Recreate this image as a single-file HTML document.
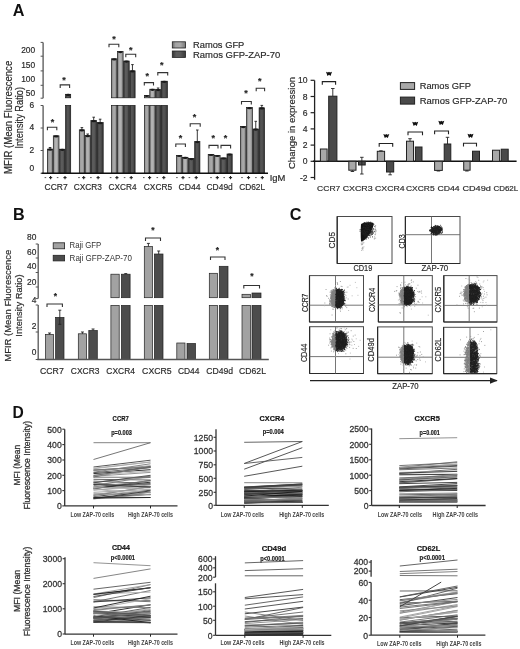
<!DOCTYPE html>
<html><head><meta charset="utf-8"><title>Figure</title>
<style>
html,body{margin:0;padding:0;background:#fff;}
body{width:520px;height:649px;overflow:hidden;}
svg{filter:blur(0.35px);}
</style></head><body>
<svg width="520" height="649" viewBox="0 0 520 649" style="display:block">
<defs>
<linearGradient id="gl" x1="0" x2="1" y1="0" y2="0">
<stop offset="0" stop-color="#6a6a6a"/><stop offset="0.25" stop-color="#a4a4a4"/><stop offset="0.6" stop-color="#aaaaaa"/><stop offset="1" stop-color="#7a7a7a"/></linearGradient>
<linearGradient id="gl2" x1="0" x2="1" y1="0" y2="0">
<stop offset="0" stop-color="#707070"/><stop offset="0.3" stop-color="#b0b0b0"/><stop offset="0.6" stop-color="#b4b4b4"/><stop offset="1" stop-color="#808080"/></linearGradient>
<linearGradient id="gd" x1="0" x2="1" y1="0" y2="0">
<stop offset="0" stop-color="#333"/><stop offset="0.3" stop-color="#5c5c5c"/><stop offset="0.6" stop-color="#5a5a5a"/><stop offset="1" stop-color="#3a3a3a"/></linearGradient>
<linearGradient id="gd2" x1="0" x2="1" y1="0" y2="0">
<stop offset="0" stop-color="#2a2a2a"/><stop offset="0.3" stop-color="#555"/><stop offset="0.6" stop-color="#525252"/><stop offset="1" stop-color="#333"/></linearGradient>
<filter id="fb1" x="-50%" y="-50%" width="200%" height="200%"><feGaussianBlur stdDeviation="0.7"/></filter>
<filter id="fb2" x="-50%" y="-50%" width="200%" height="200%"><feGaussianBlur stdDeviation="1.4"/></filter>
<marker id="arr" viewBox="0 0 10 10" refX="9" refY="5" markerWidth="6" markerHeight="6" orient="auto"><path d="M0 1L10 5L0 9z" fill="#222"/></marker>
</defs>
<g font-family='"Liberation Sans", sans-serif'>
<text x="12.70" y="15.60" font-size="16.2" text-anchor="start" font-weight="bold" fill="#111">A</text>
<line x1="43.10" y1="42.40" x2="43.10" y2="98.20" stroke="#555" stroke-width="1.3"/>
<line x1="40.60" y1="42.40" x2="43.10" y2="42.40" stroke="#555" stroke-width="1"/>
<line x1="40.60" y1="56.20" x2="43.10" y2="56.20" stroke="#555" stroke-width="1"/>
<line x1="40.60" y1="70.90" x2="43.10" y2="70.90" stroke="#555" stroke-width="1"/>
<line x1="40.60" y1="85.30" x2="43.10" y2="85.30" stroke="#555" stroke-width="1"/>
<line x1="40.60" y1="98.20" x2="43.10" y2="98.20" stroke="#555" stroke-width="1"/>
<line x1="43.10" y1="105.50" x2="43.10" y2="173.30" stroke="#555" stroke-width="1.3"/>
<line x1="40.60" y1="105.50" x2="43.10" y2="105.50" stroke="#555" stroke-width="1"/>
<line x1="40.60" y1="128.00" x2="43.10" y2="128.00" stroke="#555" stroke-width="1"/>
<line x1="40.60" y1="150.50" x2="43.10" y2="150.50" stroke="#555" stroke-width="1"/>
<line x1="40.60" y1="173.30" x2="43.10" y2="173.30" stroke="#555" stroke-width="1"/>
<text x="35.20" y="53.00" font-size="8.4" text-anchor="end" font-weight="normal" fill="#2a2a2a" stroke="#2a2a2a" stroke-width="0.18">200</text>
<text x="35.20" y="67.50" font-size="8.4" text-anchor="end" font-weight="normal" fill="#2a2a2a" stroke="#2a2a2a" stroke-width="0.18">150</text>
<text x="35.20" y="82.00" font-size="8.4" text-anchor="end" font-weight="normal" fill="#2a2a2a" stroke="#2a2a2a" stroke-width="0.18">100</text>
<text x="35.20" y="96.00" font-size="8.4" text-anchor="end" font-weight="normal" fill="#2a2a2a" stroke="#2a2a2a" stroke-width="0.18">50</text>
<text x="34.20" y="108.30" font-size="8.4" text-anchor="end" font-weight="normal" fill="#2a2a2a" stroke="#2a2a2a" stroke-width="0.18">6</text>
<text x="34.20" y="130.00" font-size="8.4" text-anchor="end" font-weight="normal" fill="#2a2a2a" stroke="#2a2a2a" stroke-width="0.18">4</text>
<text x="34.20" y="152.70" font-size="8.4" text-anchor="end" font-weight="normal" fill="#2a2a2a" stroke="#2a2a2a" stroke-width="0.18">2</text>
<text x="34.20" y="171.00" font-size="8.4" text-anchor="end" font-weight="normal" fill="#2a2a2a" stroke="#2a2a2a" stroke-width="0.18">0</text>
<text x="12.00" y="173.90" font-size="10" text-anchor="start" font-weight="normal" fill="#2a2a2a" stroke="#2a2a2a" stroke-width="0.18" textLength="113.10" lengthAdjust="spacingAndGlyphs" transform="rotate(-90 12.00 173.90)">MFIR (Mean Fluorescence</text>
<text x="23.20" y="148.60" font-size="10" text-anchor="start" font-weight="normal" fill="#2a2a2a" stroke="#2a2a2a" stroke-width="0.18" textLength="61.60" lengthAdjust="spacingAndGlyphs" transform="rotate(-90 23.20 148.60)">Intensity Ratio)</text>
<rect x="47.40" y="149.10" width="5.30" height="24.20" fill="url(#gl)" stroke="#1a1a1a" stroke-width="0.7"/>
<ellipse cx="50.05" cy="149.70" rx="2.35" ry="1.1" fill="#1a1a1a"/>
<line x1="50.05" y1="147.50" x2="50.05" y2="149.10" stroke="#222" stroke-width="0.9"/>
<line x1="48.75" y1="147.50" x2="51.35" y2="147.50" stroke="#222" stroke-width="0.9"/>
<rect x="53.30" y="135.80" width="5.70" height="37.50" fill="url(#gl2)" stroke="#1a1a1a" stroke-width="0.7"/>
<ellipse cx="56.15" cy="136.40" rx="2.55" ry="1.1" fill="#1a1a1a"/>
<rect x="59.60" y="149.20" width="5.40" height="24.10" fill="url(#gd)" stroke="#1a1a1a" stroke-width="0.7"/>
<ellipse cx="62.30" cy="149.80" rx="2.40" ry="1.1" fill="#1a1a1a"/>
<rect x="65.60" y="94.30" width="5.10" height="3.50" fill="url(#gd2)" stroke="#1a1a1a" stroke-width="0.7"/>
<rect x="65.60" y="105.40" width="5.10" height="67.90" fill="url(#gd2)" stroke="#1a1a1a" stroke-width="0.7"/>
<ellipse cx="68.15" cy="94.90" rx="2.25" ry="1.1" fill="#1a1a1a"/>
<rect x="79.30" y="129.80" width="5.20" height="43.50" fill="url(#gl)" stroke="#1a1a1a" stroke-width="0.7"/>
<ellipse cx="81.90" cy="130.40" rx="2.30" ry="1.1" fill="#1a1a1a"/>
<line x1="81.90" y1="127.60" x2="81.90" y2="129.80" stroke="#222" stroke-width="0.9"/>
<line x1="80.60" y1="127.60" x2="83.20" y2="127.60" stroke="#222" stroke-width="0.9"/>
<rect x="85.10" y="135.60" width="5.20" height="37.70" fill="url(#gl2)" stroke="#1a1a1a" stroke-width="0.7"/>
<ellipse cx="87.70" cy="136.20" rx="2.30" ry="1.1" fill="#1a1a1a"/>
<line x1="87.70" y1="134.00" x2="87.70" y2="135.60" stroke="#222" stroke-width="0.9"/>
<line x1="86.40" y1="134.00" x2="89.00" y2="134.00" stroke="#222" stroke-width="0.9"/>
<rect x="90.90" y="120.60" width="5.60" height="52.70" fill="url(#gd)" stroke="#1a1a1a" stroke-width="0.7"/>
<ellipse cx="93.70" cy="121.20" rx="2.50" ry="1.1" fill="#1a1a1a"/>
<line x1="93.70" y1="117.20" x2="93.70" y2="120.60" stroke="#222" stroke-width="0.9"/>
<line x1="92.40" y1="117.20" x2="95.00" y2="117.20" stroke="#222" stroke-width="0.9"/>
<rect x="97.10" y="122.60" width="6.10" height="50.70" fill="url(#gd2)" stroke="#1a1a1a" stroke-width="0.7"/>
<ellipse cx="100.15" cy="123.20" rx="2.75" ry="1.1" fill="#1a1a1a"/>
<line x1="100.15" y1="119.20" x2="100.15" y2="122.60" stroke="#222" stroke-width="0.9"/>
<line x1="98.85" y1="119.20" x2="101.45" y2="119.20" stroke="#222" stroke-width="0.9"/>
<rect x="111.50" y="58.80" width="5.40" height="39.00" fill="url(#gl)" stroke="#1a1a1a" stroke-width="0.7"/>
<rect x="111.50" y="105.40" width="5.40" height="67.90" fill="url(#gl)" stroke="#1a1a1a" stroke-width="0.7"/>
<ellipse cx="114.20" cy="59.40" rx="2.40" ry="1.1" fill="#1a1a1a"/>
<rect x="117.50" y="51.50" width="5.60" height="46.30" fill="url(#gl2)" stroke="#1a1a1a" stroke-width="0.7"/>
<rect x="117.50" y="105.40" width="5.60" height="67.90" fill="url(#gl2)" stroke="#1a1a1a" stroke-width="0.7"/>
<ellipse cx="120.30" cy="52.10" rx="2.50" ry="1.1" fill="#1a1a1a"/>
<rect x="123.70" y="61.00" width="5.50" height="36.80" fill="url(#gd)" stroke="#1a1a1a" stroke-width="0.7"/>
<rect x="123.70" y="105.40" width="5.50" height="67.90" fill="url(#gd)" stroke="#1a1a1a" stroke-width="0.7"/>
<ellipse cx="126.45" cy="61.60" rx="2.45" ry="1.1" fill="#1a1a1a"/>
<rect x="129.80" y="70.80" width="5.30" height="27.00" fill="url(#gd2)" stroke="#1a1a1a" stroke-width="0.7"/>
<rect x="129.80" y="105.40" width="5.30" height="67.90" fill="url(#gd2)" stroke="#1a1a1a" stroke-width="0.7"/>
<ellipse cx="132.45" cy="71.40" rx="2.35" ry="1.1" fill="#1a1a1a"/>
<line x1="132.45" y1="64.60" x2="132.45" y2="70.80" stroke="#222" stroke-width="0.9"/>
<line x1="131.15" y1="64.60" x2="133.75" y2="64.60" stroke="#222" stroke-width="0.9"/>
<rect x="144.50" y="95.40" width="4.70" height="2.40" fill="url(#gl)" stroke="#1a1a1a" stroke-width="0.7"/>
<rect x="144.50" y="105.40" width="4.70" height="67.90" fill="url(#gl)" stroke="#1a1a1a" stroke-width="0.7"/>
<ellipse cx="146.85" cy="96.00" rx="2.05" ry="1.1" fill="#1a1a1a"/>
<rect x="149.80" y="89.20" width="5.30" height="8.60" fill="url(#gl2)" stroke="#1a1a1a" stroke-width="0.7"/>
<rect x="149.80" y="105.40" width="5.30" height="67.90" fill="url(#gl2)" stroke="#1a1a1a" stroke-width="0.7"/>
<ellipse cx="152.45" cy="89.80" rx="2.35" ry="1.1" fill="#1a1a1a"/>
<rect x="155.70" y="89.50" width="4.80" height="8.30" fill="url(#gd)" stroke="#1a1a1a" stroke-width="0.7"/>
<rect x="155.70" y="105.40" width="4.80" height="67.90" fill="url(#gd)" stroke="#1a1a1a" stroke-width="0.7"/>
<ellipse cx="158.10" cy="90.10" rx="2.10" ry="1.1" fill="#1a1a1a"/>
<line x1="158.10" y1="88.00" x2="158.10" y2="89.50" stroke="#222" stroke-width="0.9"/>
<line x1="156.80" y1="88.00" x2="159.40" y2="88.00" stroke="#222" stroke-width="0.9"/>
<rect x="161.10" y="81.20" width="6.30" height="16.60" fill="url(#gd2)" stroke="#1a1a1a" stroke-width="0.7"/>
<rect x="161.10" y="105.40" width="6.30" height="67.90" fill="url(#gd2)" stroke="#1a1a1a" stroke-width="0.7"/>
<ellipse cx="164.25" cy="81.80" rx="2.85" ry="1.1" fill="#1a1a1a"/>
<rect x="176.60" y="155.40" width="5.20" height="17.90" fill="url(#gl)" stroke="#1a1a1a" stroke-width="0.7"/>
<ellipse cx="179.20" cy="156.00" rx="2.30" ry="1.1" fill="#1a1a1a"/>
<rect x="182.40" y="157.30" width="5.60" height="16.00" fill="url(#gl2)" stroke="#1a1a1a" stroke-width="0.7"/>
<ellipse cx="185.20" cy="157.90" rx="2.50" ry="1.1" fill="#1a1a1a"/>
<rect x="188.60" y="158.50" width="5.50" height="14.80" fill="url(#gd)" stroke="#1a1a1a" stroke-width="0.7"/>
<ellipse cx="191.35" cy="159.10" rx="2.45" ry="1.1" fill="#1a1a1a"/>
<rect x="194.70" y="141.50" width="5.20" height="31.80" fill="url(#gd2)" stroke="#1a1a1a" stroke-width="0.7"/>
<ellipse cx="197.30" cy="142.10" rx="2.30" ry="1.1" fill="#1a1a1a"/>
<line x1="197.30" y1="130.00" x2="197.30" y2="141.50" stroke="#222" stroke-width="0.9"/>
<line x1="196.00" y1="130.00" x2="198.60" y2="130.00" stroke="#222" stroke-width="0.9"/>
<rect x="208.20" y="154.40" width="5.70" height="18.90" fill="url(#gl)" stroke="#1a1a1a" stroke-width="0.7"/>
<ellipse cx="211.05" cy="155.00" rx="2.55" ry="1.1" fill="#1a1a1a"/>
<rect x="214.50" y="155.40" width="5.60" height="17.90" fill="url(#gl2)" stroke="#1a1a1a" stroke-width="0.7"/>
<ellipse cx="217.30" cy="156.00" rx="2.50" ry="1.1" fill="#1a1a1a"/>
<rect x="220.70" y="157.90" width="5.70" height="15.40" fill="url(#gd)" stroke="#1a1a1a" stroke-width="0.7"/>
<ellipse cx="223.55" cy="158.50" rx="2.55" ry="1.1" fill="#1a1a1a"/>
<rect x="227.00" y="154.00" width="5.20" height="19.30" fill="url(#gd2)" stroke="#1a1a1a" stroke-width="0.7"/>
<ellipse cx="229.60" cy="154.60" rx="2.30" ry="1.1" fill="#1a1a1a"/>
<rect x="240.50" y="126.50" width="5.50" height="46.80" fill="url(#gl)" stroke="#1a1a1a" stroke-width="0.7"/>
<ellipse cx="243.25" cy="127.10" rx="2.45" ry="1.1" fill="#1a1a1a"/>
<rect x="246.60" y="107.60" width="5.80" height="65.70" fill="url(#gl2)" stroke="#1a1a1a" stroke-width="0.7"/>
<ellipse cx="249.50" cy="108.20" rx="2.60" ry="1.1" fill="#1a1a1a"/>
<rect x="253.00" y="129.00" width="5.50" height="44.30" fill="url(#gd)" stroke="#1a1a1a" stroke-width="0.7"/>
<ellipse cx="255.75" cy="129.60" rx="2.45" ry="1.1" fill="#1a1a1a"/>
<line x1="255.75" y1="121.30" x2="255.75" y2="129.00" stroke="#222" stroke-width="0.9"/>
<line x1="254.45" y1="121.30" x2="257.05" y2="121.30" stroke="#222" stroke-width="0.9"/>
<rect x="259.10" y="107.80" width="5.40" height="65.50" fill="url(#gd2)" stroke="#1a1a1a" stroke-width="0.7"/>
<ellipse cx="261.80" cy="108.40" rx="2.40" ry="1.1" fill="#1a1a1a"/>
<line x1="261.80" y1="105.40" x2="261.80" y2="107.80" stroke="#222" stroke-width="0.9"/>
<line x1="260.50" y1="105.40" x2="263.10" y2="105.40" stroke="#222" stroke-width="0.9"/>
<line x1="41.60" y1="173.30" x2="268.00" y2="173.30" stroke="#111" stroke-width="1.5"/>
<path d="M47.40 130.30V127.30H56.80V130.30" fill="none" stroke="#333" stroke-width="1.1"/>
<text x="52.40" y="124.50" font-size="9" text-anchor="middle" font-weight="bold" fill="#222" stroke="#222" stroke-width="0.18">*</text>
<path d="M60.20 87.90V84.90H69.60V87.90" fill="none" stroke="#333" stroke-width="1.1"/>
<text x="64.00" y="83.00" font-size="9" text-anchor="middle" font-weight="bold" fill="#222" stroke="#222" stroke-width="0.18">*</text>
<path d="M109.00 47.30V44.30H118.80V47.30" fill="none" stroke="#333" stroke-width="1.1"/>
<text x="114.00" y="41.60" font-size="9" text-anchor="middle" font-weight="bold" fill="#222" stroke="#222" stroke-width="0.18">*</text>
<path d="M125.80 57.30V54.30H135.70V57.30" fill="none" stroke="#333" stroke-width="1.1"/>
<text x="130.80" y="52.70" font-size="9" text-anchor="middle" font-weight="bold" fill="#222" stroke="#222" stroke-width="0.18">*</text>
<path d="M144.30 85.60V82.60H153.50V85.60" fill="none" stroke="#333" stroke-width="1.1"/>
<text x="147.20" y="78.80" font-size="9" text-anchor="middle" font-weight="bold" fill="#222" stroke="#222" stroke-width="0.18">*</text>
<path d="M157.80 75.60V72.60H167.70V75.60" fill="none" stroke="#333" stroke-width="1.1"/>
<text x="161.80" y="68.40" font-size="9" text-anchor="middle" font-weight="bold" fill="#222" stroke="#222" stroke-width="0.18">*</text>
<path d="M175.80 147.00V144.00H185.40V147.00" fill="none" stroke="#333" stroke-width="1.1"/>
<text x="180.60" y="140.90" font-size="9" text-anchor="middle" font-weight="bold" fill="#222" stroke="#222" stroke-width="0.18">*</text>
<path d="M190.20 126.70V123.70H200.20V126.70" fill="none" stroke="#333" stroke-width="1.1"/>
<text x="194.60" y="119.80" font-size="9" text-anchor="middle" font-weight="bold" fill="#222" stroke="#222" stroke-width="0.18">*</text>
<path d="M209.00 148.40V145.40H218.00V148.40" fill="none" stroke="#333" stroke-width="1.1"/>
<text x="213.30" y="140.50" font-size="9" text-anchor="middle" font-weight="bold" fill="#222" stroke="#222" stroke-width="0.18">*</text>
<path d="M221.00 148.40V145.40H230.60V148.40" fill="none" stroke="#333" stroke-width="1.1"/>
<text x="225.40" y="140.50" font-size="9" text-anchor="middle" font-weight="bold" fill="#222" stroke="#222" stroke-width="0.18">*</text>
<path d="M241.50 104.50V101.50H251.30V104.50" fill="none" stroke="#333" stroke-width="1.1"/>
<text x="245.90" y="95.90" font-size="9" text-anchor="middle" font-weight="bold" fill="#222" stroke="#222" stroke-width="0.18">*</text>
<path d="M256.20 91.20V88.20H264.60V91.20" fill="none" stroke="#333" stroke-width="1.1"/>
<text x="259.70" y="83.70" font-size="9" text-anchor="middle" font-weight="bold" fill="#222" stroke="#222" stroke-width="0.18">*</text>
<line x1="44.60" y1="177.60" x2="46.20" y2="177.60" stroke="#555" stroke-width="1"/>
<line x1="49.00" y1="177.60" x2="52.20" y2="177.60" stroke="#222" stroke-width="1.1"/>
<line x1="50.60" y1="176.00" x2="50.60" y2="179.20" stroke="#222" stroke-width="1.1"/>
<line x1="56.80" y1="177.60" x2="58.40" y2="177.60" stroke="#555" stroke-width="1"/>
<line x1="63.40" y1="177.60" x2="66.60" y2="177.60" stroke="#222" stroke-width="1.1"/>
<line x1="65.00" y1="176.00" x2="65.00" y2="179.20" stroke="#222" stroke-width="1.1"/>
<line x1="78.20" y1="177.60" x2="79.80" y2="177.60" stroke="#555" stroke-width="1"/>
<line x1="82.10" y1="177.60" x2="85.30" y2="177.60" stroke="#222" stroke-width="1.1"/>
<line x1="83.70" y1="176.00" x2="83.70" y2="179.20" stroke="#222" stroke-width="1.1"/>
<line x1="90.10" y1="177.60" x2="91.70" y2="177.60" stroke="#555" stroke-width="1"/>
<line x1="96.50" y1="177.60" x2="99.70" y2="177.60" stroke="#222" stroke-width="1.1"/>
<line x1="98.10" y1="176.00" x2="98.10" y2="179.20" stroke="#222" stroke-width="1.1"/>
<line x1="109.80" y1="177.60" x2="111.40" y2="177.60" stroke="#555" stroke-width="1"/>
<line x1="115.30" y1="177.60" x2="118.50" y2="177.60" stroke="#222" stroke-width="1.1"/>
<line x1="116.90" y1="176.00" x2="116.90" y2="179.20" stroke="#222" stroke-width="1.1"/>
<line x1="123.80" y1="177.60" x2="125.40" y2="177.60" stroke="#555" stroke-width="1"/>
<line x1="129.60" y1="177.60" x2="132.80" y2="177.60" stroke="#222" stroke-width="1.1"/>
<line x1="131.20" y1="176.00" x2="131.20" y2="179.20" stroke="#222" stroke-width="1.1"/>
<line x1="143.00" y1="177.60" x2="144.60" y2="177.60" stroke="#555" stroke-width="1"/>
<line x1="148.00" y1="177.60" x2="151.20" y2="177.60" stroke="#222" stroke-width="1.1"/>
<line x1="149.60" y1="176.00" x2="149.60" y2="179.20" stroke="#222" stroke-width="1.1"/>
<line x1="156.50" y1="177.60" x2="158.10" y2="177.60" stroke="#555" stroke-width="1"/>
<line x1="162.20" y1="177.60" x2="165.40" y2="177.60" stroke="#222" stroke-width="1.1"/>
<line x1="163.80" y1="176.00" x2="163.80" y2="179.20" stroke="#222" stroke-width="1.1"/>
<line x1="176.10" y1="177.60" x2="177.70" y2="177.60" stroke="#555" stroke-width="1"/>
<line x1="181.40" y1="177.60" x2="184.60" y2="177.60" stroke="#222" stroke-width="1.1"/>
<line x1="183.00" y1="176.00" x2="183.00" y2="179.20" stroke="#222" stroke-width="1.1"/>
<line x1="188.60" y1="177.60" x2="190.20" y2="177.60" stroke="#555" stroke-width="1"/>
<line x1="194.60" y1="177.60" x2="197.80" y2="177.60" stroke="#222" stroke-width="1.1"/>
<line x1="196.20" y1="176.00" x2="196.20" y2="179.20" stroke="#222" stroke-width="1.1"/>
<line x1="210.20" y1="177.60" x2="211.80" y2="177.60" stroke="#555" stroke-width="1"/>
<line x1="215.70" y1="177.60" x2="218.90" y2="177.60" stroke="#222" stroke-width="1.1"/>
<line x1="217.30" y1="176.00" x2="217.30" y2="179.20" stroke="#222" stroke-width="1.1"/>
<line x1="223.40" y1="177.60" x2="225.00" y2="177.60" stroke="#555" stroke-width="1"/>
<line x1="228.90" y1="177.60" x2="232.10" y2="177.60" stroke="#222" stroke-width="1.1"/>
<line x1="230.50" y1="176.00" x2="230.50" y2="179.20" stroke="#222" stroke-width="1.1"/>
<line x1="241.20" y1="177.60" x2="242.80" y2="177.60" stroke="#555" stroke-width="1"/>
<line x1="246.90" y1="177.60" x2="250.10" y2="177.60" stroke="#222" stroke-width="1.1"/>
<line x1="248.50" y1="176.00" x2="248.50" y2="179.20" stroke="#222" stroke-width="1.1"/>
<line x1="255.10" y1="177.60" x2="256.70" y2="177.60" stroke="#555" stroke-width="1"/>
<line x1="260.70" y1="177.60" x2="263.90" y2="177.60" stroke="#222" stroke-width="1.1"/>
<line x1="262.30" y1="176.00" x2="262.30" y2="179.20" stroke="#222" stroke-width="1.1"/>
<text x="269.70" y="180.60" font-size="8.8" text-anchor="start" font-weight="normal" fill="#2a2a2a" stroke="#2a2a2a" stroke-width="0.18" textLength="15.70" lengthAdjust="spacingAndGlyphs">IgM</text>
<text x="44.50" y="190.20" font-size="9.4" text-anchor="start" font-weight="normal" fill="#2a2a2a" stroke="#2a2a2a" stroke-width="0.18" textLength="23.10" lengthAdjust="spacingAndGlyphs">CCR7</text>
<text x="73.80" y="190.20" font-size="9.4" text-anchor="start" font-weight="normal" fill="#2a2a2a" stroke="#2a2a2a" stroke-width="0.18" textLength="28.20" lengthAdjust="spacingAndGlyphs">CXCR3</text>
<text x="108.60" y="190.20" font-size="9.4" text-anchor="start" font-weight="normal" fill="#2a2a2a" stroke="#2a2a2a" stroke-width="0.18" textLength="28.00" lengthAdjust="spacingAndGlyphs">CXCR4</text>
<text x="143.80" y="190.20" font-size="9.4" text-anchor="start" font-weight="normal" fill="#2a2a2a" stroke="#2a2a2a" stroke-width="0.18" textLength="28.30" lengthAdjust="spacingAndGlyphs">CXCR5</text>
<text x="178.40" y="190.20" font-size="9.4" text-anchor="start" font-weight="normal" fill="#2a2a2a" stroke="#2a2a2a" stroke-width="0.18" textLength="22.10" lengthAdjust="spacingAndGlyphs">CD44</text>
<text x="206.50" y="190.20" font-size="9.4" text-anchor="start" font-weight="normal" fill="#2a2a2a" stroke="#2a2a2a" stroke-width="0.18" textLength="26.30" lengthAdjust="spacingAndGlyphs">CD49d</text>
<text x="239.20" y="190.20" font-size="9.4" text-anchor="start" font-weight="normal" fill="#2a2a2a" stroke="#2a2a2a" stroke-width="0.18" textLength="25.90" lengthAdjust="spacingAndGlyphs">CD62L</text>
<rect x="172.30" y="41.80" width="13.20" height="6.20" fill="url(#gl)" stroke="#222" stroke-width="0.8"/>
<rect x="172.30" y="51.00" width="13.20" height="6.40" fill="url(#gd)" stroke="#222" stroke-width="0.8"/>
<text x="193.00" y="47.70" font-size="9.6" text-anchor="start" font-weight="normal" fill="#2a2a2a" stroke="#2a2a2a" stroke-width="0.18" textLength="51.30" lengthAdjust="spacingAndGlyphs">Ramos GFP</text>
<text x="193.00" y="57.60" font-size="9.6" text-anchor="start" font-weight="normal" fill="#2a2a2a" stroke="#2a2a2a" stroke-width="0.18" textLength="87.30" lengthAdjust="spacingAndGlyphs">Ramos GFP-ZAP-70</text>
<line x1="314.60" y1="80.40" x2="314.60" y2="179.80" stroke="#222" stroke-width="1.3"/>
<line x1="310.60" y1="80.30" x2="314.60" y2="80.30" stroke="#222" stroke-width="1.2"/>
<text x="307.60" y="83.40" font-size="8.6" text-anchor="end" font-weight="normal" fill="#2a2a2a" stroke="#2a2a2a" stroke-width="0.18">10</text>
<line x1="310.60" y1="96.50" x2="314.60" y2="96.50" stroke="#222" stroke-width="1.2"/>
<text x="307.60" y="99.60" font-size="8.6" text-anchor="end" font-weight="normal" fill="#2a2a2a" stroke="#2a2a2a" stroke-width="0.18">8</text>
<line x1="310.60" y1="112.70" x2="314.60" y2="112.70" stroke="#222" stroke-width="1.2"/>
<text x="307.60" y="115.80" font-size="8.6" text-anchor="end" font-weight="normal" fill="#2a2a2a" stroke="#2a2a2a" stroke-width="0.18">6</text>
<line x1="310.60" y1="128.90" x2="314.60" y2="128.90" stroke="#222" stroke-width="1.2"/>
<text x="307.60" y="132.00" font-size="8.6" text-anchor="end" font-weight="normal" fill="#2a2a2a" stroke="#2a2a2a" stroke-width="0.18">4</text>
<line x1="310.60" y1="145.10" x2="314.60" y2="145.10" stroke="#222" stroke-width="1.2"/>
<text x="307.60" y="148.20" font-size="8.6" text-anchor="end" font-weight="normal" fill="#2a2a2a" stroke="#2a2a2a" stroke-width="0.18">2</text>
<line x1="310.60" y1="161.30" x2="314.60" y2="161.30" stroke="#222" stroke-width="1.2"/>
<text x="307.60" y="164.40" font-size="8.6" text-anchor="end" font-weight="normal" fill="#2a2a2a" stroke="#2a2a2a" stroke-width="0.18">0</text>
<line x1="310.60" y1="177.50" x2="314.60" y2="177.50" stroke="#222" stroke-width="1.2"/>
<text x="307.60" y="180.60" font-size="8.6" text-anchor="end" font-weight="normal" fill="#2a2a2a" stroke="#2a2a2a" stroke-width="0.18">-2</text>
<text x="294.80" y="169.00" font-size="9.6" text-anchor="start" font-weight="normal" fill="#2a2a2a" stroke="#2a2a2a" stroke-width="0.18" textLength="92.00" lengthAdjust="spacingAndGlyphs" transform="rotate(-90 294.80 169.00)">Change in expression</text>
<line x1="313.00" y1="161.30" x2="516.60" y2="161.30" stroke="#111" stroke-width="1.6"/>
<rect x="320.40" y="149.00" width="6.70" height="12.30" fill="#a8a8a8" stroke="#222" stroke-width="1"/>
<rect x="328.70" y="96.20" width="8.20" height="65.10" fill="#4a4a4a" stroke="#222" stroke-width="1"/>
<line x1="332.80" y1="88.50" x2="332.80" y2="96.20" stroke="#222" stroke-width="0.9"/>
<line x1="331.05" y1="88.50" x2="334.55" y2="88.50" stroke="#222" stroke-width="0.9"/>
<rect x="348.80" y="161.30" width="7.20" height="8.90" fill="#a8a8a8" stroke="#222" stroke-width="1"/>
<line x1="352.40" y1="171.50" x2="352.40" y2="170.20" stroke="#222" stroke-width="0.9"/>
<line x1="350.65" y1="171.50" x2="354.15" y2="171.50" stroke="#222" stroke-width="0.9"/>
<rect x="358.50" y="161.30" width="6.70" height="3.70" fill="#4a4a4a" stroke="#222" stroke-width="1"/>
<line x1="361.85" y1="157.30" x2="361.85" y2="174.00" stroke="#222" stroke-width="0.9"/>
<line x1="360.10" y1="157.30" x2="363.60" y2="157.30" stroke="#222" stroke-width="0.9"/>
<line x1="360.10" y1="174.00" x2="363.60" y2="174.00" stroke="#222" stroke-width="0.9"/>
<rect x="377.30" y="151.30" width="7.30" height="10.00" fill="#a8a8a8" stroke="#222" stroke-width="1"/>
<line x1="380.95" y1="150.80" x2="380.95" y2="151.30" stroke="#222" stroke-width="0.9"/>
<line x1="379.20" y1="150.80" x2="382.70" y2="150.80" stroke="#222" stroke-width="0.9"/>
<rect x="386.50" y="161.30" width="7.20" height="10.70" fill="#4a4a4a" stroke="#222" stroke-width="1"/>
<line x1="390.10" y1="174.80" x2="390.10" y2="172.00" stroke="#222" stroke-width="0.9"/>
<line x1="388.35" y1="174.80" x2="391.85" y2="174.80" stroke="#222" stroke-width="0.9"/>
<rect x="406.50" y="141.20" width="7.00" height="20.10" fill="#a8a8a8" stroke="#222" stroke-width="1"/>
<line x1="410.00" y1="138.70" x2="410.00" y2="141.20" stroke="#222" stroke-width="0.9"/>
<line x1="408.25" y1="138.70" x2="411.75" y2="138.70" stroke="#222" stroke-width="0.9"/>
<rect x="415.40" y="147.00" width="6.60" height="14.30" fill="#4a4a4a" stroke="#222" stroke-width="1"/>
<rect x="434.60" y="161.30" width="7.70" height="9.10" fill="#a8a8a8" stroke="#222" stroke-width="1"/>
<line x1="438.45" y1="171.00" x2="438.45" y2="170.40" stroke="#222" stroke-width="0.9"/>
<line x1="436.70" y1="171.00" x2="440.20" y2="171.00" stroke="#222" stroke-width="0.9"/>
<rect x="444.20" y="144.00" width="6.60" height="17.30" fill="#4a4a4a" stroke="#222" stroke-width="1"/>
<line x1="447.50" y1="137.30" x2="447.50" y2="144.00" stroke="#222" stroke-width="0.9"/>
<line x1="445.75" y1="137.30" x2="449.25" y2="137.30" stroke="#222" stroke-width="0.9"/>
<rect x="463.70" y="161.30" width="6.40" height="8.90" fill="#a8a8a8" stroke="#222" stroke-width="1"/>
<line x1="466.90" y1="171.00" x2="466.90" y2="170.20" stroke="#222" stroke-width="0.9"/>
<line x1="465.15" y1="171.00" x2="468.65" y2="171.00" stroke="#222" stroke-width="0.9"/>
<rect x="472.50" y="151.20" width="7.00" height="10.10" fill="#4a4a4a" stroke="#222" stroke-width="1"/>
<rect x="492.50" y="150.20" width="7.10" height="11.10" fill="#a8a8a8" stroke="#222" stroke-width="1"/>
<rect x="501.20" y="149.20" width="7.00" height="12.10" fill="#4a4a4a" stroke="#222" stroke-width="1"/>
<path d="M322.30 84.80V81.60H335.60V84.80" fill="none" stroke="#222" stroke-width="1.1"/>
<path d="M326.00 71.70L328.00 72.50L329.00 71.70L330.00 72.50L332.00 71.70L330.50 75.90L329.00 74.80L327.50 75.90Z" fill="#111"/>
<path d="M379.20 146.70V143.50H392.70V146.70" fill="none" stroke="#222" stroke-width="1.1"/>
<path d="M383.30 133.90L385.30 134.70L386.30 133.90L387.30 134.70L389.30 133.90L387.80 138.10L386.30 137.00L384.80 138.10Z" fill="#111"/>
<path d="M408.00 135.20V132.00H422.50V135.20" fill="none" stroke="#222" stroke-width="1.1"/>
<path d="M412.20 121.70L414.20 122.50L415.20 121.70L416.20 122.50L418.20 121.70L416.70 125.90L415.20 124.80L413.70 125.90Z" fill="#111"/>
<path d="M434.60 134.20V131.00H448.50V134.20" fill="none" stroke="#222" stroke-width="1.1"/>
<path d="M438.30 120.80L440.30 121.60L441.30 120.80L442.30 121.60L444.30 120.80L442.80 125.00L441.30 123.90L439.80 125.00Z" fill="#111"/>
<path d="M463.50 146.40V143.20H476.50V146.40" fill="none" stroke="#222" stroke-width="1.1"/>
<path d="M467.50 133.70L469.50 134.50L470.50 133.70L471.50 134.50L473.50 133.70L472.00 137.90L470.50 136.80L469.00 137.90Z" fill="#111"/>
<rect x="400.40" y="82.60" width="14.20" height="6.80" fill="#a8a8a8" stroke="#222" stroke-width="1"/>
<rect x="400.40" y="97.10" width="14.20" height="7.00" fill="#4a4a4a" stroke="#222" stroke-width="1"/>
<text x="419.70" y="89.00" font-size="9.4" text-anchor="start" font-weight="normal" fill="#2a2a2a" stroke="#2a2a2a" stroke-width="0.18" textLength="51.30" lengthAdjust="spacingAndGlyphs">Ramos GFP</text>
<text x="419.70" y="103.90" font-size="9.4" text-anchor="start" font-weight="normal" fill="#2a2a2a" stroke="#2a2a2a" stroke-width="0.18" textLength="87.50" lengthAdjust="spacingAndGlyphs">Ramos GFP-ZAP-70</text>
<text x="317.10" y="190.60" font-size="8.0" text-anchor="start" font-weight="normal" fill="#2a2a2a" stroke="#2a2a2a" stroke-width="0.18" textLength="23.20" lengthAdjust="spacingAndGlyphs">CCR7</text>
<text x="342.70" y="190.60" font-size="8.0" text-anchor="start" font-weight="normal" fill="#2a2a2a" stroke="#2a2a2a" stroke-width="0.18" textLength="29.90" lengthAdjust="spacingAndGlyphs">CXCR3</text>
<text x="375.00" y="190.60" font-size="8.0" text-anchor="start" font-weight="normal" fill="#2a2a2a" stroke="#2a2a2a" stroke-width="0.18" textLength="29.60" lengthAdjust="spacingAndGlyphs">CXCR4</text>
<text x="406.00" y="190.60" font-size="8.0" text-anchor="start" font-weight="normal" fill="#2a2a2a" stroke="#2a2a2a" stroke-width="0.18" textLength="28.60" lengthAdjust="spacingAndGlyphs">CXCR5</text>
<text x="437.40" y="190.60" font-size="8.0" text-anchor="start" font-weight="normal" fill="#2a2a2a" stroke="#2a2a2a" stroke-width="0.18" textLength="22.20" lengthAdjust="spacingAndGlyphs">CD44</text>
<text x="462.40" y="190.60" font-size="8.0" text-anchor="start" font-weight="normal" fill="#2a2a2a" stroke="#2a2a2a" stroke-width="0.18" textLength="28.40" lengthAdjust="spacingAndGlyphs">CD49d</text>
<text x="493.50" y="190.60" font-size="8.0" text-anchor="start" font-weight="normal" fill="#2a2a2a" stroke="#2a2a2a" stroke-width="0.18" textLength="24.70" lengthAdjust="spacingAndGlyphs">CD62L</text>
<text x="12.90" y="219.60" font-size="16.2" text-anchor="start" font-weight="bold" fill="#111">B</text>
<line x1="38.20" y1="244.00" x2="38.20" y2="298.60" stroke="#555" stroke-width="1.3"/>
<line x1="35.70" y1="244.00" x2="38.20" y2="244.00" stroke="#555" stroke-width="1"/>
<line x1="35.70" y1="258.00" x2="38.20" y2="258.00" stroke="#555" stroke-width="1"/>
<line x1="35.70" y1="272.50" x2="38.20" y2="272.50" stroke="#555" stroke-width="1"/>
<line x1="35.70" y1="287.00" x2="38.20" y2="287.00" stroke="#555" stroke-width="1"/>
<line x1="35.70" y1="298.60" x2="38.20" y2="298.60" stroke="#555" stroke-width="1"/>
<line x1="38.20" y1="305.00" x2="38.20" y2="359.50" stroke="#555" stroke-width="1.3"/>
<line x1="35.70" y1="305.00" x2="38.20" y2="305.00" stroke="#555" stroke-width="1"/>
<line x1="35.70" y1="332.00" x2="38.20" y2="332.00" stroke="#555" stroke-width="1"/>
<line x1="35.70" y1="359.50" x2="38.20" y2="359.50" stroke="#555" stroke-width="1"/>
<text x="36.30" y="240.30" font-size="8.4" text-anchor="end" font-weight="normal" fill="#2a2a2a" stroke="#2a2a2a" stroke-width="0.18">80</text>
<text x="36.30" y="255.00" font-size="8.4" text-anchor="end" font-weight="normal" fill="#2a2a2a" stroke="#2a2a2a" stroke-width="0.18">60</text>
<text x="36.30" y="268.80" font-size="8.4" text-anchor="end" font-weight="normal" fill="#2a2a2a" stroke="#2a2a2a" stroke-width="0.18">40</text>
<text x="36.30" y="284.50" font-size="8.4" text-anchor="end" font-weight="normal" fill="#2a2a2a" stroke="#2a2a2a" stroke-width="0.18">20</text>
<text x="36.30" y="302.70" font-size="8.4" text-anchor="end" font-weight="normal" fill="#2a2a2a" stroke="#2a2a2a" stroke-width="0.18">4</text>
<text x="36.30" y="329.20" font-size="8.4" text-anchor="end" font-weight="normal" fill="#2a2a2a" stroke="#2a2a2a" stroke-width="0.18">2</text>
<text x="36.30" y="355.00" font-size="8.4" text-anchor="end" font-weight="normal" fill="#2a2a2a" stroke="#2a2a2a" stroke-width="0.18">0</text>
<text x="10.80" y="361.70" font-size="9.4" text-anchor="start" font-weight="normal" fill="#2a2a2a" stroke="#2a2a2a" stroke-width="0.18" textLength="111.90" lengthAdjust="spacingAndGlyphs" transform="rotate(-90 10.80 361.70)">MFIR (Mean Fluorescence</text>
<text x="21.60" y="336.70" font-size="9.4" text-anchor="start" font-weight="normal" fill="#2a2a2a" stroke="#2a2a2a" stroke-width="0.18" textLength="62.30" lengthAdjust="spacingAndGlyphs" transform="rotate(-90 21.60 336.70)">Intensity Ratio)</text>
<rect x="45.50" y="334.40" width="8.10" height="25.10" fill="#a2a2a2" stroke="#222" stroke-width="0.7"/>
<line x1="49.55" y1="333.00" x2="49.55" y2="334.40" stroke="#222" stroke-width="0.9"/>
<line x1="48.05" y1="333.00" x2="51.05" y2="333.00" stroke="#222" stroke-width="0.9"/>
<rect x="55.60" y="317.40" width="8.40" height="42.10" fill="#4c4c4c" stroke="#222" stroke-width="0.7"/>
<line x1="59.80" y1="310.20" x2="59.80" y2="324.30" stroke="#222" stroke-width="0.9"/>
<line x1="58.30" y1="310.20" x2="61.30" y2="310.20" stroke="#222" stroke-width="0.9"/>
<line x1="58.30" y1="324.30" x2="61.30" y2="324.30" stroke="#222" stroke-width="0.9"/>
<rect x="78.30" y="333.80" width="8.30" height="25.70" fill="#a2a2a2" stroke="#222" stroke-width="0.7"/>
<line x1="82.45" y1="332.00" x2="82.45" y2="333.80" stroke="#222" stroke-width="0.9"/>
<line x1="80.95" y1="332.00" x2="83.95" y2="332.00" stroke="#222" stroke-width="0.9"/>
<rect x="88.80" y="330.50" width="8.50" height="29.00" fill="#4c4c4c" stroke="#222" stroke-width="0.7"/>
<line x1="93.05" y1="329.00" x2="93.05" y2="330.50" stroke="#222" stroke-width="0.9"/>
<line x1="91.55" y1="329.00" x2="94.55" y2="329.00" stroke="#222" stroke-width="0.9"/>
<rect x="110.90" y="274.20" width="8.30" height="23.50" fill="#a2a2a2" stroke="#222" stroke-width="0.7"/>
<rect x="110.90" y="305.40" width="8.30" height="54.10" fill="#a2a2a2" stroke="#222" stroke-width="0.7"/>
<rect x="121.40" y="274.20" width="8.70" height="23.50" fill="#4c4c4c" stroke="#222" stroke-width="0.7"/>
<rect x="121.40" y="305.40" width="8.70" height="54.10" fill="#4c4c4c" stroke="#222" stroke-width="0.7"/>
<line x1="125.75" y1="273.60" x2="125.75" y2="274.20" stroke="#222" stroke-width="0.9"/>
<line x1="124.25" y1="273.60" x2="127.25" y2="273.60" stroke="#222" stroke-width="0.9"/>
<rect x="144.30" y="246.50" width="8.20" height="51.20" fill="#a2a2a2" stroke="#222" stroke-width="0.7"/>
<rect x="144.30" y="305.40" width="8.20" height="54.10" fill="#a2a2a2" stroke="#222" stroke-width="0.7"/>
<line x1="148.40" y1="243.40" x2="148.40" y2="246.50" stroke="#222" stroke-width="0.9"/>
<line x1="146.90" y1="243.40" x2="149.90" y2="243.40" stroke="#222" stroke-width="0.9"/>
<rect x="154.40" y="254.00" width="8.60" height="43.70" fill="#4c4c4c" stroke="#222" stroke-width="0.7"/>
<rect x="154.40" y="305.40" width="8.60" height="54.10" fill="#4c4c4c" stroke="#222" stroke-width="0.7"/>
<line x1="158.70" y1="251.00" x2="158.70" y2="254.00" stroke="#222" stroke-width="0.9"/>
<line x1="157.20" y1="251.00" x2="160.20" y2="251.00" stroke="#222" stroke-width="0.9"/>
<rect x="176.80" y="343.00" width="8.20" height="16.50" fill="#a2a2a2" stroke="#222" stroke-width="0.7"/>
<rect x="187.00" y="343.50" width="8.50" height="16.00" fill="#4c4c4c" stroke="#222" stroke-width="0.7"/>
<rect x="209.30" y="273.30" width="8.20" height="24.40" fill="#a2a2a2" stroke="#222" stroke-width="0.7"/>
<rect x="209.30" y="305.40" width="8.20" height="54.10" fill="#a2a2a2" stroke="#222" stroke-width="0.7"/>
<rect x="219.30" y="266.30" width="8.70" height="31.40" fill="#4c4c4c" stroke="#222" stroke-width="0.7"/>
<rect x="219.30" y="305.40" width="8.70" height="54.10" fill="#4c4c4c" stroke="#222" stroke-width="0.7"/>
<rect x="242.00" y="294.30" width="8.50" height="3.40" fill="#a2a2a2" stroke="#222" stroke-width="0.7"/>
<rect x="242.00" y="305.40" width="8.50" height="54.10" fill="#a2a2a2" stroke="#222" stroke-width="0.7"/>
<rect x="252.00" y="293.00" width="9.00" height="4.70" fill="#4c4c4c" stroke="#222" stroke-width="0.7"/>
<rect x="252.00" y="305.40" width="9.00" height="54.10" fill="#4c4c4c" stroke="#222" stroke-width="0.7"/>
<line x1="37.20" y1="359.50" x2="268.80" y2="359.50" stroke="#555" stroke-width="1.4"/>
<path d="M47.00 307.00V304.00H62.40V307.00" fill="none" stroke="#333" stroke-width="1.1"/>
<text x="55.50" y="298.50" font-size="8.5" text-anchor="middle" font-weight="bold" fill="#222" stroke="#222" stroke-width="0.18">*</text>
<path d="M145.50 241.00V238.00H160.50V241.00" fill="none" stroke="#333" stroke-width="1.1"/>
<text x="153.00" y="232.50" font-size="8.5" text-anchor="middle" font-weight="bold" fill="#222" stroke="#222" stroke-width="0.18">*</text>
<path d="M210.50 260.00V257.00H225.00V260.00" fill="none" stroke="#333" stroke-width="1.1"/>
<text x="217.50" y="252.50" font-size="8.5" text-anchor="middle" font-weight="bold" fill="#222" stroke="#222" stroke-width="0.18">*</text>
<path d="M243.80 288.50V285.50H259.50V288.50" fill="none" stroke="#333" stroke-width="1.1"/>
<text x="251.80" y="279.20" font-size="8.5" text-anchor="middle" font-weight="bold" fill="#222" stroke="#222" stroke-width="0.18">*</text>
<rect x="53.20" y="242.80" width="11.40" height="6.00" fill="#a2a2a2" stroke="#222" stroke-width="0.8"/>
<rect x="53.20" y="255.30" width="11.40" height="5.60" fill="#4c4c4c" stroke="#222" stroke-width="0.8"/>
<text x="69.60" y="248.10" font-size="8.4" text-anchor="start" font-weight="normal" fill="#333" textLength="31.70" lengthAdjust="spacingAndGlyphs">Raji GFP</text>
<text x="69.60" y="261.00" font-size="8.4" text-anchor="start" font-weight="normal" fill="#333" textLength="62.30" lengthAdjust="spacingAndGlyphs">Raji GFP-ZAP-70</text>
<text x="40.00" y="373.90" font-size="9.4" text-anchor="start" font-weight="normal" fill="#2a2a2a" stroke="#2a2a2a" stroke-width="0.18" textLength="23.80" lengthAdjust="spacingAndGlyphs">CCR7</text>
<text x="70.80" y="373.90" font-size="9.4" text-anchor="start" font-weight="normal" fill="#2a2a2a" stroke="#2a2a2a" stroke-width="0.18" textLength="28.70" lengthAdjust="spacingAndGlyphs">CXCR3</text>
<text x="106.30" y="373.90" font-size="9.4" text-anchor="start" font-weight="normal" fill="#2a2a2a" stroke="#2a2a2a" stroke-width="0.18" textLength="28.70" lengthAdjust="spacingAndGlyphs">CXCR4</text>
<text x="142.10" y="373.90" font-size="9.4" text-anchor="start" font-weight="normal" fill="#2a2a2a" stroke="#2a2a2a" stroke-width="0.18" textLength="29.60" lengthAdjust="spacingAndGlyphs">CXCR5</text>
<text x="177.90" y="373.90" font-size="9.4" text-anchor="start" font-weight="normal" fill="#2a2a2a" stroke="#2a2a2a" stroke-width="0.18" textLength="21.60" lengthAdjust="spacingAndGlyphs">CD44</text>
<text x="206.20" y="373.90" font-size="9.4" text-anchor="start" font-weight="normal" fill="#2a2a2a" stroke="#2a2a2a" stroke-width="0.18" textLength="26.90" lengthAdjust="spacingAndGlyphs">CD49d</text>
<text x="239.00" y="373.90" font-size="9.4" text-anchor="start" font-weight="normal" fill="#2a2a2a" stroke="#2a2a2a" stroke-width="0.18" textLength="27.00" lengthAdjust="spacingAndGlyphs">CD62L</text>
<text x="289.80" y="219.90" font-size="16.2" text-anchor="start" font-weight="bold" fill="#111">C</text>
<rect x="337.20" y="216.50" width="54.80" height="47.00" fill="none" stroke="#4a4a4a" stroke-width="1.0"/>
<line x1="337.20" y1="263.50" x2="392.00" y2="263.50" stroke="#2a2a2a" stroke-width="1.2"/>
<line x1="337.20" y1="216.50" x2="337.20" y2="263.50" stroke="#2a2a2a" stroke-width="1.2"/>
<path d="M361 224.5 C361.5 222.5 371.5 221.5 373.5 223 C374.2 225.5 371.5 232 366.8 237.5 C364.5 240.5 362 242 361 241.5 C360.6 236 360.6 229 361 224.5Z" fill="#111"/>
<path d="M364.9 231.8h.9M365.1 228.7h.9M370.6 232.8h.9M361.7 232.2h.9M364.3 222.5h.9M369.1 229.7h.9M366.0 234.1h.9M366.5 234.8h.9M366.5 229.5h.9M366.0 226.1h.9M364.7 228.6h.9M362.9 234.6h.9M368.7 226.0h.9M361.9 233.0h.9M371.6 231.7h.9M370.3 226.2h.9M366.8 224.6h.9M363.5 230.6h.9M366.5 222.1h.9M363.2 233.4h.9M368.7 233.9h.9M365.6 234.2h.9M367.4 232.1h.9M370.9 225.5h.9M362.3 234.3h.9M366.7 235.0h.9M366.5 227.5h.9M364.4 233.2h.9M362.8 227.4h.9M374.4 226.6h.9M364.1 233.4h.9M368.0 231.9h.9M366.4 231.4h.9M370.9 234.9h.9M365.7 228.5h.9M368.1 229.4h.9M363.1 230.1h.9M364.8 232.2h.9M371.5 232.7h.9M363.4 227.7h.9M371.3 227.4h.9M365.6 235.5h.9M366.9 230.1h.9M373.4 224.3h.9M365.4 235.7h.9M369.0 233.5h.9M374.7 229.8h.9M370.6 230.8h.9M365.6 231.2h.9M370.1 224.3h.9M371.9 234.1h.9M369.1 226.9h.9M363.6 235.1h.9M361.1 231.9h.9M369.9 232.1h.9M369.8 237.0h.9M363.0 233.8h.9M369.4 229.1h.9M361.8 230.5h.9M365.0 235.6h.9M366.0 237.2h.9M361.5 231.2h.9M359.6 231.2h.9M365.5 229.6h.9M372.2 233.3h.9M367.3 225.2h.9M363.9 227.3h.9M366.3 232.7h.9M364.6 225.6h.9M363.5 224.7h.9M359.7 229.6h.9M368.7 222.7h.9M363.4 225.1h.9M369.1 235.1h.9M371.5 232.1h.9M367.6 235.6h.9M372.5 229.5h.9M364.9 232.6h.9M366.4 234.4h.9M366.6 234.2h.9M365.0 227.5h.9M368.0 227.6h.9M371.4 224.1h.9M370.9 234.0h.9M361.7 231.0h.9M366.8 235.6h.9M367.7 230.1h.9M369.9 233.0h.9M372.0 236.8h.9M361.3 228.4h.9M365.0 232.2h.9M368.7 233.1h.9M364.8 232.5h.9M364.4 229.3h.9M367.0 229.5h.9M367.3 235.3h.9M368.0 225.4h.9M362.5 228.8h.9M362.2 233.0h.9M363.8 231.9h.9M370.1 235.0h.9M371.8 234.3h.9M364.4 234.5h.9M366.3 237.7h.9M370.5 233.5h.9M365.4 234.1h.9M362.7 230.8h.9M370.6 232.1h.9M367.2 231.3h.9M365.1 224.3h.9M367.4 223.1h.9M369.6 228.8h.9M372.9 233.1h.9M369.4 224.4h.9M363.4 226.2h.9M363.6 222.9h.9M367.1 232.4h.9M368.3 234.6h.9M365.3 224.4h.9M369.3 223.8h.9M367.1 227.2h.9M369.1 231.9h.9M368.2 222.1h.9M362.8 227.6h.9M366.9 228.9h.9M368.2 225.7h.9M368.9 230.6h.9M365.7 225.3h.9M365.7 229.6h.9M374.0 231.6h.9M370.8 224.1h.9M365.6 239.2h.9M368.7 235.2h.9M372.2 225.1h.9M364.8 237.2h.9M369.9 231.5h.9M366.3 235.8h.9M372.3 231.5h.9M373.2 228.5h.9M364.8 233.0h.9M363.1 233.2h.9M368.1 238.0h.9M364.9 233.6h.9M363.3 233.0h.9M366.8 223.4h.9M367.7 227.0h.9M369.1 224.3h.9M368.2 229.3h.9M364.2 235.8h.9M365.6 225.2h.9M367.0 235.6h.9M368.2 228.1h.9M364.7 230.7h.9M365.1 232.5h.9M363.7 224.1h.9M361.5 232.0h.9M369.8 232.6h.9M363.3 227.8h.9M364.0 233.9h.9M372.9 229.7h.9M372.5 232.6h.9M364.4 230.8h.9M372.5 224.8h.9M366.4 231.6h.9M371.7 227.4h.9M364.2 231.2h.9M364.7 236.4h.9M367.3 231.7h.9M366.3 230.9h.9M364.0 231.4h.9M365.7 234.6h.9M370.9 228.5h.9M372.0 230.3h.9M361.4 228.5h.9M366.5 223.1h.9M363.5 232.7h.9M369.9 224.0h.9M371.0 229.7h.9M363.8 239.2h.9M364.3 230.4h.9M366.9 223.8h.9M365.8 238.1h.9M372.0 232.2h.9M370.2 222.2h.9M366.8 237.2h.9M365.7 225.8h.9M366.4 231.4h.9M370.0 230.1h.9M362.8 233.3h.9M367.7 234.1h.9M366.9 234.6h.9M361.5 231.7h.9M369.1 230.8h.9M368.7 223.4h.9M371.1 231.7h.9M366.4 233.9h.9M372.2 228.4h.9M368.5 235.5h.9M362.6 231.8h.9M370.9 227.9h.9" stroke="#202020" stroke-width="0.9" fill="none"/>
<path d="M362.8 242.1h.8M361.1 244.2h.8M361.5 248.7h.8M362.1 244.6h.8M362.6 250.1h.8M362.0 247.3h.8M363.5 246.8h.8M361.1 250.4h.8M363.5 242.7h.8M361.9 247.4h.8M363.2 248.0h.8M361.7 242.8h.8M362.1 249.2h.8M360.8 243.2h.8M362.0 241.4h.8M361.6 244.5h.8M362.6 243.7h.8M360.9 244.8h.8M361.9 243.8h.8M362.0 248.5h.8" stroke="#aaa" stroke-width="1.00" fill="none"/>
<path d="M375.3 238.2h.8M372.7 229.8h.8M372.0 236.8h.8M372.8 231.8h.8M374.7 226.0h.8M374.8 231.9h.8M371.8 233.1h.8M375.3 225.6h.8M375.3 233.1h.8M374.8 234.4h.8M375.9 231.0h.8M375.4 229.9h.8M375.1 228.0h.8M373.9 239.0h.8M374.8 231.1h.8M372.4 228.4h.8M374.3 236.8h.8M374.7 234.8h.8M373.9 238.2h.8M373.3 229.1h.8" stroke="#999" stroke-width="1.00" fill="none"/>
<text x="334.90" y="248.50" font-size="9" text-anchor="start" font-weight="normal" fill="#2a2a2a" stroke="#2a2a2a" stroke-width="0.18" textLength="16.50" lengthAdjust="spacingAndGlyphs" transform="rotate(-90 334.90 248.50)">CD5</text>
<text x="353.40" y="271.20" font-size="9" text-anchor="start" font-weight="normal" fill="#2a2a2a" stroke="#2a2a2a" stroke-width="0.18" textLength="18.90" lengthAdjust="spacingAndGlyphs">CD19</text>
<rect x="405.40" y="216.50" width="54.60" height="47.00" fill="none" stroke="#4a4a4a" stroke-width="1.0"/>
<line x1="405.40" y1="263.50" x2="460.00" y2="263.50" stroke="#2a2a2a" stroke-width="1.2"/>
<line x1="405.40" y1="216.50" x2="405.40" y2="263.50" stroke="#2a2a2a" stroke-width="1.2"/>
<line x1="431.50" y1="216.50" x2="431.50" y2="263.50" stroke="#666" stroke-width="0.9"/>
<line x1="405.40" y1="234.70" x2="460.00" y2="234.70" stroke="#666" stroke-width="0.9"/>
<path d="M438.9 229.4h.9M435.4 230.9h.9M437.0 231.1h.9M435.6 230.5h.9M433.3 233.7h.9M434.5 233.8h.9M438.9 227.2h.9M437.1 228.4h.9M430.6 233.7h.9M434.9 230.9h.9M433.2 228.4h.9M434.1 233.0h.9M431.5 231.1h.9M437.4 226.8h.9M440.6 228.1h.9M439.7 227.8h.9M436.8 228.1h.9M432.3 232.4h.9M436.3 232.4h.9M437.6 229.5h.9M440.1 230.0h.9M435.9 228.5h.9M432.8 229.8h.9M431.5 232.7h.9M439.8 230.0h.9M435.4 227.0h.9M434.9 231.2h.9M439.1 231.0h.9M434.4 228.2h.9M433.9 230.5h.9M439.1 227.1h.9M436.0 228.9h.9M431.0 231.0h.9M437.4 226.6h.9M436.3 228.2h.9M434.8 229.0h.9M436.4 232.0h.9M439.6 231.6h.9M434.1 228.5h.9M438.7 231.0h.9M436.9 227.2h.9M440.1 231.2h.9M437.5 228.0h.9M432.9 233.5h.9M436.0 228.8h.9M430.9 227.5h.9M436.4 230.4h.9M431.3 229.2h.9M437.9 231.1h.9M440.0 230.0h.9M436.7 232.7h.9M434.4 230.0h.9M437.4 232.1h.9M438.5 227.7h.9M439.7 229.5h.9M434.5 227.9h.9M437.7 233.8h.9M435.3 231.9h.9M440.5 229.5h.9M436.7 232.9h.9M436.5 229.3h.9M441.2 229.1h.9M440.9 228.6h.9M435.5 228.1h.9M435.8 232.2h.9M433.5 226.7h.9M432.5 229.0h.9M436.6 233.0h.9M436.5 230.4h.9M435.0 225.9h.9M438.5 230.0h.9M431.0 226.8h.9M430.4 230.3h.9M431.2 232.0h.9M439.2 233.4h.9M438.3 231.5h.9M435.3 231.6h.9M433.3 226.5h.9M439.3 231.9h.9M439.2 227.0h.9M440.8 227.8h.9M437.5 229.2h.9M431.7 227.8h.9M437.4 230.1h.9M435.5 232.6h.9M435.2 234.1h.9M440.2 227.9h.9M438.4 230.8h.9M433.3 233.2h.9M437.1 228.7h.9M438.3 227.6h.9M438.5 229.9h.9M437.3 233.7h.9M436.3 234.4h.9M435.3 228.5h.9M439.9 229.8h.9M432.9 229.6h.9M437.2 229.1h.9M437.8 231.2h.9M432.9 234.1h.9M431.0 229.2h.9M435.6 233.4h.9M433.6 228.6h.9M436.8 227.8h.9M438.2 229.2h.9M434.3 227.5h.9M436.0 232.3h.9M436.3 231.4h.9M441.4 232.0h.9M440.6 228.2h.9M438.4 233.0h.9M434.3 231.8h.9M433.5 227.4h.9M438.2 232.9h.9M437.5 227.9h.9M433.3 229.9h.9M436.7 225.9h.9M433.1 229.8h.9M439.2 229.8h.9M433.2 229.7h.9M432.1 227.5h.9M438.3 231.8h.9M431.6 231.5h.9M439.9 232.0h.9M438.4 231.2h.9M431.9 229.8h.9M432.3 234.1h.9M434.5 234.2h.9M435.3 231.9h.9M438.6 230.5h.9M435.0 233.3h.9M440.1 229.9h.9M435.3 232.5h.9M436.2 227.5h.9M436.9 234.7h.9M436.9 227.0h.9M434.3 229.4h.9M437.1 228.8h.9M435.3 231.1h.9M435.7 233.0h.9M431.7 231.6h.9M441.8 228.2h.9M440.9 228.6h.9M437.4 229.7h.9M434.6 229.1h.9M436.9 233.8h.9M440.8 228.9h.9M430.8 227.5h.9M437.2 227.7h.9M429.8 231.3h.9M433.3 230.4h.9M434.3 230.6h.9M430.5 230.9h.9M440.1 229.8h.9M432.4 228.4h.9M436.5 229.0h.9M439.3 228.4h.9M433.0 234.0h.9M436.3 228.6h.9M433.3 234.4h.9M431.5 231.3h.9M432.8 231.5h.9M436.6 227.9h.9M429.5 230.0h.9M434.7 233.4h.9M433.6 228.4h.9M439.4 227.9h.9M439.3 229.2h.9M433.6 227.1h.9M431.9 227.8h.9M434.1 228.1h.9M436.1 229.2h.9M435.7 226.0h.9M437.0 226.7h.9M435.0 233.5h.9M433.2 228.2h.9M438.1 229.2h.9M439.8 228.3h.9M432.0 228.7h.9M434.2 230.7h.9M437.7 230.3h.9M441.9 232.7h.9M436.4 229.9h.9M436.8 228.8h.9M434.1 226.7h.9M430.7 229.2h.9M436.5 233.8h.9M440.6 229.4h.9M435.8 234.7h.9M434.1 231.4h.9M433.1 233.1h.9M432.8 232.5h.9M433.9 232.3h.9M435.2 230.3h.9M433.6 228.2h.9M440.3 228.5h.9M430.9 233.5h.9M431.6 228.2h.9M438.0 230.4h.9M439.0 226.7h.9M436.8 226.5h.9M437.5 225.5h.9M433.8 231.0h.9M438.5 232.7h.9M431.6 229.1h.9M436.5 232.6h.9M440.5 230.6h.9M431.7 228.5h.9M432.2 231.8h.9M437.9 233.6h.9M433.2 232.5h.9M440.4 230.1h.9M435.6 228.4h.9M437.6 230.4h.9M437.6 227.6h.9M437.4 227.0h.9M437.7 226.7h.9M437.2 231.7h.9M429.2 230.6h.9M436.4 229.1h.9M440.5 233.0h.9M431.6 227.4h.9M436.3 230.1h.9M436.4 231.6h.9M440.0 227.2h.9M434.8 225.4h.9M437.8 228.5h.9M433.1 228.1h.9M438.8 231.5h.9M433.9 231.2h.9M435.5 229.4h.9M442.0 231.8h.9M439.7 227.5h.9M441.2 230.5h.9M433.3 230.5h.9M434.5 229.7h.9M435.8 228.7h.9M436.5 233.1h.9M438.0 228.8h.9M436.3 235.0h.9M440.8 230.2h.9M433.2 231.5h.9M434.7 233.3h.9M438.8 230.7h.9M435.3 228.2h.9M436.8 228.0h.9M438.0 228.2h.9M437.6 228.8h.9M438.4 232.3h.9M436.7 230.0h.9M434.8 231.3h.9M437.3 227.5h.9M435.1 227.6h.9M437.5 226.5h.9M436.0 229.7h.9M438.6 229.7h.9M434.1 232.5h.9M439.2 230.1h.9M440.2 230.2h.9M433.7 234.5h.9M441.8 230.3h.9M431.8 230.7h.9M438.7 229.7h.9M436.9 233.6h.9M436.0 228.7h.9M432.1 229.2h.9M439.2 227.4h.9M432.1 231.4h.9M433.0 230.6h.9M438.8 231.5h.9M437.4 227.2h.9M436.4 228.9h.9M436.3 228.7h.9M431.5 230.8h.9M438.4 226.8h.9M441.1 229.2h.9M433.2 228.9h.9M433.1 231.9h.9M441.6 228.1h.9M437.4 226.4h.9M433.6 228.5h.9M430.2 229.8h.9M432.9 230.2h.9M435.9 233.9h.9M439.7 229.7h.9M434.2 230.5h.9M435.4 233.3h.9M440.1 230.0h.9M432.3 230.7h.9M431.4 231.1h.9M435.6 233.0h.9M433.9 232.6h.9M436.6 228.3h.9M435.3 235.4h.9M437.4 230.2h.9M438.2 231.2h.9M439.4 230.4h.9M437.6 232.7h.9M432.1 227.6h.9M435.0 226.1h.9M436.8 226.7h.9M436.1 228.9h.9M429.8 231.0h.9M435.8 226.2h.9M432.3 230.9h.9M432.7 233.1h.9M435.7 226.8h.9M438.3 232.6h.9M435.0 229.5h.9M438.8 226.6h.9M431.8 232.6h.9M433.3 228.9h.9M429.5 230.3h.9M433.7 229.2h.9M432.8 232.9h.9M438.3 231.8h.9M432.0 229.1h.9M432.9 231.9h.9M431.4 231.0h.9M440.5 228.9h.9M439.9 225.3h.9M438.9 228.6h.9M432.3 231.1h.9M431.5 230.9h.9M434.1 230.7h.9M435.6 233.3h.9M437.6 227.0h.9M432.0 232.1h.9M429.7 230.2h.9M437.7 230.6h.9M436.5 230.8h.9M432.0 228.7h.9M435.7 227.3h.9M439.2 232.4h.9M432.3 230.0h.9M439.2 229.8h.9M432.2 232.2h.9M440.0 229.6h.9M435.1 227.2h.9M430.8 232.0h.9M434.9 230.2h.9M431.3 231.9h.9M435.3 231.5h.9M433.4 230.0h.9M436.2 231.8h.9M435.0 232.5h.9M435.7 230.3h.9M439.6 232.6h.9M435.5 229.6h.9M435.9 229.8h.9M433.4 235.2h.9M433.0 230.8h.9M435.7 227.7h.9M433.9 231.6h.9M436.2 229.1h.9M435.2 234.5h.9M432.8 230.1h.9M438.5 234.0h.9M439.0 232.2h.9M435.6 231.8h.9M439.7 232.7h.9M440.7 226.4h.9M439.4 231.3h.9M433.1 229.4h.9M435.1 227.9h.9M435.7 230.3h.9M435.2 227.2h.9M437.4 232.2h.9M438.7 229.9h.9M437.6 226.8h.9M432.0 232.2h.9M437.9 227.2h.9M438.8 227.5h.9M440.9 233.3h.9M435.4 228.4h.9M435.3 227.2h.9M440.3 228.1h.9M434.3 226.3h.9M439.8 231.0h.9M437.6 229.1h.9M434.1 228.2h.9M439.6 228.8h.9M438.8 230.8h.9M435.0 230.5h.9M435.7 232.1h.9M438.6 230.4h.9M438.5 233.3h.9M432.0 231.0h.9M432.6 227.8h.9M438.2 231.6h.9M439.4 231.5h.9M434.1 231.8h.9M434.8 231.7h.9M441.9 229.6h.9M440.9 229.6h.9M433.8 231.2h.9M438.1 227.0h.9M434.2 229.4h.9M441.1 229.3h.9M439.0 231.0h.9" stroke="#202020" stroke-width="0.9" fill="none"/>
<text x="404.60" y="248.40" font-size="9" text-anchor="start" font-weight="normal" fill="#2a2a2a" stroke="#2a2a2a" stroke-width="0.18" textLength="14.20" lengthAdjust="spacingAndGlyphs" transform="rotate(-90 404.60 248.40)">CD3</text>
<text x="421.50" y="271.20" font-size="9" text-anchor="start" font-weight="normal" fill="#2a2a2a" stroke="#2a2a2a" stroke-width="0.18" textLength="26.70" lengthAdjust="spacingAndGlyphs">ZAP-70</text>
<rect x="309.50" y="275.60" width="54.00" height="46.40" fill="none" stroke="#4a4a4a" stroke-width="1.0"/>
<line x1="309.50" y1="322.00" x2="363.50" y2="322.00" stroke="#2a2a2a" stroke-width="1.2"/>
<line x1="309.50" y1="275.60" x2="309.50" y2="322.00" stroke="#2a2a2a" stroke-width="1.2"/>
<line x1="335.50" y1="275.60" x2="335.50" y2="322.00" stroke="#666" stroke-width="0.9"/>
<line x1="309.50" y1="305.20" x2="363.50" y2="305.20" stroke="#666" stroke-width="0.9"/>
<path d="M348.2 310.5h.9M347.7 287.0h.9M339.9 302.9h.9M344.9 292.2h.9M335.8 305.8h.9M332.7 309.3h.9M342.1 300.7h.9M332.8 293.9h.9M346.8 287.2h.9M356.4 287.7h.9M333.5 298.7h.9M345.3 304.0h.9M339.4 296.8h.9M340.4 294.0h.9M324.2 305.7h.9M343.7 299.6h.9M337.6 300.3h.9M341.9 297.8h.9M349.6 285.3h.9M343.7 290.3h.9M339.8 309.8h.9M334.5 297.6h.9M337.9 305.6h.9M335.2 285.6h.9M345.6 295.7h.9M339.8 306.6h.9M335.9 295.6h.9M343.0 301.5h.9M338.4 306.3h.9M357.5 295.3h.9M354.9 282.4h.9M351.7 295.8h.9M342.9 295.8h.9M337.6 288.7h.9M339.3 308.3h.9" stroke="#b0b0b0" stroke-width="0.9" fill="none"/>
<path d="M343.3 296.3h.9M335.6 294.2h.9M332.5 309.1h.9M341.1 299.1h.9M335.7 292.3h.9M344.1 303.0h.9M333.6 304.3h.9M332.9 302.2h.9M333.6 295.9h.9M340.3 301.0h.9M342.7 293.4h.9M345.3 306.4h.9M338.0 301.2h.9M334.4 297.5h.9M331.9 298.9h.9M338.9 306.4h.9M342.4 303.2h.9M336.3 297.1h.9M336.4 299.7h.9M329.1 303.0h.9M330.8 295.3h.9M338.1 295.3h.9M345.7 297.8h.9M345.2 305.4h.9M335.7 300.8h.9M344.0 296.4h.9M338.4 295.1h.9M338.3 296.3h.9M338.4 304.4h.9M344.4 299.2h.9M338.9 303.5h.9M336.7 292.1h.9M343.1 292.8h.9M342.3 292.7h.9M346.4 292.2h.9M341.9 307.3h.9M333.6 307.2h.9M334.2 287.9h.9M341.3 302.6h.9M337.1 283.4h.9M337.7 296.6h.9M336.3 296.7h.9M329.8 295.0h.9M346.3 307.6h.9M336.3 294.2h.9M339.8 304.7h.9M341.3 291.5h.9M338.7 299.2h.9M344.6 305.5h.9M340.4 305.6h.9M336.2 307.5h.9M336.0 300.8h.9M342.2 293.0h.9M334.8 288.0h.9M338.8 298.1h.9M336.5 301.4h.9M328.2 298.3h.9M338.4 296.8h.9M341.7 308.8h.9M335.9 292.8h.9M335.2 299.0h.9M340.7 293.3h.9M342.6 292.3h.9M341.8 300.9h.9M340.1 311.2h.9M336.8 297.4h.9M340.2 303.5h.9M331.8 300.0h.9M334.6 302.1h.9M344.3 298.7h.9M337.5 299.5h.9M324.4 303.0h.9M340.6 299.4h.9M336.2 294.1h.9M337.2 305.6h.9M337.5 306.4h.9M326.1 295.7h.9M339.3 298.3h.9M330.4 294.5h.9M343.8 290.7h.9M333.4 291.9h.9M335.5 302.2h.9M340.7 286.3h.9M344.7 294.9h.9M335.3 308.3h.9M337.6 291.0h.9M335.1 294.1h.9M333.3 296.4h.9M342.0 300.5h.9M331.6 315.0h.9M333.4 299.1h.9M338.1 302.9h.9M336.5 301.1h.9M347.7 299.0h.9M333.0 300.4h.9M334.3 296.2h.9M338.9 300.4h.9M336.7 303.4h.9M337.1 290.7h.9M342.0 296.2h.9M343.6 294.5h.9M340.6 300.3h.9M325.6 289.5h.9M332.8 306.8h.9M329.3 303.8h.9M343.0 301.3h.9M341.1 295.5h.9M338.0 299.7h.9M339.9 302.6h.9M337.0 294.2h.9M335.4 300.8h.9M330.3 291.0h.9M336.1 295.1h.9M336.8 282.6h.9M336.4 296.9h.9M341.6 286.6h.9M336.6 301.2h.9M340.3 305.5h.9M342.9 292.2h.9M340.9 296.4h.9M334.3 307.5h.9M335.1 293.3h.9M336.1 293.3h.9M342.6 300.7h.9M344.5 300.8h.9M335.2 304.6h.9M335.0 295.6h.9M337.2 298.6h.9M343.5 294.8h.9M339.6 298.2h.9M332.2 291.9h.9M337.0 300.8h.9M339.5 301.3h.9M338.2 295.7h.9M340.0 292.4h.9M331.8 296.4h.9M331.4 295.3h.9M334.5 295.1h.9M337.8 293.6h.9M336.0 288.2h.9M338.7 293.1h.9M339.9 281.5h.9M334.3 299.8h.9M326.7 296.3h.9M338.4 299.0h.9M331.1 299.8h.9M338.7 292.6h.9M341.4 298.1h.9M338.1 295.7h.9M340.5 299.0h.9M343.3 301.1h.9M335.1 297.1h.9M342.3 296.2h.9M339.8 301.5h.9M337.2 284.5h.9M338.6 299.7h.9M338.6 293.9h.9M343.6 297.6h.9M335.1 294.1h.9M339.7 291.9h.9" stroke="#909090" stroke-width="0.9" fill="none"/>
<path d="M330.0 302.1h.9M329.7 300.7h.9M334.1 297.9h.9M334.6 301.3h.9M332.2 295.6h.9M331.9 301.0h.9M333.2 303.0h.9M333.6 303.3h.9M333.1 298.5h.9M332.1 302.6h.9M335.2 291.0h.9M333.4 296.5h.9M335.1 296.7h.9M333.7 299.7h.9M333.4 302.6h.9M334.6 291.5h.9M331.6 304.5h.9M333.5 294.5h.9M333.7 295.7h.9M334.5 290.6h.9M335.2 301.7h.9M335.2 289.1h.9M332.1 304.3h.9M333.9 294.9h.9M332.6 293.6h.9M333.8 305.2h.9M334.8 292.8h.9M333.8 305.1h.9M333.3 302.4h.9M333.7 293.2h.9M334.6 291.1h.9M334.5 299.8h.9M334.6 304.8h.9M334.6 304.3h.9M334.1 290.6h.9M332.4 299.5h.9M331.9 300.6h.9M333.0 290.8h.9M331.9 299.0h.9M333.4 297.2h.9M331.7 305.0h.9M335.5 302.9h.9M334.1 303.5h.9M330.4 296.4h.9M333.6 302.0h.9M335.3 292.7h.9M334.0 305.1h.9M334.3 293.8h.9M334.7 289.5h.9M331.3 298.3h.9M333.8 294.8h.9M334.1 302.1h.9M334.0 294.1h.9M332.0 304.0h.9M332.8 298.4h.9M329.4 301.5h.9M334.6 300.6h.9M332.3 299.8h.9M335.2 302.2h.9M335.1 305.2h.9M332.6 291.5h.9M334.4 291.4h.9M333.7 294.8h.9M335.4 297.8h.9M331.5 306.3h.9M335.2 294.4h.9M330.6 292.9h.9M333.4 295.9h.9M332.0 300.7h.9M332.7 289.6h.9M334.3 293.7h.9M333.5 294.8h.9M331.5 292.8h.9M335.3 301.4h.9M333.8 303.3h.9M330.8 298.6h.9M335.3 292.3h.9M331.8 293.7h.9M333.7 300.7h.9M329.7 303.9h.9M331.3 291.0h.9M333.4 300.0h.9M334.2 293.3h.9M332.6 300.5h.9M335.4 298.7h.9M333.4 300.0h.9M334.1 294.7h.9M334.1 307.5h.9M333.7 304.9h.9M333.8 302.1h.9M335.4 294.3h.9M334.5 298.6h.9M335.2 301.1h.9M333.9 301.6h.9M335.1 300.5h.9M334.9 303.3h.9M331.4 295.4h.9M332.4 295.9h.9M331.3 302.6h.9M332.7 292.3h.9M333.4 295.9h.9M333.7 304.6h.9M334.9 295.1h.9M334.7 292.0h.9M331.6 292.2h.9M334.2 292.0h.9M332.8 293.7h.9M333.0 301.7h.9M331.3 297.8h.9M334.0 298.0h.9M332.1 297.8h.9M332.5 297.0h.9M334.4 295.5h.9M331.3 291.8h.9M332.8 291.9h.9M334.8 303.6h.9M332.2 295.8h.9M330.9 301.9h.9M334.3 297.0h.9M332.6 294.2h.9M335.1 292.8h.9M330.9 298.2h.9M333.7 301.9h.9M334.3 302.1h.9M334.5 299.7h.9M331.7 290.0h.9M333.9 302.7h.9M333.8 300.4h.9M333.0 290.1h.9M332.1 292.7h.9M332.6 293.5h.9M331.8 300.5h.9M334.3 296.3h.9M331.8 297.2h.9M331.8 301.8h.9M334.0 297.9h.9M331.5 294.1h.9M333.1 298.4h.9M332.1 303.5h.9M332.8 293.7h.9M331.7 304.6h.9M334.5 297.8h.9M333.4 293.7h.9M335.1 296.1h.9M332.4 306.4h.9M333.8 291.5h.9M335.4 299.1h.9M329.8 300.7h.9M334.3 290.9h.9M332.5 296.3h.9M331.6 299.2h.9M333.0 295.0h.9M335.5 291.3h.9M333.0 298.3h.9M335.0 303.8h.9M332.2 296.2h.9M333.4 293.7h.9M335.2 299.5h.9M333.9 307.0h.9M332.6 304.8h.9M333.7 294.6h.9M335.4 299.9h.9M334.5 305.6h.9M332.0 304.4h.9M331.3 292.6h.9M331.8 298.0h.9M334.4 307.3h.9M334.5 300.7h.9M334.6 304.4h.9M332.0 304.8h.9M334.5 306.3h.9M335.0 304.2h.9M335.3 306.6h.9M331.8 301.3h.9M331.7 292.2h.9M332.5 295.5h.9M333.5 299.7h.9M331.5 293.6h.9M334.4 302.8h.9M332.3 296.9h.9M334.9 305.7h.9M333.2 305.1h.9M332.1 303.3h.9M334.3 292.5h.9M333.0 296.2h.9M333.7 294.8h.9M333.5 293.1h.9M331.3 298.9h.9M333.7 297.0h.9M334.6 293.6h.9M335.2 302.0h.9M333.9 299.0h.9M331.4 298.5h.9M334.9 304.9h.9M332.3 298.8h.9M334.8 298.2h.9M333.2 298.4h.9M332.9 305.9h.9M333.9 294.9h.9M334.2 296.2h.9M334.0 290.8h.9M333.6 296.1h.9M334.9 307.4h.9M334.8 305.2h.9M330.9 296.5h.9M334.7 304.4h.9M334.1 291.4h.9M333.3 298.5h.9M333.8 306.1h.9M331.2 303.7h.9M331.7 297.7h.9M334.5 297.2h.9M332.8 305.8h.9M335.0 291.1h.9M335.3 305.5h.9M331.9 293.9h.9M334.8 303.6h.9M331.5 295.6h.9M334.7 302.1h.9M334.6 301.7h.9M335.3 297.3h.9M332.7 303.9h.9M331.5 296.8h.9M333.1 305.3h.9M333.5 300.8h.9M331.4 300.4h.9M333.9 291.4h.9M335.3 303.1h.9M334.3 289.8h.9M329.3 304.2h.9M332.0 293.3h.9M332.5 299.7h.9M330.5 298.6h.9M334.6 291.1h.9M334.4 303.5h.9M330.7 302.9h.9M335.3 298.7h.9M335.3 291.7h.9M333.2 292.1h.9M333.5 299.6h.9M332.9 298.0h.9M334.1 291.3h.9M334.1 293.5h.9M331.1 303.8h.9M330.6 298.5h.9M333.5 303.6h.9M332.5 293.7h.9M331.2 296.7h.9M335.3 294.2h.9M333.0 304.2h.9M334.6 305.4h.9M334.8 290.1h.9M331.0 301.6h.9M334.8 294.4h.9M333.9 304.8h.9M332.6 300.1h.9M331.6 301.3h.9M331.4 293.2h.9M332.4 299.8h.9M332.9 297.7h.9M334.2 307.5h.9M335.5 300.3h.9M335.2 289.9h.9M335.2 301.9h.9M335.3 293.9h.9M332.5 301.2h.9M334.3 298.0h.9M335.2 304.0h.9M333.3 300.3h.9M332.3 301.8h.9M335.5 292.9h.9M333.8 305.6h.9M335.2 300.7h.9M332.4 302.5h.9M332.2 293.4h.9M332.6 301.8h.9M331.3 297.3h.9M332.2 297.1h.9M332.3 291.3h.9M333.9 297.1h.9M332.2 298.6h.9M332.4 303.1h.9M333.2 303.3h.9M333.6 295.9h.9M330.7 298.2h.9M332.1 299.2h.9M330.7 302.0h.9M334.7 304.6h.9M333.2 303.6h.9M333.5 302.2h.9M331.8 302.9h.9M331.8 294.4h.9M334.2 303.6h.9M332.6 292.4h.9M334.9 304.9h.9M330.7 296.0h.9M332.1 305.0h.9M331.3 303.2h.9M330.6 301.9h.9M333.9 302.4h.9M331.7 292.0h.9M332.5 292.2h.9M333.8 304.1h.9M334.9 289.7h.9M334.6 291.2h.9M334.1 298.2h.9M332.7 294.1h.9M330.8 295.8h.9M334.9 303.7h.9M333.1 289.8h.9M334.9 297.5h.9M334.4 296.9h.9M334.9 297.0h.9M334.2 298.1h.9M335.0 302.2h.9M333.8 299.9h.9M331.1 302.9h.9M333.8 305.5h.9M332.8 295.2h.9M334.7 304.1h.9M331.9 294.2h.9M331.5 306.5h.9M334.9 301.6h.9M332.6 303.9h.9M333.7 295.6h.9M334.6 297.7h.9M331.0 300.9h.9M331.9 296.2h.9M335.4 291.5h.9M332.0 292.7h.9M334.6 299.0h.9M333.9 295.2h.9M334.3 296.6h.9M334.8 290.6h.9M331.4 290.7h.9M334.1 297.9h.9M335.3 300.5h.9M335.5 305.3h.9M335.4 301.3h.9M331.4 300.3h.9M334.3 296.9h.9M333.4 290.4h.9M334.6 302.6h.9M334.6 306.4h.9M335.0 304.2h.9M333.5 301.7h.9M334.6 294.1h.9M330.6 298.8h.9M333.8 292.2h.9M333.2 290.4h.9M334.4 297.2h.9M335.2 298.8h.9M329.9 301.3h.9M331.6 301.9h.9M332.4 299.3h.9M331.1 297.1h.9M333.7 295.6h.9M334.6 296.6h.9M332.5 297.4h.9M334.8 303.4h.9M334.5 305.2h.9M334.7 299.9h.9M333.9 305.9h.9M332.8 300.8h.9M335.3 300.8h.9M334.5 303.3h.9M332.6 292.9h.9M333.6 294.8h.9M332.2 304.0h.9M334.1 303.1h.9M335.4 307.5h.9M334.6 292.5h.9M332.9 299.8h.9M334.0 305.0h.9M334.1 298.2h.9M333.0 302.8h.9M332.6 296.6h.9M335.0 303.1h.9M334.7 298.1h.9M334.3 304.1h.9M333.6 294.7h.9M330.4 297.4h.9M333.3 294.5h.9M332.7 296.3h.9M331.2 300.1h.9M329.7 292.2h.9M332.4 302.5h.9M331.0 299.0h.9M335.4 306.1h.9M332.0 293.1h.9M332.5 292.8h.9M334.6 306.3h.9M330.5 299.8h.9M333.3 298.4h.9M333.6 301.0h.9M333.1 294.5h.9M329.2 299.9h.9M335.4 297.3h.9M332.1 300.5h.9M331.9 296.4h.9M332.9 299.0h.9M334.0 303.6h.9M333.6 304.2h.9M334.3 296.6h.9M333.5 302.7h.9M334.1 301.5h.9M333.6 292.7h.9M332.7 290.8h.9M334.6 302.7h.9M332.1 297.3h.9M333.7 296.5h.9M333.7 298.9h.9M332.9 297.5h.9M333.9 305.6h.9M331.1 294.9h.9M335.2 297.6h.9M334.5 307.0h.9M335.4 295.0h.9M332.6 292.0h.9M331.9 301.3h.9M335.3 291.9h.9M330.5 304.1h.9M334.1 301.6h.9M332.6 300.7h.9M330.0 297.9h.9M332.7 294.5h.9M334.1 300.9h.9M332.0 301.4h.9M331.8 300.7h.9M334.2 302.4h.9M332.5 298.9h.9M333.6 290.4h.9M333.6 299.3h.9M333.4 297.7h.9M333.5 301.8h.9M335.0 299.0h.9M332.7 294.8h.9M333.9 294.3h.9M334.6 300.9h.9M332.5 291.1h.9M331.3 298.0h.9M333.4 301.3h.9M334.5 292.7h.9M333.3 296.4h.9M332.5 302.8h.9M332.9 292.4h.9M332.5 294.7h.9M334.1 293.0h.9M332.3 303.5h.9M335.1 298.3h.9M334.9 303.3h.9M331.6 297.3h.9M332.1 306.7h.9M334.3 302.5h.9M334.1 298.0h.9M333.6 307.5h.9M331.4 299.4h.9M334.4 297.3h.9M332.6 304.4h.9M331.4 293.9h.9M333.7 297.4h.9M332.8 295.7h.9M332.3 303.5h.9M333.6 305.5h.9M332.9 302.2h.9M333.9 295.9h.9M334.4 296.1h.9M333.8 296.6h.9M331.8 301.5h.9M331.9 299.6h.9M333.2 305.1h.9M332.7 295.9h.9M335.2 292.0h.9M333.8 302.7h.9" stroke="#808080" stroke-width="0.9" fill="none"/>
<path d="M336.1 306.6h.9M342.6 301.4h.9M339.2 304.0h.9M341.6 292.4h.9M338.5 307.2h.9M335.7 302.9h.9M336.6 291.7h.9M338.1 293.0h.9M339.9 305.2h.9M336.6 293.8h.9M335.6 305.9h.9M336.0 297.9h.9M341.7 303.1h.9M335.8 299.5h.9M338.1 300.8h.9M340.5 305.9h.9M338.3 307.4h.9M335.6 294.3h.9M341.5 303.3h.9M338.6 294.3h.9M336.4 306.8h.9M338.7 296.8h.9M338.3 296.3h.9M338.3 294.3h.9M335.5 302.2h.9M337.6 298.2h.9M341.3 305.2h.9M335.7 303.8h.9M340.3 298.9h.9M337.6 297.7h.9M339.8 291.3h.9M336.6 294.4h.9M335.9 291.1h.9M339.4 295.1h.9M339.8 289.6h.9M338.4 295.5h.9M339.9 296.6h.9M343.8 292.6h.9M339.0 296.1h.9M343.3 303.2h.9M337.1 296.9h.9M335.6 305.8h.9M336.4 302.7h.9M340.9 303.7h.9M341.6 300.1h.9M341.1 298.6h.9M337.8 299.9h.9M341.0 293.1h.9M340.4 299.3h.9M341.5 294.4h.9M336.3 296.4h.9M338.3 295.4h.9M343.0 299.7h.9M336.6 296.4h.9M338.5 300.7h.9M337.3 305.5h.9M339.0 290.1h.9M339.3 292.1h.9M340.0 297.0h.9M342.5 293.4h.9M339.3 307.2h.9M338.5 291.8h.9M342.1 289.5h.9M339.6 296.7h.9M344.0 290.1h.9M342.2 299.8h.9M340.5 298.2h.9M335.8 304.2h.9M336.9 308.7h.9M338.4 291.3h.9M336.7 302.9h.9M340.2 294.5h.9M335.7 303.7h.9M337.8 299.8h.9M336.5 292.7h.9M339.6 292.0h.9M338.8 301.0h.9M341.0 297.6h.9M342.1 297.1h.9M336.7 306.8h.9M337.1 296.2h.9M340.6 302.2h.9M342.6 304.4h.9M336.6 292.1h.9M341.2 289.8h.9M342.9 301.2h.9M338.9 295.7h.9M342.8 294.5h.9M337.9 303.2h.9M342.4 301.0h.9M335.9 298.6h.9M340.0 296.3h.9M339.2 295.1h.9M338.5 295.8h.9M336.8 298.1h.9M341.1 292.4h.9M336.4 304.8h.9M336.6 305.1h.9M338.3 300.9h.9M337.1 307.5h.9M337.7 300.0h.9M341.8 302.2h.9M336.8 291.3h.9M339.2 294.4h.9M343.4 299.6h.9M341.4 296.6h.9M341.6 291.8h.9M336.5 296.2h.9M338.5 303.9h.9M338.8 297.3h.9M338.7 296.1h.9M336.8 294.1h.9M339.6 301.5h.9M338.6 302.5h.9M338.8 300.8h.9M341.9 303.6h.9M341.6 297.6h.9M336.3 296.9h.9M336.4 303.5h.9M335.5 301.6h.9M341.4 305.6h.9M341.9 297.1h.9M338.8 302.5h.9M339.5 306.0h.9M339.9 290.0h.9M339.5 304.3h.9M337.7 301.9h.9M337.4 302.0h.9M343.1 295.3h.9M339.2 298.1h.9M336.4 296.1h.9M337.7 298.8h.9M340.4 302.6h.9M339.7 301.7h.9M335.6 304.5h.9M340.3 303.9h.9M335.6 294.3h.9M340.7 306.2h.9M340.6 294.6h.9M340.8 303.6h.9M342.6 299.4h.9M337.1 305.4h.9M336.2 290.4h.9M335.9 295.2h.9M338.4 293.6h.9M339.1 302.8h.9M343.0 300.5h.9M341.7 291.1h.9M336.3 304.1h.9M338.5 303.9h.9M337.5 294.8h.9M340.6 304.1h.9M338.4 293.4h.9M342.6 299.6h.9M340.1 304.2h.9M338.3 306.8h.9M338.3 300.0h.9M341.5 302.7h.9M338.9 288.3h.9M337.2 307.3h.9M336.3 302.9h.9M336.0 295.9h.9M344.5 300.4h.9M340.1 295.4h.9M342.1 300.1h.9M340.1 303.7h.9M341.5 300.2h.9M338.1 302.2h.9M336.2 292.8h.9M342.6 303.4h.9M339.3 297.0h.9M342.5 295.4h.9M342.2 292.1h.9M339.8 294.5h.9M341.3 291.2h.9M339.3 293.1h.9M342.2 295.3h.9M335.5 290.8h.9M336.4 303.7h.9M340.5 294.1h.9M339.1 304.6h.9M336.9 293.7h.9M336.5 297.4h.9M342.6 291.0h.9M339.0 291.1h.9M343.1 298.2h.9M340.0 298.8h.9M340.1 300.2h.9M339.4 302.5h.9M343.1 301.9h.9M342.2 294.1h.9M336.8 293.6h.9M336.8 307.1h.9M336.4 306.7h.9M342.2 293.1h.9M343.6 293.9h.9M336.4 294.2h.9M337.1 297.4h.9M339.5 299.1h.9M339.6 297.9h.9M337.6 292.0h.9M340.3 303.8h.9M338.8 301.6h.9M336.5 306.2h.9M339.0 294.4h.9M337.0 297.6h.9M341.5 301.0h.9M336.0 292.6h.9M337.4 294.2h.9M339.4 303.3h.9M340.1 308.3h.9M340.8 304.7h.9M337.1 294.2h.9M338.1 292.3h.9M339.2 295.7h.9M341.8 304.5h.9M338.6 294.8h.9M339.0 302.7h.9M338.7 306.4h.9M339.4 294.7h.9M339.8 301.8h.9M340.0 296.5h.9M339.0 291.3h.9M337.4 293.8h.9M337.0 294.8h.9M341.3 291.8h.9M336.4 293.4h.9M337.5 296.4h.9M337.1 291.8h.9M336.4 289.9h.9M335.7 301.3h.9M336.0 306.0h.9M336.5 301.7h.9M342.2 296.7h.9M343.2 299.8h.9M339.2 305.2h.9M341.2 305.0h.9M341.9 305.2h.9M340.1 302.2h.9M339.2 295.8h.9M337.9 294.7h.9M341.7 304.2h.9M341.8 301.4h.9M336.7 299.1h.9M340.7 305.9h.9M341.0 293.7h.9M339.0 293.3h.9M335.5 300.1h.9M341.2 304.4h.9M336.3 290.4h.9M338.4 293.9h.9M344.3 303.5h.9M340.9 297.5h.9M343.1 291.3h.9M335.6 294.0h.9M341.7 292.1h.9M338.8 306.7h.9M339.0 304.0h.9M336.6 305.9h.9M337.4 304.4h.9M337.5 291.2h.9M339.8 303.6h.9M339.4 304.0h.9M342.8 297.6h.9M341.4 302.4h.9M336.2 292.7h.9M338.7 307.2h.9M335.7 294.8h.9M340.5 303.6h.9M341.4 297.0h.9M337.4 298.9h.9M336.8 303.6h.9M337.8 297.1h.9M342.8 303.9h.9M336.4 298.4h.9M335.7 296.3h.9M339.9 294.9h.9M335.7 305.4h.9M339.6 307.1h.9M336.2 291.0h.9M336.8 290.0h.9M338.5 307.0h.9M340.0 301.1h.9M337.1 293.1h.9M339.8 293.1h.9M336.3 303.1h.9M337.6 290.8h.9M338.9 296.6h.9M336.8 295.9h.9M342.5 300.0h.9M337.4 301.8h.9M342.3 298.7h.9M338.1 306.0h.9M337.9 295.7h.9M342.4 301.8h.9M343.3 304.3h.9M337.0 305.1h.9M340.4 291.8h.9M341.5 296.6h.9M340.8 301.7h.9M339.3 292.7h.9M338.7 304.6h.9M336.7 298.1h.9M336.7 291.1h.9M340.5 290.4h.9M339.3 291.1h.9M336.2 296.3h.9M341.4 292.7h.9M336.0 291.9h.9M341.1 293.6h.9M343.7 300.1h.9M339.3 298.1h.9M340.8 300.9h.9M338.7 303.6h.9M338.8 291.8h.9M338.3 295.2h.9M341.0 303.6h.9M339.6 298.0h.9M337.2 293.1h.9M340.3 299.3h.9M336.0 290.7h.9M338.8 304.2h.9M342.7 296.4h.9M338.4 300.4h.9M342.8 300.1h.9M338.4 301.0h.9M338.7 304.8h.9M336.9 300.1h.9M336.1 293.0h.9M342.0 294.4h.9M335.7 294.8h.9M338.0 304.7h.9M342.4 300.6h.9M341.5 302.3h.9M342.1 302.2h.9M339.4 302.2h.9M338.9 296.8h.9M339.4 297.5h.9M341.8 304.1h.9M336.2 290.3h.9M339.5 307.3h.9M340.6 291.8h.9M337.1 303.6h.9M337.6 290.4h.9M342.7 302.5h.9M338.6 292.6h.9M336.1 305.0h.9M343.0 302.5h.9M344.0 300.5h.9M338.2 292.6h.9M340.6 300.8h.9M337.0 303.6h.9M340.1 294.9h.9M337.9 300.4h.9M341.5 296.6h.9M340.5 294.0h.9M339.7 302.7h.9M340.4 305.3h.9M340.8 305.6h.9M342.0 297.6h.9M335.6 296.1h.9M340.0 293.0h.9M339.0 296.6h.9M341.0 293.0h.9M338.8 299.1h.9M336.0 288.4h.9M339.5 304.2h.9M340.6 293.0h.9M337.2 307.8h.9M340.1 298.6h.9M335.8 299.7h.9M338.3 299.9h.9M343.7 297.0h.9M336.5 297.0h.9M335.9 296.7h.9M336.5 298.5h.9M342.2 300.6h.9M337.3 294.3h.9M339.1 293.7h.9M337.5 292.5h.9M336.3 292.0h.9M337.8 303.1h.9M337.1 297.1h.9M338.7 291.2h.9M340.2 293.7h.9M343.2 299.0h.9M335.8 303.1h.9M342.2 292.6h.9M339.0 292.4h.9M335.9 304.7h.9M343.3 296.6h.9M342.2 303.2h.9M338.0 300.0h.9M339.7 296.7h.9M339.5 297.2h.9M341.5 296.0h.9M339.6 305.6h.9M338.3 291.7h.9M337.6 305.0h.9M335.8 304.4h.9M337.7 299.0h.9M338.7 290.9h.9M340.7 301.8h.9M336.8 301.3h.9M335.6 297.3h.9M339.6 299.5h.9M340.4 294.2h.9M337.1 301.9h.9M339.2 303.7h.9M336.5 295.0h.9M337.8 296.1h.9M335.6 298.0h.9M341.5 298.9h.9M341.2 295.7h.9M336.6 301.0h.9M335.5 305.2h.9M339.2 299.8h.9M338.9 294.4h.9M338.2 294.6h.9M337.1 293.4h.9M337.5 305.4h.9M340.1 293.7h.9M335.9 307.1h.9M340.0 290.4h.9M335.5 302.4h.9M337.7 291.0h.9M341.0 290.9h.9M338.5 305.1h.9M339.3 299.2h.9M336.2 293.1h.9M337.8 296.2h.9M336.1 296.3h.9M342.6 300.4h.9M337.7 303.0h.9M341.8 296.9h.9M338.8 301.9h.9M338.8 300.9h.9M343.5 297.2h.9M341.8 301.5h.9M342.0 293.2h.9M341.6 301.9h.9M337.6 293.7h.9M339.1 301.3h.9M340.2 299.3h.9M338.7 294.9h.9M340.4 300.6h.9M336.4 296.8h.9M339.7 305.8h.9M340.1 294.4h.9M335.9 303.2h.9M340.5 300.8h.9M336.2 295.6h.9M341.0 299.9h.9M336.5 296.2h.9M341.3 289.3h.9M339.6 301.6h.9M343.4 298.9h.9M336.1 296.7h.9M337.7 297.1h.9M340.4 306.4h.9M338.9 304.7h.9M336.5 299.5h.9M341.6 293.8h.9M335.7 304.9h.9M341.2 306.2h.9M337.9 307.8h.9M336.1 299.1h.9M340.8 301.1h.9M337.9 290.4h.9M341.2 289.5h.9M339.5 304.2h.9M340.6 307.3h.9M338.6 304.3h.9M341.3 292.4h.9M341.6 292.9h.9M343.2 293.1h.9M338.1 305.6h.9M338.1 303.2h.9M339.6 294.0h.9M340.5 301.0h.9M336.9 299.0h.9M336.3 303.8h.9M338.2 294.9h.9M338.2 296.7h.9M342.8 297.9h.9M342.9 300.2h.9M340.0 305.4h.9M342.2 301.1h.9M342.4 297.7h.9M337.5 299.5h.9M338.3 293.4h.9M335.7 303.0h.9M339.3 297.1h.9M337.4 303.3h.9M342.1 295.4h.9M340.0 293.8h.9M336.6 294.2h.9M340.7 296.7h.9M340.2 299.3h.9M339.2 292.6h.9M338.1 301.4h.9M341.4 302.6h.9M343.2 296.2h.9M337.7 295.5h.9M337.0 289.5h.9M336.6 291.0h.9M338.8 301.4h.9M337.8 292.9h.9M339.5 293.9h.9M339.4 301.6h.9M338.0 305.8h.9M342.1 294.8h.9M335.7 292.3h.9M337.6 298.6h.9M339.2 304.2h.9M339.7 299.6h.9M339.7 295.8h.9M339.2 289.8h.9M340.3 297.0h.9M335.6 306.3h.9M339.0 307.6h.9M340.0 302.6h.9M339.9 303.8h.9M338.1 303.5h.9M335.7 299.4h.9M341.6 296.7h.9M339.4 302.3h.9M340.7 296.3h.9M336.0 293.1h.9M342.7 302.9h.9M337.6 299.2h.9M341.5 291.1h.9M336.7 305.3h.9M337.0 289.6h.9M341.5 300.2h.9M338.6 304.1h.9M341.5 303.8h.9M337.6 303.2h.9M341.5 299.9h.9M336.5 302.7h.9M341.9 305.2h.9M338.5 303.9h.9M338.0 292.7h.9M337.6 290.7h.9M336.9 305.4h.9M335.8 306.0h.9M337.1 292.2h.9M339.2 295.7h.9M337.3 293.8h.9M341.9 300.0h.9M336.6 306.2h.9M339.2 296.8h.9M338.4 306.6h.9M336.7 302.2h.9M336.7 299.5h.9M340.3 297.5h.9M339.9 301.6h.9M339.5 291.7h.9M337.8 293.6h.9M335.8 290.2h.9M340.8 290.8h.9M342.4 295.2h.9M338.6 302.4h.9M336.2 306.7h.9M338.0 301.2h.9M342.0 292.1h.9M335.7 297.4h.9M343.7 298.3h.9M340.0 293.7h.9M338.7 289.8h.9M339.6 293.1h.9M340.6 297.8h.9M340.1 301.7h.9M336.5 297.2h.9M336.0 304.7h.9M337.9 302.1h.9M340.5 295.4h.9M337.4 298.0h.9M341.3 295.3h.9M339.7 298.5h.9M337.8 300.6h.9M341.1 301.7h.9M338.8 291.9h.9M340.0 303.1h.9M337.6 296.8h.9M339.5 306.7h.9M340.0 297.8h.9M338.0 289.9h.9M337.2 298.7h.9M336.7 306.4h.9M341.7 291.5h.9M338.5 299.0h.9M339.7 300.7h.9M337.6 294.9h.9M339.8 291.2h.9M340.8 304.1h.9M336.6 301.4h.9M339.3 304.7h.9M337.4 306.8h.9M341.7 293.8h.9M339.9 305.5h.9M341.6 295.0h.9M339.7 296.0h.9M338.7 303.2h.9M340.4 300.6h.9M338.4 306.5h.9M342.6 298.3h.9M338.6 297.1h.9M339.6 293.7h.9M341.5 305.3h.9M340.0 300.3h.9M339.7 294.7h.9M335.8 301.0h.9M342.8 300.0h.9M338.6 304.2h.9M341.3 295.6h.9M342.7 301.4h.9M339.3 292.3h.9M341.8 295.0h.9M339.4 296.3h.9M338.2 306.0h.9M340.1 302.2h.9M340.5 300.8h.9M337.5 296.8h.9M343.0 304.0h.9M341.1 291.7h.9M340.5 304.2h.9M341.4 291.7h.9M343.2 295.1h.9M338.4 304.8h.9M339.7 294.3h.9M337.4 291.8h.9M339.6 297.9h.9M336.3 299.8h.9M336.2 292.2h.9M340.3 302.0h.9M341.2 301.8h.9M336.9 295.9h.9M339.0 306.8h.9M336.7 291.7h.9M335.5 305.0h.9M338.0 303.5h.9M336.9 290.6h.9M337.2 295.5h.9M340.7 298.3h.9M342.5 299.4h.9M337.7 300.1h.9M337.5 300.5h.9M337.4 290.9h.9M338.8 294.0h.9M341.2 293.4h.9M336.8 300.5h.9M339.5 293.1h.9M342.4 301.5h.9M338.6 299.0h.9M339.3 301.0h.9M341.4 297.1h.9M340.0 297.7h.9M339.2 292.9h.9M336.4 295.6h.9M340.2 293.2h.9M342.3 297.6h.9M336.5 299.4h.9M337.3 291.7h.9M337.6 307.7h.9M340.5 296.1h.9M339.2 299.3h.9M338.9 300.5h.9M335.9 294.0h.9M340.6 301.7h.9M342.3 294.8h.9M341.8 298.6h.9M338.0 292.1h.9M338.6 305.8h.9M336.4 293.7h.9M338.2 297.3h.9M344.6 300.7h.9M337.5 297.8h.9M339.0 300.8h.9M335.5 299.2h.9M337.9 306.0h.9M338.4 290.1h.9M342.8 293.0h.9M338.4 290.0h.9M341.4 302.1h.9M343.7 300.6h.9M341.8 299.4h.9M338.5 299.2h.9M337.1 305.5h.9M337.6 306.6h.9M336.5 295.5h.9M340.4 297.2h.9M339.8 299.0h.9M341.9 305.3h.9M337.8 296.0h.9M338.2 292.1h.9M336.5 306.1h.9M342.5 303.2h.9M338.8 299.2h.9M342.8 300.5h.9M339.8 304.5h.9M342.1 297.2h.9M337.7 293.2h.9M335.8 289.1h.9M343.8 304.1h.9M337.1 306.2h.9M340.8 292.5h.9M341.3 299.6h.9M339.4 298.7h.9M340.3 294.5h.9M338.6 293.3h.9M336.9 304.7h.9M338.1 300.7h.9M337.1 292.3h.9M338.7 299.1h.9M343.1 302.8h.9M340.6 293.2h.9M340.2 305.5h.9M336.4 289.8h.9M337.2 298.9h.9M342.4 294.4h.9M339.9 298.3h.9M341.8 301.7h.9M339.8 297.3h.9M340.2 300.7h.9M336.0 297.8h.9M337.2 290.0h.9M340.3 305.1h.9M340.0 302.8h.9M340.8 294.7h.9M336.0 295.4h.9M336.2 298.0h.9M337.6 295.5h.9M339.9 295.6h.9M338.9 296.0h.9M336.2 298.0h.9M336.5 291.4h.9M342.1 294.3h.9M339.6 302.1h.9M339.7 297.9h.9M342.3 295.8h.9M339.7 305.6h.9M337.3 294.5h.9M341.8 297.9h.9M340.9 299.7h.9M340.4 299.1h.9M341.5 296.1h.9M338.0 289.4h.9M336.0 296.7h.9M340.2 295.5h.9M339.7 292.3h.9M340.4 300.3h.9M338.4 289.4h.9M341.4 299.0h.9M342.2 293.8h.9M342.0 302.8h.9M336.4 305.2h.9M339.3 298.7h.9M339.1 298.9h.9M336.1 299.3h.9M338.5 289.3h.9M340.0 299.5h.9M340.8 293.9h.9M339.2 299.4h.9M335.8 298.1h.9M338.9 294.9h.9M337.1 291.4h.9M338.0 290.8h.9M341.2 299.7h.9M341.6 297.8h.9M338.3 303.0h.9M337.8 307.0h.9M340.3 292.3h.9M343.1 291.5h.9M338.2 299.6h.9M340.5 299.3h.9M340.8 298.0h.9M339.2 295.4h.9M338.4 298.3h.9M336.7 297.6h.9M336.5 293.7h.9M341.6 303.9h.9M337.5 291.4h.9M340.3 293.9h.9M339.9 304.6h.9M341.7 292.5h.9M337.6 302.5h.9M342.5 298.2h.9M338.0 297.9h.9M336.5 292.7h.9M340.6 307.3h.9M336.6 297.1h.9M340.0 291.5h.9M339.0 292.1h.9M338.2 289.3h.9M337.7 302.2h.9M336.8 291.5h.9M339.6 304.8h.9M341.0 302.3h.9M335.8 300.1h.9M340.0 298.1h.9M338.5 302.0h.9M341.7 295.2h.9M337.1 303.5h.9M340.3 303.8h.9M343.4 291.7h.9M338.5 293.7h.9M341.1 299.4h.9M339.5 298.0h.9M340.0 300.2h.9M337.1 304.3h.9M336.1 299.4h.9M338.0 300.9h.9M341.1 302.1h.9M335.9 301.7h.9M337.1 308.0h.9M341.9 296.6h.9M340.2 292.7h.9M341.2 295.6h.9M339.9 305.9h.9M340.9 291.8h.9M337.4 291.4h.9M339.8 290.6h.9M341.2 303.5h.9M340.9 298.3h.9M339.8 297.9h.9" stroke="#202020" stroke-width="0.9" fill="none"/>
<text x="307.60" y="312.10" font-size="9" text-anchor="start" font-weight="normal" fill="#2a2a2a" stroke="#2a2a2a" stroke-width="0.18" textLength="18.50" lengthAdjust="spacingAndGlyphs" transform="rotate(-90 307.60 312.10)">CCR7</text>
<rect x="378.40" y="275.60" width="53.90" height="46.40" fill="none" stroke="#4a4a4a" stroke-width="1.0"/>
<line x1="378.40" y1="322.00" x2="432.30" y2="322.00" stroke="#2a2a2a" stroke-width="1.2"/>
<line x1="378.40" y1="275.60" x2="378.40" y2="322.00" stroke="#2a2a2a" stroke-width="1.2"/>
<line x1="403.80" y1="275.60" x2="403.80" y2="322.00" stroke="#666" stroke-width="0.9"/>
<line x1="378.40" y1="304.90" x2="432.30" y2="304.90" stroke="#666" stroke-width="0.9"/>
<path d="M410.9 309.1h.9M409.3 284.4h.9M412.2 298.1h.9M404.3 286.7h.9M425.4 296.8h.9M417.0 291.5h.9M401.0 294.6h.9M420.9 290.8h.9M399.1 294.6h.9M409.6 296.0h.9M404.3 293.6h.9M407.8 302.6h.9M412.6 302.5h.9M411.2 279.7h.9M397.9 300.0h.9M417.7 302.5h.9M411.1 282.4h.9M408.1 299.0h.9M421.2 293.3h.9M407.7 290.0h.9M418.7 302.5h.9M398.8 305.1h.9M405.1 284.8h.9M400.4 290.4h.9M427.8 315.2h.9M402.9 290.8h.9M412.7 299.1h.9M408.2 283.9h.9M408.7 290.7h.9M399.1 297.0h.9M401.3 282.7h.9M422.2 303.0h.9M421.7 296.8h.9M408.7 295.3h.9M402.0 301.5h.9" stroke="#b0b0b0" stroke-width="0.9" fill="none"/>
<path d="M408.8 294.1h.9M398.8 295.2h.9M415.1 304.5h.9M411.6 293.8h.9M408.2 299.2h.9M408.5 302.1h.9M404.5 282.2h.9M396.3 290.5h.9M401.1 299.8h.9M412.6 295.9h.9M410.1 296.4h.9M408.4 293.1h.9M405.7 302.9h.9M406.3 295.7h.9M413.1 301.7h.9M405.7 297.4h.9M402.8 296.7h.9M409.0 295.9h.9M408.3 298.1h.9M395.8 291.0h.9M407.9 293.0h.9M403.1 294.5h.9M415.0 294.5h.9M404.5 293.1h.9M402.0 298.8h.9M403.0 301.3h.9M411.8 299.3h.9M412.4 295.4h.9M399.4 295.5h.9M410.5 286.7h.9M401.9 302.4h.9M409.6 303.9h.9M410.7 296.3h.9M409.6 300.9h.9M407.4 294.7h.9M409.0 294.0h.9M418.8 291.4h.9M400.5 288.2h.9M412.4 293.5h.9M408.3 294.6h.9M408.9 287.3h.9M408.0 292.5h.9M412.6 299.6h.9M401.7 290.2h.9M410.2 303.0h.9M411.1 295.0h.9M412.8 281.9h.9M405.1 290.1h.9M402.7 299.2h.9M408.9 297.6h.9M406.9 299.6h.9M411.2 292.5h.9M411.9 290.4h.9M415.8 288.2h.9M406.2 289.5h.9M407.7 303.7h.9M404.0 306.4h.9M414.2 298.2h.9M404.8 301.3h.9M394.2 291.4h.9M412.1 295.7h.9M419.2 291.9h.9M401.3 294.6h.9M410.3 306.0h.9M399.3 296.8h.9M413.5 291.9h.9M405.4 288.7h.9M411.2 300.8h.9M410.3 297.4h.9M412.2 295.2h.9M410.9 300.8h.9M413.7 299.0h.9M408.0 300.1h.9M400.3 285.4h.9M415.2 296.7h.9M402.6 292.4h.9M406.9 296.3h.9M404.0 301.8h.9M399.5 312.6h.9M402.5 305.8h.9M410.7 285.9h.9M401.8 296.3h.9M408.9 293.4h.9M407.6 296.9h.9M402.2 296.3h.9M418.3 292.1h.9M402.8 299.9h.9M413.9 302.1h.9M404.6 295.5h.9M408.5 294.7h.9M409.5 302.4h.9M410.2 295.8h.9M406.6 306.6h.9M401.7 307.9h.9M411.1 296.4h.9M404.0 306.8h.9M413.3 301.3h.9M417.5 285.2h.9M408.0 294.1h.9M404.1 296.4h.9M410.1 299.0h.9M406.9 288.0h.9M410.2 299.5h.9M417.7 301.5h.9M407.6 289.0h.9M420.6 291.9h.9M408.5 300.4h.9M410.0 303.9h.9M402.6 291.8h.9M408.4 288.5h.9M404.6 304.2h.9M409.0 295.3h.9M404.8 296.2h.9M407.4 289.5h.9M411.3 288.2h.9M413.7 293.9h.9M396.6 286.6h.9M408.9 290.7h.9M416.2 304.2h.9M417.7 301.3h.9M414.0 292.3h.9M413.8 293.3h.9M407.3 287.7h.9M407.8 298.3h.9M407.3 289.3h.9M411.9 301.4h.9M407.1 300.6h.9M412.3 290.0h.9M407.4 284.7h.9M402.6 298.5h.9M403.3 298.3h.9M409.3 283.5h.9M405.2 305.0h.9M407.6 296.6h.9M404.2 286.3h.9M399.9 313.2h.9M406.7 290.7h.9M408.1 284.2h.9M414.3 306.2h.9M403.9 297.8h.9M403.2 301.1h.9M403.5 295.0h.9M413.9 299.1h.9M406.0 286.7h.9M399.8 303.1h.9M410.0 296.2h.9M413.6 296.8h.9M404.0 295.3h.9M407.1 295.8h.9M419.6 299.4h.9M408.9 294.4h.9M404.3 289.9h.9M398.4 293.1h.9M400.2 284.7h.9M403.0 283.7h.9M414.2 303.4h.9M402.9 308.3h.9M410.8 280.6h.9M407.7 289.9h.9M399.1 294.3h.9" stroke="#909090" stroke-width="0.9" fill="none"/>
<path d="M399.5 295.9h.9M403.2 295.9h.9M401.6 291.6h.9M402.2 299.0h.9M402.3 290.5h.9M402.3 293.4h.9M403.2 289.2h.9M403.4 301.8h.9M403.8 293.9h.9M401.0 296.5h.9M403.2 294.2h.9M403.2 293.0h.9M402.9 291.8h.9M402.9 291.9h.9M402.7 292.1h.9M402.3 303.0h.9M399.1 299.1h.9M403.7 302.5h.9M402.1 295.6h.9M401.6 294.2h.9M400.8 290.0h.9M402.7 295.1h.9M402.9 299.4h.9M401.3 297.4h.9M403.5 289.3h.9M400.9 295.9h.9M403.4 303.5h.9M403.8 289.4h.9M398.7 303.6h.9M399.9 297.4h.9M402.2 300.2h.9M400.7 302.1h.9M400.6 294.2h.9M400.7 299.1h.9M403.6 298.5h.9M400.1 296.4h.9M400.8 298.6h.9M402.3 298.3h.9M401.4 291.1h.9M403.1 297.6h.9M401.1 300.7h.9M402.0 298.3h.9M402.2 293.0h.9M401.5 292.5h.9M402.8 297.5h.9M400.5 295.5h.9M403.6 295.1h.9M403.8 289.7h.9M401.4 296.3h.9M401.8 298.6h.9M402.6 298.3h.9M401.2 295.8h.9M402.9 294.5h.9M400.4 293.6h.9M402.8 299.0h.9M403.7 300.2h.9M402.2 299.3h.9M402.1 291.5h.9M402.6 300.1h.9M401.7 300.7h.9M401.9 291.2h.9M399.8 296.3h.9M403.6 287.8h.9M403.3 289.3h.9M402.9 301.8h.9M401.2 301.6h.9M403.6 304.0h.9M403.8 303.9h.9M402.3 298.5h.9M401.0 298.6h.9M403.4 293.9h.9M402.8 303.8h.9M401.5 291.0h.9M401.6 297.0h.9M399.6 294.5h.9M403.3 297.6h.9M401.1 291.5h.9M402.6 288.7h.9M403.0 293.1h.9M402.7 288.6h.9M400.3 300.8h.9M402.7 302.1h.9M402.6 293.4h.9M403.8 291.8h.9M402.4 288.1h.9M402.2 300.3h.9M403.6 294.1h.9M402.9 295.5h.9M402.7 299.2h.9M403.0 289.7h.9M402.5 290.1h.9M398.7 294.8h.9M401.6 298.9h.9M403.1 297.5h.9M403.7 299.9h.9M401.9 295.2h.9M403.2 297.2h.9M402.3 300.6h.9M400.2 292.6h.9M400.9 296.0h.9M399.9 291.5h.9M403.1 297.3h.9M403.2 297.9h.9M401.7 301.3h.9M401.3 295.1h.9M401.8 301.3h.9M402.7 299.3h.9M401.9 291.5h.9M403.3 299.4h.9M402.9 293.0h.9M402.7 290.1h.9M403.0 302.6h.9M401.5 292.8h.9M402.0 300.1h.9M400.9 294.4h.9M402.8 301.4h.9M403.6 299.7h.9M401.4 301.9h.9M402.2 288.1h.9M403.6 303.1h.9M403.5 292.7h.9M402.4 291.9h.9M403.7 302.1h.9M401.3 295.3h.9M402.7 297.8h.9M403.2 290.8h.9M402.9 297.5h.9M401.9 290.7h.9M402.5 296.2h.9M401.9 299.2h.9M402.0 289.4h.9M403.3 292.2h.9M402.4 301.6h.9M402.0 291.2h.9M400.7 302.6h.9M401.6 300.3h.9M402.9 298.0h.9M402.2 291.9h.9M403.2 299.5h.9M401.9 294.7h.9M403.3 294.6h.9M401.8 291.2h.9M400.6 303.1h.9M403.2 293.6h.9M403.0 298.4h.9M403.2 297.1h.9M400.1 288.7h.9M403.3 287.9h.9M402.1 290.3h.9M401.7 293.3h.9M401.1 295.0h.9M402.1 288.7h.9M401.7 294.4h.9M402.4 291.6h.9M401.0 298.8h.9M402.6 295.1h.9M403.5 302.9h.9M401.0 302.4h.9M403.5 290.6h.9M400.7 295.2h.9M400.8 301.9h.9M402.4 301.3h.9M400.5 294.2h.9M402.0 295.4h.9M402.9 296.3h.9M402.6 295.9h.9M400.5 294.8h.9M403.2 292.4h.9M403.6 300.4h.9M403.0 298.2h.9M402.8 297.2h.9M400.7 298.4h.9M400.9 292.0h.9M403.2 292.6h.9M402.8 290.0h.9M403.3 290.4h.9M401.3 297.5h.9M402.8 297.1h.9M400.5 297.4h.9M398.9 293.3h.9M402.7 298.4h.9M400.5 299.3h.9M402.1 304.1h.9M401.5 290.3h.9M403.5 304.8h.9M402.4 293.3h.9M402.4 288.3h.9M402.0 294.1h.9M403.2 294.3h.9M402.3 298.8h.9M402.2 299.3h.9M401.6 299.9h.9M401.6 289.3h.9M403.0 296.5h.9M403.6 296.6h.9M403.6 298.9h.9M403.5 290.5h.9M403.2 299.7h.9M400.9 298.4h.9M403.2 296.1h.9M403.8 303.3h.9M401.4 300.3h.9M403.4 303.6h.9M400.5 287.3h.9M401.3 300.5h.9M400.5 294.9h.9M401.6 291.9h.9M402.4 293.3h.9M401.4 293.1h.9M401.7 290.3h.9M401.6 296.0h.9M402.1 290.8h.9M402.0 297.1h.9M402.4 297.7h.9M401.4 298.8h.9M402.0 292.0h.9M401.8 293.5h.9M403.5 287.5h.9M402.4 289.5h.9M403.4 296.3h.9M402.4 298.4h.9M403.3 295.3h.9M402.4 297.5h.9M403.0 293.5h.9M401.3 293.3h.9M403.6 290.0h.9M403.7 290.0h.9M403.4 295.9h.9M401.4 298.1h.9M402.9 292.9h.9M402.4 299.5h.9M400.7 298.7h.9M401.3 293.4h.9M401.7 290.7h.9M403.3 295.5h.9M402.6 293.3h.9M400.9 294.7h.9M403.6 294.2h.9M403.5 300.6h.9M403.4 290.8h.9M402.7 301.0h.9M401.4 291.2h.9M401.1 299.1h.9M403.2 294.4h.9M402.5 297.0h.9M402.7 300.1h.9M403.4 288.0h.9M400.7 295.3h.9M400.0 291.0h.9M402.6 299.9h.9M400.4 295.7h.9M401.4 297.3h.9M401.5 296.2h.9M402.8 291.9h.9M402.4 295.4h.9M403.2 296.6h.9M402.4 299.8h.9M401.8 303.0h.9M401.8 296.0h.9M402.5 299.1h.9M403.5 291.2h.9M402.9 304.1h.9M403.4 290.1h.9M403.8 296.9h.9M402.4 298.9h.9M401.2 301.2h.9M400.8 300.5h.9M402.2 295.2h.9M401.6 289.7h.9M400.1 295.5h.9M401.0 300.8h.9M400.4 300.6h.9M402.4 301.2h.9M401.0 300.5h.9M402.9 299.7h.9M403.6 292.1h.9M403.7 293.5h.9M399.8 293.7h.9M402.5 293.3h.9M402.3 292.6h.9M402.1 290.1h.9M401.5 297.7h.9M402.2 293.4h.9M403.6 294.4h.9M401.0 289.8h.9M401.9 295.2h.9M403.2 288.5h.9M403.7 301.0h.9M403.2 296.1h.9M400.0 290.9h.9M401.9 295.4h.9M399.9 300.4h.9M401.9 287.7h.9M403.3 291.2h.9M403.8 295.3h.9M402.8 295.4h.9M403.2 301.7h.9M403.7 304.3h.9M403.7 298.3h.9M401.3 291.9h.9M402.2 293.3h.9M403.2 292.8h.9M401.2 294.1h.9M399.8 301.2h.9M401.8 289.8h.9M402.6 303.3h.9M401.4 291.0h.9M400.3 292.5h.9M402.0 295.4h.9M400.7 304.1h.9M403.1 296.1h.9M403.6 293.4h.9M402.8 293.3h.9M401.3 302.1h.9M399.3 293.7h.9M403.2 288.8h.9M402.0 304.0h.9M403.4 297.5h.9M401.3 293.3h.9M403.4 289.6h.9M399.5 294.6h.9M403.0 292.8h.9M401.1 298.1h.9M403.0 296.9h.9M402.9 287.3h.9M402.0 299.2h.9M403.0 292.8h.9M401.5 290.6h.9M401.9 297.1h.9M403.4 300.9h.9M400.9 303.6h.9M403.4 296.8h.9M402.9 287.9h.9M402.5 293.2h.9M403.7 301.6h.9M403.2 290.6h.9M401.0 294.0h.9M401.0 296.0h.9M402.1 292.2h.9M403.5 289.6h.9M401.0 299.1h.9M401.5 299.7h.9M402.3 296.0h.9M401.1 294.3h.9M401.9 295.9h.9M403.6 295.8h.9M400.4 292.3h.9M399.7 293.1h.9" stroke="#808080" stroke-width="0.9" fill="none"/>
<path d="M404.4 296.8h.9M408.0 303.8h.9M406.2 302.6h.9M406.7 300.8h.9M406.3 300.0h.9M407.4 298.6h.9M408.3 295.3h.9M405.0 299.5h.9M410.9 298.8h.9M407.2 300.0h.9M410.8 291.1h.9M409.5 295.3h.9M404.4 289.9h.9M408.9 302.7h.9M407.5 299.3h.9M406.4 299.4h.9M409.6 288.2h.9M409.5 301.1h.9M407.1 295.2h.9M413.0 296.9h.9M405.0 296.4h.9M413.2 294.6h.9M407.2 300.9h.9M411.2 300.4h.9M408.1 294.0h.9M404.0 299.5h.9M407.2 287.3h.9M406.6 295.9h.9M406.1 294.0h.9M406.6 302.2h.9M413.0 297.1h.9M408.8 300.5h.9M410.8 301.8h.9M405.7 297.0h.9M404.1 302.3h.9M411.8 289.3h.9M407.7 296.2h.9M409.0 292.5h.9M410.3 294.8h.9M412.4 293.8h.9M408.7 302.5h.9M409.6 296.3h.9M409.0 303.2h.9M403.8 290.4h.9M405.9 298.4h.9M405.2 298.4h.9M404.2 290.8h.9M409.4 300.4h.9M409.5 296.1h.9M409.7 303.1h.9M409.7 293.1h.9M407.0 286.6h.9M408.7 303.1h.9M404.6 291.7h.9M404.1 296.2h.9M409.9 290.2h.9M410.7 290.0h.9M408.6 290.2h.9M408.7 297.7h.9M406.9 297.0h.9M404.0 295.1h.9M405.1 302.0h.9M403.9 296.8h.9M405.4 289.3h.9M409.5 294.2h.9M406.8 304.3h.9M409.2 300.9h.9M409.2 287.4h.9M407.5 294.1h.9M411.2 290.1h.9M409.9 292.5h.9M405.4 299.7h.9M406.6 289.0h.9M407.9 298.5h.9M405.3 287.3h.9M411.0 287.6h.9M410.4 302.4h.9M410.9 294.1h.9M404.3 303.2h.9M405.5 304.4h.9M409.7 299.4h.9M411.3 292.2h.9M407.8 286.0h.9M409.9 295.6h.9M408.5 301.6h.9M409.0 300.0h.9M409.3 290.1h.9M403.8 304.6h.9M405.8 305.5h.9M411.3 296.4h.9M410.3 296.9h.9M407.8 288.5h.9M406.0 300.1h.9M408.1 296.3h.9M408.1 288.4h.9M411.8 288.1h.9M408.8 303.2h.9M407.9 289.8h.9M404.3 290.2h.9M406.1 288.2h.9M408.6 299.7h.9M407.6 299.0h.9M410.8 298.9h.9M406.2 296.2h.9M407.5 289.0h.9M409.6 291.0h.9M404.2 295.1h.9M408.3 289.1h.9M411.5 293.8h.9M410.5 300.3h.9M410.9 291.4h.9M407.0 294.9h.9M410.2 295.8h.9M409.0 294.6h.9M412.9 292.3h.9M408.8 294.0h.9M410.9 294.0h.9M407.2 290.5h.9M410.1 296.3h.9M405.4 289.2h.9M413.7 301.1h.9M405.3 303.6h.9M404.6 295.9h.9M410.6 298.3h.9M404.8 293.2h.9M409.4 302.5h.9M410.5 294.4h.9M405.7 297.7h.9M403.8 301.8h.9M405.1 293.7h.9M404.8 297.0h.9M410.5 296.3h.9M406.4 292.1h.9M405.1 290.1h.9M406.0 297.4h.9M412.0 293.0h.9M411.3 296.6h.9M407.2 301.8h.9M404.2 299.9h.9M405.7 287.6h.9M409.0 295.8h.9M410.4 296.5h.9M407.2 297.2h.9M406.8 293.5h.9M408.6 288.5h.9M407.4 299.0h.9M406.0 301.5h.9M406.5 298.7h.9M407.1 290.1h.9M406.5 292.5h.9M406.7 292.9h.9M408.0 290.1h.9M412.9 293.2h.9M405.9 296.1h.9M410.2 296.7h.9M410.2 297.7h.9M408.5 299.2h.9M410.8 297.7h.9M406.3 303.0h.9M407.7 296.5h.9M408.9 297.9h.9M405.5 297.1h.9M410.5 295.4h.9M408.8 298.3h.9M404.4 298.5h.9M408.4 293.5h.9M404.0 295.9h.9M408.6 301.6h.9M406.1 301.4h.9M408.7 296.7h.9M408.1 289.4h.9M410.9 288.9h.9M411.0 289.5h.9M407.0 300.7h.9M405.6 294.8h.9M411.9 292.6h.9M407.3 287.4h.9M410.9 299.9h.9M408.0 292.8h.9M407.5 298.1h.9M413.3 295.6h.9M410.9 302.7h.9M410.8 291.4h.9M403.9 303.2h.9M408.5 292.0h.9M404.9 300.9h.9M406.7 302.4h.9M406.0 290.2h.9M405.5 303.5h.9M411.2 292.2h.9M405.8 299.2h.9M404.5 290.4h.9M406.7 295.2h.9M407.2 303.2h.9M404.7 293.6h.9M409.6 295.0h.9M410.2 293.3h.9M408.4 297.7h.9M412.0 290.7h.9M407.8 291.1h.9M406.3 292.6h.9M410.2 290.6h.9M408.3 292.6h.9M405.7 298.5h.9M408.1 290.8h.9M413.8 296.0h.9M408.6 299.8h.9M406.6 303.3h.9M404.6 300.1h.9M405.3 300.7h.9M410.4 295.8h.9M405.5 297.4h.9M412.1 299.5h.9M404.1 289.2h.9M406.9 292.9h.9M409.0 295.8h.9M406.9 292.0h.9M404.3 297.6h.9M411.3 290.5h.9M409.5 301.2h.9M408.1 302.2h.9M412.0 301.4h.9M405.2 302.4h.9M404.3 299.8h.9M412.1 295.5h.9M404.8 298.5h.9M406.5 291.7h.9M404.1 289.4h.9M406.7 301.5h.9M410.1 297.0h.9M406.8 297.6h.9M406.6 303.8h.9M405.7 295.9h.9M405.6 289.3h.9M405.9 297.6h.9M406.2 293.9h.9M410.9 291.0h.9M407.4 301.9h.9M405.3 303.4h.9M410.1 304.1h.9M410.8 296.7h.9M405.5 292.1h.9M403.9 301.6h.9M404.2 301.0h.9M411.3 300.7h.9M407.8 294.7h.9M404.7 301.5h.9M407.2 296.9h.9M409.1 303.6h.9M404.3 297.0h.9M408.5 293.0h.9M411.5 296.1h.9M405.9 301.2h.9M404.7 290.8h.9M405.4 300.6h.9M407.1 290.8h.9M404.3 303.7h.9M406.2 296.4h.9M404.2 288.8h.9M404.0 297.7h.9M404.0 298.3h.9M408.0 295.9h.9M404.7 303.1h.9M407.1 295.7h.9M405.9 295.5h.9M407.6 293.4h.9M405.5 295.9h.9M406.6 287.7h.9M407.6 293.6h.9M406.3 302.2h.9M404.9 290.2h.9M410.7 293.5h.9M412.1 299.9h.9M407.4 295.9h.9M408.2 292.0h.9M413.2 298.1h.9M408.1 289.4h.9M407.3 291.8h.9M406.6 292.8h.9M404.6 296.9h.9M407.3 298.1h.9M411.6 302.0h.9M408.9 290.7h.9M406.1 299.2h.9M406.8 290.3h.9M404.7 299.4h.9M412.8 300.1h.9M407.2 296.7h.9M408.0 301.3h.9M411.6 296.8h.9M405.9 300.3h.9M407.5 287.8h.9M405.5 290.6h.9M404.7 301.7h.9M405.6 298.6h.9M407.9 294.6h.9M404.4 290.8h.9M411.4 299.1h.9M410.6 297.9h.9M406.7 292.5h.9M406.7 294.4h.9M411.4 290.3h.9M408.5 299.1h.9M406.6 303.9h.9M410.8 299.3h.9M409.6 291.1h.9M409.5 298.2h.9M406.6 293.9h.9M406.1 294.7h.9M407.0 299.0h.9M409.8 294.5h.9M404.4 295.8h.9M406.5 289.4h.9M404.0 300.2h.9M406.6 300.0h.9M405.0 289.5h.9M411.6 296.3h.9M413.0 292.9h.9M408.6 297.0h.9M409.8 290.2h.9M406.2 293.5h.9M404.3 289.8h.9M407.0 300.8h.9M411.5 291.7h.9M413.6 298.6h.9M406.3 303.0h.9M408.3 301.6h.9M410.8 296.5h.9M411.8 293.1h.9M410.3 302.3h.9M405.1 298.5h.9M411.3 290.6h.9M403.8 298.1h.9M403.9 296.5h.9M411.6 294.8h.9M404.2 296.0h.9M409.0 292.4h.9M408.9 296.8h.9M407.5 299.4h.9M405.3 297.1h.9M407.0 298.7h.9M407.8 290.1h.9M404.9 289.6h.9M407.6 297.0h.9M405.3 304.0h.9M410.9 300.2h.9M409.3 289.1h.9M412.1 287.5h.9M411.3 303.2h.9M407.1 290.5h.9M405.0 299.6h.9M407.5 304.2h.9M406.4 304.3h.9M408.4 290.1h.9M407.4 304.3h.9M413.4 300.2h.9M407.1 297.2h.9M411.0 296.7h.9M410.2 297.0h.9M406.0 302.3h.9M410.7 298.5h.9M409.9 295.4h.9M405.8 291.5h.9M406.6 290.9h.9M405.3 296.5h.9M404.7 288.6h.9M407.4 289.1h.9M406.8 290.8h.9M410.6 288.1h.9M404.9 298.9h.9M408.7 288.0h.9M404.8 290.5h.9M410.5 293.2h.9M410.5 295.6h.9M409.8 303.2h.9M410.2 291.2h.9M407.6 301.3h.9M409.2 287.3h.9M410.4 296.2h.9M409.8 298.3h.9M408.7 302.4h.9M405.8 301.3h.9M411.8 295.3h.9M405.5 290.8h.9M412.6 293.0h.9M409.9 299.3h.9M409.8 297.6h.9M409.7 301.0h.9M405.6 297.4h.9M408.2 300.9h.9M405.0 295.9h.9M407.5 291.6h.9M409.6 291.4h.9M409.9 287.2h.9M413.3 300.7h.9M406.1 289.8h.9M404.4 288.2h.9M404.0 289.5h.9M408.9 287.6h.9M407.6 290.9h.9M412.2 293.9h.9M412.1 293.0h.9M411.0 302.9h.9M409.8 287.6h.9M410.5 292.9h.9M404.4 299.7h.9M409.0 299.0h.9M405.6 288.4h.9M408.3 290.2h.9M407.6 299.7h.9M409.3 299.6h.9M406.9 290.4h.9M412.1 290.7h.9M410.6 302.0h.9M404.5 292.0h.9M405.5 290.9h.9M407.3 292.5h.9M408.6 289.2h.9M409.0 292.5h.9M407.0 293.9h.9M407.9 295.6h.9M412.8 295.8h.9M407.6 290.5h.9M407.7 297.6h.9M406.7 293.6h.9M409.3 292.7h.9M406.0 290.2h.9M409.7 297.0h.9M404.6 297.5h.9M411.9 292.4h.9M405.6 288.7h.9M407.0 287.8h.9M409.8 291.3h.9M405.5 291.5h.9M406.1 294.1h.9M408.8 296.9h.9M407.7 290.0h.9M404.0 293.7h.9M406.3 302.1h.9M408.7 293.8h.9M411.2 293.8h.9M408.4 299.1h.9M411.8 295.3h.9M409.8 303.1h.9M405.9 295.4h.9M404.4 288.4h.9M409.2 302.8h.9M407.2 302.3h.9M409.3 296.7h.9M406.6 295.1h.9M404.2 301.4h.9M406.5 289.8h.9M405.5 295.0h.9M412.8 296.5h.9M412.0 299.4h.9M412.9 297.1h.9M409.4 304.1h.9M405.9 290.3h.9M406.4 290.6h.9M406.7 299.0h.9M408.8 294.0h.9M411.2 293.6h.9M404.2 297.2h.9M407.0 302.1h.9M409.3 291.2h.9M413.7 295.0h.9M410.2 293.5h.9M409.9 303.4h.9M405.1 302.1h.9M403.8 295.4h.9M408.8 301.8h.9M407.1 294.6h.9M405.2 292.5h.9M410.2 292.6h.9M403.8 289.8h.9M408.8 302.8h.9M404.7 291.0h.9M406.2 292.3h.9M407.8 298.4h.9M408.2 303.6h.9M404.8 298.5h.9M406.3 298.0h.9M412.6 300.6h.9M409.4 291.5h.9M411.3 294.5h.9M404.8 301.6h.9M404.9 302.1h.9M410.7 289.8h.9M406.4 296.6h.9M404.1 288.3h.9M406.8 288.3h.9M408.8 302.6h.9M406.4 303.9h.9M409.9 302.0h.9M411.1 294.2h.9M405.8 291.8h.9M408.9 300.1h.9M405.5 294.0h.9M406.5 294.0h.9M410.7 292.4h.9M405.2 287.7h.9M406.4 295.8h.9M405.4 294.1h.9M407.7 297.3h.9M411.0 300.5h.9M410.0 295.5h.9M409.9 292.9h.9M406.7 288.8h.9M410.2 292.1h.9M406.4 298.9h.9M404.7 303.8h.9M409.0 303.5h.9M410.8 294.5h.9M408.7 302.0h.9M411.2 292.2h.9M409.7 292.4h.9M406.3 305.0h.9M407.9 287.6h.9M409.9 298.3h.9M407.4 298.5h.9M404.7 288.9h.9M405.5 301.0h.9M406.5 299.8h.9M411.5 293.8h.9M404.0 299.8h.9M405.8 301.6h.9M410.4 290.0h.9M405.3 300.4h.9M404.8 289.0h.9M407.8 293.1h.9M407.1 303.9h.9M406.2 294.7h.9M406.5 291.7h.9M411.9 295.8h.9M407.6 293.9h.9M407.8 291.9h.9M406.1 297.5h.9M412.1 301.0h.9M408.9 296.9h.9M406.5 293.7h.9M409.5 301.1h.9M410.0 288.0h.9M406.6 291.1h.9M408.0 298.3h.9M407.6 299.6h.9M407.9 290.9h.9M412.0 294.2h.9M407.8 289.4h.9M405.8 297.8h.9M405.5 300.8h.9M413.8 294.0h.9M410.6 300.6h.9M407.5 297.5h.9M407.3 289.1h.9M412.2 291.8h.9M413.0 299.4h.9M405.6 301.4h.9M406.4 287.8h.9M405.9 289.7h.9M406.3 298.5h.9M404.1 289.3h.9M411.2 290.1h.9M410.6 292.5h.9M411.9 299.5h.9M408.7 296.9h.9M412.1 295.6h.9M405.4 295.7h.9M408.4 302.6h.9M405.3 300.7h.9M404.8 295.5h.9M406.9 295.1h.9M405.2 295.4h.9M408.6 303.8h.9M406.4 297.4h.9M411.3 297.9h.9M411.1 288.7h.9M408.2 294.7h.9M406.4 292.8h.9M405.0 289.3h.9M406.8 288.8h.9M406.2 304.7h.9M408.4 303.0h.9M404.2 291.8h.9M405.4 301.6h.9M406.4 289.3h.9M410.2 289.6h.9M411.4 289.5h.9M405.0 291.7h.9M412.3 293.1h.9M409.0 289.8h.9M408.2 299.2h.9M410.7 302.4h.9M408.2 300.6h.9M408.8 291.3h.9M408.8 295.4h.9M405.2 297.2h.9M409.3 302.5h.9M411.6 301.1h.9M407.8 291.4h.9M406.8 299.5h.9M406.2 302.5h.9M409.7 297.2h.9M408.5 304.2h.9M406.9 296.1h.9M404.9 301.5h.9M407.5 296.3h.9M408.9 305.1h.9M406.5 295.5h.9M406.2 297.4h.9M408.5 289.4h.9M409.2 290.3h.9M407.6 303.7h.9M406.3 302.7h.9M410.6 288.3h.9M411.4 289.7h.9M406.6 295.2h.9M407.4 304.7h.9M409.7 297.4h.9M408.5 303.3h.9M410.1 288.7h.9M409.5 293.4h.9M410.1 301.3h.9M410.9 300.9h.9M412.1 295.7h.9M404.2 293.0h.9M410.4 297.7h.9M412.0 297.3h.9M405.6 289.8h.9M409.9 298.8h.9M408.3 296.9h.9M404.7 290.5h.9M410.1 303.0h.9M405.1 289.0h.9M409.9 297.3h.9M412.6 296.2h.9M404.7 294.7h.9M410.1 296.6h.9M406.1 297.6h.9M404.0 300.2h.9M409.9 301.1h.9M407.6 287.9h.9M410.7 301.2h.9M411.4 296.2h.9M410.9 292.6h.9M409.0 297.9h.9M406.1 288.9h.9M405.7 299.1h.9M409.2 292.2h.9M410.0 303.0h.9M410.1 288.6h.9M409.4 292.3h.9M406.4 287.9h.9M407.7 293.6h.9M408.6 295.8h.9M406.0 289.8h.9M407.5 302.3h.9M404.0 298.3h.9M407.6 291.3h.9M406.2 297.5h.9M404.9 303.5h.9M403.8 295.8h.9M404.9 292.9h.9M411.2 295.8h.9M408.9 293.7h.9M408.2 294.4h.9M404.6 303.7h.9M407.0 304.4h.9M410.8 303.5h.9M404.3 292.5h.9M412.1 295.3h.9M406.6 286.2h.9M407.3 295.1h.9M405.6 288.7h.9M407.6 298.6h.9M405.8 299.1h.9M405.0 294.7h.9M409.5 290.0h.9M406.6 298.1h.9M408.0 301.1h.9M410.6 290.8h.9M406.9 302.4h.9M411.3 294.7h.9M412.2 294.2h.9M405.2 298.2h.9M405.7 289.8h.9M409.6 289.7h.9M406.4 289.3h.9M409.1 291.1h.9M406.1 299.7h.9M410.4 298.9h.9M406.5 299.9h.9M406.0 303.3h.9M409.0 297.3h.9M407.7 300.0h.9M408.7 293.6h.9M407.2 298.8h.9M404.5 303.7h.9M409.5 292.4h.9M405.4 297.9h.9M405.2 290.7h.9M404.1 294.3h.9M410.2 291.9h.9M410.6 302.0h.9M411.4 297.0h.9M411.5 288.6h.9M409.7 291.2h.9M410.5 290.6h.9M405.0 292.2h.9M412.0 295.2h.9M406.7 289.2h.9M410.2 295.2h.9M405.2 296.1h.9M411.3 295.5h.9M408.6 299.6h.9M404.2 300.8h.9M413.0 296.0h.9M410.6 293.1h.9M408.1 294.1h.9M404.8 293.8h.9M404.6 296.2h.9M405.9 293.3h.9M405.3 293.4h.9M408.4 294.2h.9M404.3 302.1h.9M410.7 293.7h.9M403.8 293.2h.9M412.5 291.9h.9M408.5 289.9h.9M406.5 300.8h.9M408.4 295.1h.9M409.7 295.9h.9M411.2 292.7h.9M410.6 298.8h.9M411.1 297.4h.9M408.1 300.6h.9M403.9 287.6h.9M412.4 300.3h.9M414.0 290.5h.9M406.6 301.9h.9M404.9 297.2h.9M407.2 290.2h.9M407.7 295.3h.9M409.5 290.5h.9M404.7 294.0h.9M408.6 291.7h.9M406.1 297.2h.9M408.3 290.8h.9M405.9 298.8h.9M404.3 293.1h.9M407.3 303.9h.9M404.6 302.2h.9M409.2 299.9h.9M410.7 301.8h.9M408.6 287.9h.9M409.2 302.2h.9M407.4 299.1h.9M409.3 297.0h.9M413.3 291.2h.9M406.2 300.3h.9M410.9 293.3h.9M404.8 301.9h.9M405.2 289.4h.9M414.3 299.8h.9M410.3 293.4h.9M405.2 303.2h.9M405.5 293.3h.9M406.8 296.7h.9M409.2 299.6h.9M412.5 297.9h.9M408.2 293.2h.9M408.1 304.1h.9M405.2 287.9h.9M407.2 292.7h.9M404.3 298.0h.9M406.0 292.3h.9M411.1 295.5h.9M406.1 290.6h.9M405.7 300.5h.9M408.1 288.4h.9M406.1 304.1h.9M407.1 292.7h.9M406.5 287.9h.9M405.7 303.3h.9M410.5 301.1h.9M410.4 296.2h.9M407.9 294.1h.9M406.1 287.4h.9M411.5 292.6h.9M404.0 290.2h.9M411.8 293.7h.9M406.9 297.8h.9M405.3 295.1h.9M405.3 292.1h.9M409.9 288.9h.9M409.6 293.6h.9M407.5 289.3h.9M406.7 294.5h.9M408.5 299.8h.9M406.4 289.4h.9M404.8 305.0h.9M405.3 298.0h.9M408.0 304.3h.9M407.2 298.1h.9M412.4 292.1h.9M407.4 289.9h.9M408.8 300.6h.9M408.3 301.9h.9M410.8 298.3h.9M413.2 294.6h.9M408.0 302.5h.9M407.0 303.1h.9M406.4 301.1h.9M407.4 293.4h.9M407.0 292.5h.9M409.4 302.1h.9M404.0 290.6h.9M404.0 303.2h.9M406.5 294.2h.9M411.1 301.0h.9M407.4 301.8h.9M405.3 291.2h.9M404.7 300.8h.9M411.4 302.5h.9M410.6 299.5h.9M408.0 298.2h.9M407.9 294.5h.9M409.0 303.5h.9M403.8 295.1h.9M412.3 293.2h.9M406.6 297.6h.9M413.5 294.9h.9M409.5 296.3h.9M411.0 297.5h.9M408.3 298.4h.9M408.6 302.5h.9M405.0 297.8h.9M404.4 299.9h.9M408.0 301.0h.9M409.2 295.1h.9M411.9 292.8h.9M412.0 301.8h.9M410.1 295.8h.9M406.9 302.3h.9M408.0 290.1h.9M404.6 297.1h.9M409.1 290.4h.9M404.4 294.3h.9M406.9 298.2h.9M404.2 292.1h.9M412.0 293.2h.9M407.1 293.6h.9M412.5 292.4h.9M411.2 300.0h.9M412.0 300.9h.9M409.0 299.9h.9M406.4 292.0h.9M406.2 286.4h.9M408.9 293.4h.9M410.4 299.7h.9M404.9 288.7h.9M412.7 294.4h.9M407.4 296.2h.9M407.1 294.6h.9M410.1 295.0h.9M407.5 303.1h.9M411.7 295.0h.9M409.3 293.2h.9M407.7 286.6h.9M411.0 299.6h.9M404.6 288.9h.9M413.0 293.1h.9M404.8 301.8h.9M406.7 300.3h.9M408.6 290.0h.9M409.7 301.9h.9M407.2 300.3h.9M410.7 303.4h.9M407.5 292.2h.9M409.5 291.2h.9M407.8 302.8h.9M405.5 290.3h.9M405.5 297.2h.9M411.8 294.2h.9M407.9 292.6h.9M410.6 303.1h.9M405.0 296.9h.9M408.1 290.2h.9M411.0 297.1h.9M405.8 300.4h.9M408.3 287.4h.9M404.8 297.0h.9M411.0 297.5h.9M404.0 292.2h.9M404.1 293.9h.9M407.7 287.5h.9M413.9 301.4h.9M407.7 302.8h.9M406.3 300.9h.9M413.2 294.4h.9M412.1 292.6h.9M404.6 303.4h.9M403.8 301.4h.9M407.6 296.7h.9M408.4 301.9h.9M410.1 296.4h.9M409.7 301.5h.9M406.7 295.5h.9M413.2 292.5h.9M406.8 298.5h.9M410.3 300.2h.9M409.3 303.0h.9M407.9 290.8h.9M408.2 297.4h.9M409.7 298.0h.9M411.2 293.5h.9M404.5 296.3h.9M408.2 301.2h.9M409.7 301.1h.9M410.5 291.6h.9M407.2 289.4h.9M404.2 302.5h.9M406.5 297.9h.9M407.3 292.5h.9M409.6 303.7h.9M406.4 295.3h.9M405.7 295.2h.9M407.4 298.1h.9M410.0 290.0h.9M408.7 305.1h.9M411.7 298.3h.9M404.3 294.5h.9M405.3 289.4h.9M409.5 291.1h.9M407.3 299.5h.9M405.1 299.4h.9M409.1 300.5h.9M405.2 299.3h.9M407.8 294.4h.9M408.5 294.2h.9M410.4 292.6h.9M410.5 294.4h.9M408.6 298.9h.9M406.0 289.6h.9M408.0 299.9h.9M409.9 300.4h.9M406.4 295.5h.9M410.6 297.6h.9M409.4 297.0h.9M409.7 289.7h.9M405.5 295.6h.9M407.1 291.2h.9M404.9 294.4h.9" stroke="#202020" stroke-width="0.9" fill="none"/>
<text x="374.60" y="312.10" font-size="9" text-anchor="start" font-weight="normal" fill="#2a2a2a" stroke="#2a2a2a" stroke-width="0.18" textLength="24.40" lengthAdjust="spacingAndGlyphs" transform="rotate(-90 374.60 312.10)">CXCR4</text>
<rect x="443.80" y="275.60" width="53.20" height="46.40" fill="none" stroke="#4a4a4a" stroke-width="1.0"/>
<line x1="443.80" y1="322.00" x2="497.00" y2="322.00" stroke="#2a2a2a" stroke-width="1.2"/>
<line x1="443.80" y1="275.60" x2="443.80" y2="322.00" stroke="#2a2a2a" stroke-width="1.2"/>
<line x1="469.20" y1="275.60" x2="469.20" y2="322.00" stroke="#666" stroke-width="0.9"/>
<line x1="443.80" y1="305.40" x2="497.00" y2="305.40" stroke="#666" stroke-width="0.9"/>
<path d="M466.7 297.8h.9M477.5 277.6h.9M467.5 288.9h.9M483.1 298.6h.9M481.8 306.8h.9M474.3 290.1h.9M461.3 286.0h.9M481.3 287.5h.9M469.5 301.3h.9M456.5 304.7h.9M487.2 280.2h.9M480.5 293.9h.9M484.1 291.4h.9M475.7 304.8h.9M471.8 297.2h.9M481.8 293.1h.9M483.8 298.0h.9M483.5 280.9h.9M468.2 296.2h.9M486.2 305.0h.9M476.8 288.2h.9M467.7 279.0h.9M472.6 298.4h.9M476.1 282.6h.9M475.9 294.4h.9M470.6 305.2h.9M480.3 302.4h.9M477.5 286.5h.9M485.5 302.5h.9M471.9 283.7h.9M483.3 289.6h.9M467.2 293.3h.9M481.2 288.2h.9M477.0 301.6h.9M482.8 282.0h.9" stroke="#b0b0b0" stroke-width="0.9" fill="none"/>
<path d="M476.5 304.6h.9M477.6 293.4h.9M474.6 284.5h.9M469.4 290.8h.9M483.9 294.0h.9M467.3 304.1h.9M479.3 284.0h.9M471.5 283.8h.9M478.3 280.3h.9M482.7 287.6h.9M466.9 306.7h.9M475.5 296.1h.9M477.3 288.0h.9M477.4 292.3h.9M475.5 295.4h.9M480.1 286.2h.9M465.1 297.9h.9M485.5 297.2h.9M471.7 298.0h.9M466.1 294.5h.9M463.5 294.7h.9M476.6 304.2h.9M469.9 299.6h.9M479.9 287.7h.9M471.1 282.8h.9M467.9 296.6h.9M461.6 292.2h.9M476.5 302.6h.9M459.1 296.3h.9M469.3 280.1h.9M467.1 297.5h.9M472.5 298.2h.9M471.0 297.9h.9M467.3 288.1h.9M471.7 283.4h.9M479.3 292.5h.9M467.3 288.8h.9M467.4 294.7h.9M470.6 299.2h.9M466.4 293.5h.9M464.4 291.2h.9M480.0 293.2h.9M477.4 293.6h.9M466.7 288.6h.9M466.5 296.0h.9M473.9 311.7h.9M481.7 299.1h.9M467.3 294.7h.9M467.7 308.2h.9M468.7 301.0h.9M465.3 298.6h.9M466.0 291.1h.9M473.5 294.8h.9M472.3 293.6h.9M467.9 293.3h.9M472.2 288.3h.9M475.7 295.0h.9M468.5 301.8h.9M469.5 282.5h.9M479.4 291.7h.9M480.5 296.6h.9M467.8 300.7h.9M475.1 299.6h.9M472.8 303.4h.9M477.6 291.9h.9M464.4 293.7h.9M473.0 288.0h.9M471.6 303.0h.9M470.0 300.8h.9M467.5 288.1h.9M477.7 292.9h.9M473.8 300.2h.9M481.4 286.5h.9M475.8 295.3h.9M473.4 304.8h.9M471.3 290.4h.9M475.3 281.7h.9M474.6 288.5h.9M474.4 289.5h.9M475.3 292.5h.9M468.7 297.2h.9M476.6 284.2h.9M465.6 292.4h.9M470.5 302.0h.9M481.2 296.8h.9M478.5 292.0h.9M465.2 295.8h.9M463.1 303.9h.9M474.0 301.0h.9M469.1 284.1h.9M471.5 296.9h.9M471.4 290.9h.9M473.0 292.8h.9M480.1 286.0h.9M460.6 293.4h.9M474.0 284.6h.9M472.4 296.6h.9M474.4 295.8h.9M468.5 285.2h.9M477.7 291.8h.9M465.1 303.4h.9M476.6 276.9h.9M486.6 294.8h.9M463.8 299.8h.9M474.4 301.5h.9M472.6 283.8h.9M471.7 291.3h.9M474.1 292.8h.9M475.6 286.5h.9M469.6 290.8h.9M474.8 283.6h.9M472.6 308.4h.9M462.8 300.2h.9M473.1 300.0h.9M472.9 295.5h.9M474.5 296.7h.9M466.0 293.1h.9M482.5 302.6h.9M468.0 288.2h.9M471.6 300.4h.9M477.5 290.4h.9M459.7 293.6h.9M463.6 301.2h.9M480.6 298.0h.9M475.8 297.4h.9M482.5 300.6h.9M480.4 286.9h.9M469.7 293.9h.9M460.5 292.2h.9M472.4 293.5h.9M486.3 292.7h.9M471.5 293.2h.9M470.7 285.3h.9M478.6 294.1h.9M474.5 294.1h.9M468.3 284.2h.9M471.0 297.2h.9M471.9 298.4h.9M468.3 292.1h.9M473.4 293.3h.9M473.5 302.7h.9M470.3 294.7h.9M469.0 297.2h.9M473.8 289.4h.9M467.1 286.6h.9M471.0 294.9h.9M469.9 293.2h.9M473.3 308.2h.9M478.9 308.1h.9M473.3 295.2h.9M483.1 296.2h.9M476.1 290.8h.9M469.6 298.7h.9M469.3 289.9h.9M464.4 295.7h.9M472.0 297.2h.9M467.8 286.4h.9M478.5 294.1h.9M476.8 286.9h.9M465.5 278.5h.9" stroke="#909090" stroke-width="0.9" fill="none"/>
<path d="M468.3 293.7h.9M466.2 296.0h.9M464.4 294.3h.9M466.6 300.3h.9M465.4 294.5h.9M468.7 289.5h.9M465.9 293.4h.9M469.1 291.5h.9M466.2 301.3h.9M468.3 301.8h.9M468.7 291.7h.9M469.1 285.5h.9M466.1 296.7h.9M468.2 286.4h.9M466.9 295.9h.9M466.3 295.5h.9M469.1 292.7h.9M467.7 302.1h.9M468.7 291.3h.9M466.5 287.8h.9M467.5 287.3h.9M469.2 290.1h.9M469.1 296.2h.9M467.3 298.0h.9M467.5 285.9h.9M465.0 290.8h.9M466.6 287.2h.9M465.9 290.2h.9M468.1 285.7h.9M463.3 293.9h.9M468.3 291.4h.9M467.7 290.6h.9M466.7 291.5h.9M466.4 292.0h.9M463.9 293.5h.9M465.8 298.9h.9M468.3 293.2h.9M467.0 294.7h.9M468.4 286.1h.9M465.3 298.7h.9M468.7 284.5h.9M468.6 297.7h.9M467.5 284.7h.9M468.2 298.7h.9M466.3 286.4h.9M466.0 287.8h.9M467.3 292.8h.9M466.7 300.0h.9M467.7 299.9h.9M469.1 287.5h.9M467.7 293.3h.9M468.1 293.1h.9M467.9 293.3h.9M469.2 289.3h.9M467.0 285.2h.9M464.6 294.4h.9M468.6 294.4h.9M466.0 292.3h.9M468.4 291.1h.9M466.6 295.7h.9M467.6 293.4h.9M463.2 289.5h.9M466.1 286.8h.9M469.1 302.6h.9M468.9 292.0h.9M463.7 296.6h.9M469.1 300.0h.9M468.8 300.7h.9M467.7 292.4h.9M466.8 289.5h.9M465.2 292.6h.9M467.6 288.0h.9M466.7 297.5h.9M464.6 298.5h.9M467.8 299.8h.9M468.1 289.1h.9M468.0 296.8h.9M466.8 289.4h.9M466.2 296.4h.9M466.8 289.1h.9M469.0 293.8h.9M465.5 294.0h.9M469.0 304.0h.9M464.5 293.6h.9M467.7 296.9h.9M467.3 298.5h.9M466.2 292.1h.9M467.8 286.8h.9M468.3 302.0h.9M468.1 299.2h.9M468.6 289.0h.9M468.3 289.9h.9M468.8 296.2h.9M467.6 298.5h.9M468.5 294.2h.9M469.1 292.1h.9M468.6 289.0h.9M469.1 294.7h.9M468.7 302.4h.9M468.7 296.8h.9M464.1 292.5h.9M467.8 293.8h.9M466.5 292.9h.9M464.5 292.7h.9M467.6 299.3h.9M468.2 296.6h.9M468.4 294.5h.9M467.3 290.7h.9M466.7 288.3h.9M464.7 300.8h.9M466.0 288.7h.9M466.7 295.1h.9M469.1 294.2h.9M468.7 290.8h.9M468.2 296.8h.9M466.4 292.8h.9M468.5 297.5h.9M466.0 292.3h.9M468.5 291.2h.9M466.8 299.7h.9M467.9 292.4h.9M465.2 289.4h.9M468.6 299.0h.9M464.1 298.9h.9M469.0 288.2h.9M468.5 302.0h.9M469.1 286.6h.9M467.6 291.0h.9M467.8 298.9h.9M464.6 292.1h.9M469.1 292.6h.9M467.8 299.0h.9M468.3 291.1h.9M465.1 291.2h.9M467.9 296.3h.9M464.5 298.6h.9M468.1 299.4h.9M465.1 292.6h.9M465.7 293.2h.9M466.3 298.9h.9M466.2 287.3h.9M466.8 295.4h.9M464.7 295.0h.9M467.3 296.1h.9M465.6 287.8h.9M463.6 290.3h.9M467.6 301.9h.9M468.5 293.5h.9M468.6 290.3h.9M467.8 290.8h.9M467.9 297.3h.9M467.0 299.1h.9M468.2 289.7h.9M467.0 289.8h.9M467.1 288.8h.9M466.9 293.2h.9M467.3 288.7h.9M464.3 297.3h.9M467.1 300.5h.9M467.1 288.3h.9M466.7 300.2h.9M465.2 294.2h.9M468.1 290.9h.9M468.0 290.2h.9M468.9 301.1h.9M466.8 292.1h.9M461.4 295.0h.9M466.2 285.5h.9M468.2 291.6h.9M468.7 297.1h.9M466.0 298.4h.9M467.8 294.4h.9M467.7 301.1h.9M468.2 300.2h.9M466.5 292.4h.9M469.2 288.3h.9M468.9 284.5h.9M466.7 293.4h.9M464.8 294.4h.9M466.7 295.1h.9M468.8 289.8h.9M465.1 297.5h.9M465.1 298.3h.9M468.7 293.0h.9M468.0 302.9h.9M463.1 291.4h.9M467.5 295.4h.9M466.0 295.9h.9M462.5 295.3h.9M467.0 296.3h.9M468.9 296.8h.9M463.8 293.3h.9M468.8 285.1h.9M469.1 296.1h.9M465.0 291.7h.9M467.6 300.3h.9M467.8 297.8h.9M465.2 289.2h.9M464.8 286.6h.9M465.5 288.1h.9M464.9 296.1h.9M469.0 285.5h.9M466.4 293.4h.9M468.7 296.8h.9M468.3 284.8h.9M466.7 293.7h.9M466.4 298.9h.9M467.1 289.9h.9M466.6 289.8h.9M468.8 293.5h.9M468.0 294.1h.9M468.1 301.5h.9M468.3 301.5h.9M468.9 296.2h.9M464.9 286.8h.9M464.3 298.9h.9M466.4 294.1h.9M466.3 290.9h.9M468.6 292.7h.9M467.6 290.2h.9M466.9 294.7h.9M468.6 294.4h.9M464.2 293.9h.9M467.3 294.7h.9M468.4 299.9h.9M466.4 297.2h.9M467.4 293.2h.9M468.6 286.1h.9M467.6 286.7h.9M467.0 287.3h.9M466.7 295.2h.9M469.1 288.6h.9M468.9 289.5h.9M468.6 286.1h.9M464.6 290.8h.9M464.5 291.8h.9M468.3 296.0h.9M466.6 297.6h.9M468.2 291.5h.9M465.4 286.9h.9M468.1 295.8h.9M466.7 289.7h.9M467.6 296.4h.9M465.9 288.5h.9M464.6 295.4h.9M464.6 295.6h.9M466.0 294.8h.9M467.3 301.3h.9M467.6 290.7h.9M465.6 298.3h.9M467.6 286.6h.9M464.8 295.6h.9M463.8 292.1h.9M467.3 299.6h.9M468.9 295.0h.9M466.6 285.7h.9M467.8 297.9h.9M464.5 299.2h.9M464.2 293.1h.9M468.6 302.3h.9M466.3 289.1h.9M468.4 300.0h.9M466.7 298.4h.9M468.0 291.8h.9M465.0 289.3h.9M466.1 285.5h.9M468.2 293.1h.9M468.7 302.1h.9M464.9 293.8h.9M465.5 298.7h.9M468.1 291.3h.9M465.0 295.4h.9M467.6 295.2h.9M468.0 294.4h.9M465.6 297.3h.9M468.9 296.8h.9M467.9 289.1h.9M468.0 291.2h.9M468.7 290.9h.9M465.5 297.8h.9M464.4 289.5h.9M465.7 287.7h.9M464.9 292.2h.9M466.4 289.9h.9M467.5 285.1h.9M468.7 287.4h.9M467.6 295.8h.9M467.0 291.4h.9M467.3 294.5h.9M466.5 294.6h.9M468.6 298.9h.9M464.1 295.6h.9M465.2 291.5h.9M466.9 287.4h.9M466.8 286.6h.9M465.0 296.1h.9M467.2 288.0h.9M468.3 295.9h.9M466.7 295.8h.9M465.6 300.8h.9M466.7 298.9h.9M465.6 290.7h.9M466.7 303.5h.9M468.8 297.2h.9M465.0 299.8h.9M463.8 293.9h.9M466.6 292.8h.9M464.8 295.2h.9M467.5 296.7h.9M467.9 301.1h.9M467.2 297.0h.9M468.0 287.3h.9M469.1 293.2h.9M465.9 285.7h.9M465.8 295.7h.9M466.8 288.0h.9M468.8 294.9h.9M466.8 287.0h.9M463.4 295.9h.9M467.2 288.3h.9M468.4 285.4h.9M465.9 292.1h.9M466.5 292.6h.9M464.9 294.1h.9M469.1 298.8h.9M466.2 293.6h.9M465.4 293.6h.9M467.1 292.1h.9M463.4 294.9h.9M468.8 295.7h.9M469.1 293.7h.9M468.7 303.0h.9M466.4 288.2h.9M466.2 301.3h.9M467.0 296.4h.9M465.8 293.7h.9M466.3 289.1h.9M468.3 292.9h.9M466.5 296.0h.9M466.0 286.9h.9M465.4 300.4h.9M467.6 297.5h.9M464.6 288.2h.9M466.6 292.1h.9M468.7 301.0h.9M464.1 289.9h.9M467.9 296.4h.9M465.3 295.5h.9M467.7 301.4h.9M467.6 286.4h.9M468.9 296.6h.9M467.7 289.5h.9M467.9 302.4h.9M464.6 287.5h.9M468.0 292.1h.9M468.1 295.2h.9M466.6 288.1h.9M467.8 300.0h.9M467.4 286.0h.9M465.8 298.4h.9M465.7 297.1h.9M469.0 299.6h.9M465.2 301.0h.9M468.4 286.5h.9M465.4 287.7h.9M464.4 291.7h.9M467.5 292.1h.9M467.5 293.8h.9M464.9 299.0h.9M465.0 292.3h.9M466.7 292.5h.9M465.0 291.8h.9M466.1 295.8h.9M468.2 298.6h.9M469.1 298.3h.9M464.9 300.1h.9M465.1 291.1h.9M466.1 291.4h.9M468.5 286.5h.9M466.1 298.7h.9M467.7 293.5h.9M468.7 299.6h.9M465.1 295.5h.9M464.6 290.2h.9M465.9 291.2h.9M467.9 289.9h.9M465.6 288.6h.9M467.2 296.6h.9M468.6 287.6h.9M469.1 292.6h.9M469.2 299.4h.9M468.1 289.0h.9M466.6 296.4h.9M466.5 296.3h.9M464.8 297.3h.9M468.4 297.8h.9M464.9 295.0h.9M467.9 297.1h.9M465.3 293.0h.9M464.5 298.6h.9M467.3 294.7h.9M466.6 297.5h.9M465.2 291.8h.9M464.2 296.9h.9M467.8 300.9h.9M469.2 298.3h.9M467.2 300.3h.9M468.3 300.8h.9M466.6 301.8h.9M466.6 300.4h.9M468.6 288.9h.9M467.7 297.7h.9M468.5 293.6h.9M464.6 297.7h.9M465.0 298.5h.9M465.7 290.3h.9M466.2 291.9h.9M469.0 300.6h.9M467.9 285.3h.9M467.6 301.8h.9M466.9 299.1h.9M465.3 287.8h.9M468.0 286.6h.9M465.1 294.3h.9M466.2 298.3h.9M468.9 293.6h.9M467.6 299.4h.9M467.8 296.1h.9M467.8 299.2h.9M468.6 291.0h.9M466.0 293.9h.9M468.9 293.8h.9M466.8 291.4h.9M466.9 297.6h.9" stroke="#808080" stroke-width="0.9" fill="none"/>
<path d="M472.3 299.9h.9M473.2 289.7h.9M475.7 288.0h.9M473.0 286.5h.9M472.7 299.9h.9M475.3 294.7h.9M475.7 291.7h.9M479.0 291.8h.9M474.4 301.5h.9M473.4 292.6h.9M471.9 294.3h.9M474.7 290.9h.9M476.3 296.7h.9M473.8 288.0h.9M477.5 290.4h.9M476.7 302.5h.9M475.3 292.4h.9M469.4 294.8h.9M474.9 288.4h.9M475.0 296.2h.9M475.4 296.0h.9M475.7 286.5h.9M471.8 293.0h.9M475.1 286.1h.9M477.8 292.5h.9M477.5 294.8h.9M471.0 289.6h.9M470.1 300.1h.9M472.0 290.3h.9M470.9 287.5h.9M473.3 293.5h.9M473.9 297.1h.9M479.3 296.0h.9M474.3 293.8h.9M472.3 299.3h.9M475.8 291.0h.9M477.0 302.1h.9M472.7 300.3h.9M476.4 286.8h.9M474.2 291.4h.9M475.8 290.6h.9M476.6 287.9h.9M470.5 301.4h.9M471.4 284.8h.9M472.0 288.2h.9M475.7 299.7h.9M476.4 292.7h.9M469.7 286.0h.9M472.2 286.1h.9M475.5 289.0h.9M471.5 293.7h.9M479.1 296.5h.9M476.4 291.1h.9M473.6 296.8h.9M469.6 292.8h.9M475.8 290.6h.9M474.8 293.8h.9M476.4 298.4h.9M475.7 291.4h.9M469.4 300.0h.9M471.6 298.5h.9M478.4 298.2h.9M471.9 300.7h.9M477.2 289.1h.9M470.3 285.3h.9M469.2 295.2h.9M477.5 291.3h.9M473.4 291.8h.9M471.0 286.9h.9M474.9 294.3h.9M476.7 295.1h.9M478.9 292.9h.9M470.6 294.9h.9M472.8 298.1h.9M474.4 290.8h.9M471.7 295.3h.9M472.2 292.9h.9M477.4 289.5h.9M472.9 298.1h.9M476.0 287.4h.9M478.0 287.7h.9M476.1 298.2h.9M480.1 295.6h.9M475.8 302.8h.9M472.5 291.5h.9M476.7 286.5h.9M474.5 300.5h.9M474.6 294.4h.9M469.5 288.5h.9M473.8 289.2h.9M470.0 287.8h.9M476.5 299.1h.9M470.8 293.8h.9M478.6 299.4h.9M471.8 286.7h.9M470.3 291.9h.9M470.9 295.7h.9M469.7 297.3h.9M475.7 292.5h.9M478.0 296.5h.9M471.1 288.8h.9M477.4 298.3h.9M474.5 285.8h.9M475.8 293.7h.9M478.1 299.4h.9M475.7 283.7h.9M475.7 289.4h.9M470.9 300.3h.9M472.1 285.8h.9M478.3 299.7h.9M473.1 295.3h.9M476.4 293.6h.9M470.9 294.9h.9M472.9 298.8h.9M476.5 298.0h.9M472.4 295.1h.9M469.8 294.0h.9M472.1 294.9h.9M473.1 291.8h.9M473.6 290.8h.9M470.8 287.9h.9M471.8 296.7h.9M469.4 285.4h.9M476.0 291.7h.9M472.6 296.7h.9M477.9 291.2h.9M470.9 301.8h.9M476.3 295.4h.9M469.2 286.7h.9M476.4 291.5h.9M479.7 289.5h.9M476.2 297.7h.9M471.8 288.4h.9M475.9 296.5h.9M474.6 286.2h.9M475.0 301.9h.9M472.8 303.1h.9M474.3 287.9h.9M471.6 303.6h.9M475.1 299.3h.9M474.8 299.2h.9M470.4 296.9h.9M470.5 298.7h.9M469.5 298.2h.9M469.3 294.5h.9M474.6 287.8h.9M473.9 301.6h.9M476.8 288.7h.9M475.7 299.4h.9M477.6 290.3h.9M471.9 288.3h.9M475.8 300.0h.9M478.7 287.9h.9M472.8 284.5h.9M471.6 300.7h.9M477.0 298.3h.9M472.4 300.0h.9M470.7 296.1h.9M476.7 295.6h.9M469.7 295.1h.9M477.2 287.9h.9M472.7 297.1h.9M469.6 297.8h.9M476.1 289.2h.9M476.2 296.5h.9M472.0 285.9h.9M477.8 293.6h.9M476.6 293.6h.9M475.2 292.9h.9M476.0 290.7h.9M475.1 296.4h.9M479.8 295.8h.9M477.3 291.3h.9M469.3 293.9h.9M473.0 295.2h.9M469.5 299.4h.9M472.5 291.3h.9M478.0 294.9h.9M473.1 292.4h.9M474.7 300.5h.9M470.1 289.0h.9M469.6 299.0h.9M471.7 287.5h.9M470.0 290.5h.9M476.9 287.5h.9M474.7 287.4h.9M474.4 296.7h.9M470.1 287.5h.9M470.5 299.0h.9M477.7 292.3h.9M469.8 297.7h.9M471.8 296.3h.9M477.7 287.7h.9M471.1 292.9h.9M474.8 295.9h.9M477.6 290.9h.9M474.2 295.4h.9M478.6 293.1h.9M469.8 288.6h.9M470.4 295.5h.9M471.7 284.6h.9M476.2 294.0h.9M478.4 298.7h.9M472.9 295.6h.9M474.0 289.8h.9M471.6 293.3h.9M475.8 295.2h.9M469.7 285.5h.9M471.2 288.7h.9M476.2 295.7h.9M473.1 295.0h.9M473.1 297.7h.9M471.9 301.3h.9M474.6 301.0h.9M469.9 286.9h.9M475.3 290.2h.9M470.3 288.5h.9M470.0 299.4h.9M477.5 288.3h.9M472.8 288.7h.9M469.6 294.7h.9M475.8 286.9h.9M478.9 293.5h.9M477.8 294.5h.9M471.0 300.5h.9M475.0 298.3h.9M476.7 294.6h.9M477.5 300.3h.9M470.4 284.6h.9M476.9 299.1h.9M475.4 297.5h.9M475.9 297.0h.9M474.4 286.1h.9M470.6 301.5h.9M469.7 295.5h.9M475.0 285.8h.9M471.7 295.0h.9M472.3 297.5h.9M470.4 291.5h.9M478.2 299.0h.9M469.2 286.6h.9M474.8 301.1h.9M475.9 295.2h.9M471.8 297.4h.9M475.5 290.5h.9M470.1 294.2h.9M470.6 296.6h.9M469.7 301.8h.9M471.7 288.9h.9M474.3 297.2h.9M471.3 291.4h.9M474.0 284.9h.9M473.5 291.0h.9M474.9 298.1h.9M469.9 293.5h.9M469.7 290.4h.9M477.3 286.9h.9M471.1 299.6h.9M472.2 290.7h.9M469.3 290.6h.9M470.0 288.7h.9M471.5 303.3h.9M469.7 289.1h.9M478.4 292.5h.9M473.6 302.1h.9M475.4 286.5h.9M477.7 298.7h.9M476.4 291.2h.9M470.8 301.1h.9M473.7 291.8h.9M471.1 298.2h.9M471.0 300.7h.9M474.6 287.7h.9M472.3 295.5h.9M472.5 286.6h.9M470.4 298.2h.9M472.3 287.1h.9M480.0 289.6h.9M477.0 292.9h.9M472.0 294.4h.9M476.3 294.8h.9M469.7 301.4h.9M472.7 302.1h.9M469.8 293.2h.9M476.9 292.3h.9M469.3 285.7h.9M474.2 290.7h.9M474.7 293.2h.9M472.8 297.8h.9M470.8 301.8h.9M476.8 298.5h.9M477.4 289.0h.9M474.2 298.5h.9M469.3 302.8h.9M469.4 285.4h.9M476.3 294.9h.9M476.7 289.4h.9M473.0 290.6h.9M473.0 293.0h.9M472.3 290.4h.9M476.2 294.7h.9M473.6 300.3h.9M472.1 290.4h.9M474.2 292.5h.9M476.3 290.5h.9M477.1 289.1h.9M474.4 283.4h.9M477.6 298.1h.9M478.8 291.5h.9M475.6 297.2h.9M469.8 291.3h.9M472.5 298.9h.9M470.2 300.6h.9M475.6 286.7h.9M475.0 284.8h.9M473.3 286.1h.9M479.0 289.3h.9M473.8 295.8h.9M474.6 296.6h.9M475.4 287.8h.9M475.0 300.1h.9M476.4 296.8h.9M478.0 292.5h.9M469.8 296.9h.9M469.6 299.6h.9M470.4 299.8h.9M472.9 302.2h.9M472.1 288.7h.9M473.4 288.1h.9M475.6 296.0h.9M477.0 294.7h.9M473.8 294.9h.9M470.4 294.8h.9M476.9 300.0h.9M470.3 298.5h.9M474.9 292.3h.9M471.6 288.6h.9M472.3 286.9h.9M472.2 290.9h.9M470.9 302.5h.9M476.7 292.4h.9M472.0 295.8h.9M471.3 297.1h.9M472.0 298.7h.9M476.2 289.8h.9M476.5 292.5h.9M470.0 286.0h.9M476.9 286.9h.9M476.9 288.4h.9M474.0 299.9h.9M472.1 298.3h.9M472.4 286.2h.9M475.7 291.3h.9M471.2 286.8h.9M472.7 287.8h.9M469.4 285.3h.9M474.1 286.8h.9M473.1 288.9h.9M471.1 300.0h.9M475.2 290.2h.9M474.6 300.2h.9M474.4 287.4h.9M478.2 295.5h.9M472.6 299.7h.9M469.9 297.2h.9M475.9 297.4h.9M469.4 287.9h.9M471.6 293.8h.9M472.8 300.1h.9M474.4 300.3h.9M474.8 286.5h.9M471.2 287.5h.9M479.0 295.2h.9M472.0 293.2h.9M474.5 293.9h.9M475.2 286.2h.9M471.9 287.7h.9M473.7 295.0h.9M474.8 287.9h.9M477.0 285.8h.9M478.3 292.8h.9M472.9 301.3h.9M478.5 292.0h.9M477.9 293.0h.9M477.0 290.7h.9M473.4 294.3h.9M472.6 288.1h.9M474.5 300.0h.9M472.3 289.3h.9M471.5 288.1h.9M470.3 294.9h.9M475.7 294.7h.9M470.3 292.6h.9M469.9 298.7h.9M469.4 302.6h.9M475.3 290.1h.9M479.8 293.9h.9M470.5 295.7h.9M472.0 301.4h.9M471.1 297.5h.9M470.1 287.7h.9M476.0 288.0h.9M475.6 298.4h.9M478.9 291.1h.9M476.5 301.7h.9M473.6 283.3h.9M478.9 297.2h.9M473.3 296.2h.9M474.6 287.3h.9M471.3 302.4h.9M469.3 296.7h.9M474.5 290.3h.9M475.9 291.2h.9M471.2 304.0h.9M472.0 301.1h.9M475.2 294.2h.9M471.8 288.0h.9M476.7 291.3h.9M469.7 303.4h.9M474.4 299.0h.9M471.5 297.8h.9M473.9 297.8h.9M471.2 285.6h.9M474.9 298.3h.9M474.6 286.6h.9M473.7 303.2h.9M470.1 288.5h.9M476.7 294.0h.9M478.6 289.8h.9M475.2 300.4h.9M472.1 287.0h.9M469.7 292.5h.9M470.9 287.3h.9M474.6 291.0h.9M473.6 298.0h.9M469.7 285.8h.9M477.4 297.7h.9M474.6 296.2h.9M471.0 299.0h.9M474.1 287.1h.9M473.9 294.0h.9M469.2 297.0h.9M469.4 292.8h.9M470.8 295.7h.9M479.0 297.5h.9M473.1 286.5h.9M471.3 288.9h.9M477.3 293.6h.9M471.2 295.4h.9M475.8 295.8h.9M471.0 298.3h.9M476.2 301.1h.9M479.0 287.6h.9M474.0 298.9h.9M474.0 292.1h.9M475.3 297.8h.9M474.8 297.5h.9M473.0 298.6h.9M469.7 286.5h.9M478.3 296.5h.9M477.1 298.2h.9M472.7 302.1h.9M474.7 300.5h.9M477.3 290.4h.9M475.2 290.3h.9M475.0 287.1h.9M476.1 297.5h.9M471.2 287.0h.9M470.2 290.9h.9M471.2 304.1h.9M475.5 292.0h.9M473.9 297.5h.9M471.6 298.8h.9M476.4 302.2h.9M473.5 299.9h.9M478.3 295.9h.9M476.9 297.3h.9M477.2 288.3h.9M475.9 298.6h.9M475.2 301.1h.9M479.6 295.1h.9M476.8 286.8h.9M469.6 291.3h.9M479.5 293.7h.9M477.5 288.7h.9M472.0 295.9h.9M474.6 291.7h.9M475.3 298.6h.9M469.9 299.0h.9M475.9 288.5h.9M477.0 293.9h.9M471.3 286.5h.9M471.4 298.3h.9M471.4 292.2h.9M474.0 290.0h.9M473.9 299.9h.9M471.4 299.4h.9M469.7 287.3h.9M475.4 296.1h.9M472.2 288.9h.9M477.9 290.6h.9M473.3 289.2h.9M476.9 294.1h.9M480.6 294.0h.9M470.4 299.8h.9M472.9 291.0h.9M473.4 300.2h.9M469.8 289.0h.9M469.7 291.9h.9M474.5 286.5h.9M475.4 288.1h.9M471.4 300.1h.9M469.3 295.7h.9M469.9 296.6h.9M473.6 299.3h.9M475.8 298.5h.9M469.6 300.7h.9M469.3 288.3h.9M471.0 291.8h.9M470.7 290.1h.9M472.5 301.9h.9M477.4 288.6h.9M473.0 284.8h.9M474.7 289.1h.9M477.6 288.7h.9M473.3 294.9h.9M477.7 294.6h.9M475.0 300.0h.9M469.7 301.0h.9M470.8 285.2h.9M470.0 299.8h.9M470.7 301.8h.9M477.1 293.4h.9M476.2 301.7h.9M477.5 288.5h.9M471.5 298.4h.9M476.0 295.3h.9M472.7 292.5h.9M478.0 287.4h.9M476.8 296.7h.9M471.6 296.1h.9M472.6 290.3h.9M474.7 286.1h.9M469.8 300.6h.9M476.0 297.4h.9M473.8 297.7h.9M473.1 304.5h.9M473.5 302.6h.9M475.0 285.7h.9M472.6 301.7h.9M472.1 292.6h.9M479.0 290.7h.9M476.0 299.6h.9M471.5 290.7h.9M476.0 297.4h.9M477.0 291.5h.9M475.2 292.2h.9M476.2 290.4h.9M472.3 289.2h.9M471.0 287.1h.9M475.9 290.3h.9M472.2 298.8h.9M477.0 295.0h.9M469.6 291.6h.9M470.7 290.6h.9M470.3 304.6h.9M472.3 301.3h.9M476.5 288.6h.9M473.7 298.2h.9M474.2 295.3h.9M473.0 296.7h.9M472.4 301.1h.9M474.5 299.6h.9M469.6 289.1h.9M472.3 301.5h.9M477.9 286.9h.9M473.8 286.5h.9M470.2 301.5h.9M469.6 286.0h.9M471.5 299.6h.9M472.3 294.8h.9M476.0 290.8h.9M472.8 297.7h.9M470.8 285.8h.9M470.2 303.1h.9M477.5 288.2h.9M477.7 287.7h.9M477.7 294.3h.9M472.7 287.6h.9M474.7 285.4h.9M476.7 294.1h.9M470.4 296.4h.9M473.2 299.4h.9M473.4 298.6h.9M469.8 286.8h.9M475.2 288.2h.9M477.1 292.4h.9M474.9 294.4h.9M470.8 290.7h.9M471.7 292.8h.9M470.5 288.5h.9M469.7 296.8h.9M476.3 285.5h.9M471.8 293.1h.9M474.2 286.1h.9M469.3 288.7h.9M476.8 300.6h.9M469.9 287.0h.9M469.9 285.9h.9M478.0 294.0h.9M470.1 292.3h.9M474.6 291.7h.9M472.6 285.2h.9M471.7 288.0h.9M471.6 298.0h.9M474.8 287.4h.9M474.2 292.2h.9M474.8 301.0h.9M471.9 299.0h.9M476.9 293.5h.9M479.5 292.5h.9M474.3 293.9h.9M469.8 290.5h.9M475.8 295.4h.9M469.3 288.1h.9M476.5 298.1h.9M475.3 301.4h.9M470.5 291.5h.9M471.3 284.3h.9M474.4 285.6h.9M470.3 288.4h.9M469.2 287.2h.9M469.6 302.0h.9M470.8 292.3h.9M479.4 289.6h.9M472.9 292.5h.9M475.2 288.3h.9M473.5 287.2h.9M478.9 296.2h.9M470.1 285.4h.9M470.0 285.7h.9M475.5 296.9h.9M472.5 297.3h.9M470.6 288.7h.9M474.8 299.0h.9M472.9 289.8h.9M473.4 299.7h.9M476.8 289.1h.9M469.3 296.2h.9M472.4 288.6h.9M475.7 300.7h.9M476.4 293.8h.9M469.7 295.0h.9M475.5 295.3h.9M469.9 293.3h.9M470.0 289.1h.9M471.7 299.2h.9M473.4 287.6h.9M476.5 287.9h.9M472.5 289.8h.9M474.8 291.7h.9M473.6 285.3h.9M474.6 286.2h.9M478.9 288.8h.9M471.2 291.6h.9M470.6 301.9h.9M475.5 286.9h.9M471.8 290.4h.9M473.1 287.4h.9M469.2 295.5h.9M476.9 298.8h.9M477.4 290.2h.9M472.0 300.5h.9M475.5 297.4h.9M475.4 290.0h.9M469.4 285.3h.9M475.2 300.1h.9M473.0 300.9h.9M472.7 289.5h.9M472.6 289.9h.9M471.9 294.5h.9M472.9 286.8h.9M480.1 292.8h.9M471.9 299.0h.9M471.1 292.2h.9M473.1 288.1h.9M475.4 295.1h.9M478.2 289.4h.9M473.7 290.3h.9M469.4 291.6h.9M470.7 290.5h.9M470.7 291.9h.9M477.3 293.2h.9M478.6 297.3h.9M470.3 296.4h.9M473.0 292.8h.9M472.8 299.3h.9M473.5 290.2h.9M475.8 297.9h.9M471.6 287.6h.9M476.5 294.0h.9M475.7 297.4h.9M469.5 302.4h.9M470.1 293.9h.9M472.8 299.2h.9M473.4 300.3h.9M470.5 300.3h.9M469.5 287.4h.9M476.3 299.8h.9M471.9 291.6h.9M475.4 297.3h.9M476.2 296.5h.9M469.7 292.1h.9M474.3 295.0h.9M477.5 296.1h.9M473.5 296.1h.9M471.9 291.3h.9M474.7 284.0h.9M479.8 293.1h.9M469.7 299.4h.9M471.5 302.0h.9M471.0 289.1h.9M471.7 296.0h.9M479.1 296.8h.9M469.6 295.5h.9M473.1 296.7h.9M473.0 296.8h.9M471.7 295.3h.9M472.8 290.7h.9M470.5 288.8h.9M478.4 298.3h.9M473.2 287.4h.9M474.4 293.7h.9M474.5 287.7h.9M469.8 294.3h.9M474.6 286.5h.9M472.8 291.9h.9M477.0 294.3h.9M469.6 298.3h.9M478.0 299.4h.9M469.9 304.2h.9M470.4 293.1h.9M475.7 296.8h.9M474.3 295.7h.9M477.4 293.7h.9M473.3 296.1h.9M472.3 297.7h.9M469.7 295.1h.9M475.5 293.5h.9M476.6 286.1h.9M472.3 300.1h.9M474.4 288.8h.9M471.7 286.6h.9M470.2 297.2h.9M471.8 297.7h.9M472.0 285.1h.9M470.8 302.1h.9M477.2 288.8h.9M475.2 287.2h.9M476.4 292.2h.9M469.3 294.5h.9M480.3 289.2h.9M470.7 297.5h.9M474.0 296.4h.9M473.2 299.7h.9M473.3 290.4h.9M473.2 291.8h.9M477.4 291.9h.9M478.4 299.0h.9M473.1 284.8h.9M477.4 289.7h.9M477.1 288.6h.9M473.9 296.6h.9M475.6 298.9h.9M469.6 298.1h.9M474.8 291.4h.9M469.4 298.7h.9M474.5 302.7h.9M473.7 285.7h.9M470.4 285.9h.9M470.5 301.9h.9M470.3 295.8h.9M470.1 285.7h.9M472.7 285.7h.9M473.5 290.9h.9M472.2 301.7h.9M475.0 298.7h.9M477.5 288.2h.9M474.0 292.8h.9M474.2 296.7h.9M473.5 295.5h.9M476.6 299.8h.9M472.1 285.8h.9M476.6 287.0h.9M471.1 291.3h.9M474.2 294.5h.9M477.4 293.5h.9M475.9 299.6h.9M470.0 294.5h.9M471.3 285.9h.9M479.0 292.8h.9M473.7 301.1h.9M477.1 291.4h.9M476.4 300.5h.9M479.0 295.6h.9M470.1 285.0h.9M478.5 288.4h.9M472.2 295.4h.9M473.1 291.8h.9M473.1 286.4h.9M469.8 287.6h.9M472.8 300.1h.9M476.7 298.4h.9M475.8 295.4h.9M473.9 290.8h.9M470.7 286.6h.9M473.8 296.4h.9M470.6 297.0h.9M477.5 288.4h.9M477.3 295.8h.9M475.7 296.7h.9M477.0 298.1h.9M470.4 289.5h.9M473.0 286.5h.9M469.2 286.2h.9M472.6 295.6h.9M475.0 288.5h.9M475.0 299.6h.9M475.6 294.5h.9M475.3 284.5h.9M469.9 286.1h.9M469.4 287.2h.9M475.1 286.8h.9M477.2 297.5h.9M472.1 293.3h.9M470.1 285.3h.9M469.3 286.1h.9M476.1 289.3h.9M473.4 298.8h.9M479.0 288.0h.9M476.2 297.1h.9M474.5 291.4h.9M475.9 302.1h.9M473.1 300.8h.9M470.4 294.6h.9M469.5 285.9h.9M470.1 296.8h.9M477.0 301.0h.9M477.0 291.5h.9M476.4 297.0h.9M471.5 299.0h.9M478.5 293.8h.9M472.7 289.1h.9M474.2 301.6h.9M475.1 291.8h.9M480.4 294.9h.9M472.4 296.2h.9M473.2 289.4h.9M471.2 289.8h.9M473.0 290.5h.9M470.6 303.3h.9M469.7 291.9h.9M471.0 296.4h.9M477.3 288.3h.9M479.3 294.6h.9M469.3 294.7h.9" stroke="#202020" stroke-width="0.9" fill="none"/>
<text x="441.30" y="312.40" font-size="9" text-anchor="start" font-weight="normal" fill="#2a2a2a" stroke="#2a2a2a" stroke-width="0.18" textLength="25.50" lengthAdjust="spacingAndGlyphs" transform="rotate(-90 441.30 312.40)">CXCR5</text>
<rect x="309.60" y="326.70" width="53.90" height="46.80" fill="none" stroke="#4a4a4a" stroke-width="1.0"/>
<line x1="309.60" y1="373.50" x2="363.50" y2="373.50" stroke="#2a2a2a" stroke-width="1.2"/>
<line x1="309.60" y1="326.70" x2="309.60" y2="373.50" stroke="#2a2a2a" stroke-width="1.2"/>
<line x1="335.50" y1="326.70" x2="335.50" y2="373.50" stroke="#666" stroke-width="0.9"/>
<line x1="309.60" y1="356.60" x2="363.50" y2="356.60" stroke="#666" stroke-width="0.9"/>
<path d="M349.5 359.0h.9M352.2 340.1h.9M343.2 340.7h.9M336.0 338.0h.9M346.3 328.3h.9M351.2 342.0h.9M330.3 329.8h.9M338.0 353.6h.9M347.5 332.6h.9M339.6 328.7h.9M335.9 328.0h.9M358.2 346.4h.9M354.1 344.5h.9M337.6 348.6h.9M347.5 335.7h.9M330.4 340.8h.9M333.8 338.9h.9M351.4 345.2h.9M344.8 339.1h.9M345.2 333.8h.9M349.9 353.1h.9M338.7 329.3h.9M343.8 327.9h.9M359.7 340.3h.9M347.0 342.4h.9M339.5 335.4h.9M334.9 356.2h.9M344.3 349.3h.9M355.8 338.8h.9M339.5 338.0h.9M346.6 333.5h.9M351.4 339.1h.9M337.4 346.4h.9" stroke="#b0b0b0" stroke-width="0.9" fill="none"/>
<path d="M347.5 335.7h.9M338.7 340.0h.9M342.6 345.8h.9M339.1 335.5h.9M336.5 346.3h.9M349.7 342.1h.9M335.3 356.2h.9M346.0 336.7h.9M332.9 335.5h.9M355.8 348.5h.9M334.3 336.4h.9M337.7 333.3h.9M342.9 334.5h.9M338.4 344.5h.9M338.4 346.9h.9M336.9 348.1h.9M336.1 337.5h.9M331.8 343.0h.9M343.5 341.1h.9M347.5 344.9h.9M341.6 331.1h.9M338.8 343.2h.9M333.2 349.8h.9M341.5 350.0h.9M333.0 351.8h.9M347.2 341.9h.9M337.8 350.8h.9M334.4 339.7h.9M345.9 340.5h.9M335.3 334.1h.9M337.1 348.6h.9M354.7 335.1h.9M333.1 344.8h.9M338.8 338.5h.9M338.9 349.1h.9M343.9 336.4h.9M342.5 333.6h.9M345.9 328.7h.9M337.4 346.5h.9M349.1 344.1h.9M329.0 339.8h.9M344.8 344.9h.9M341.8 337.6h.9M329.2 338.1h.9M340.6 337.0h.9M335.1 343.3h.9M337.9 342.1h.9M345.6 336.7h.9M345.2 334.1h.9M344.5 343.5h.9M342.5 345.4h.9M340.9 330.5h.9M348.9 342.3h.9M340.9 341.3h.9M341.9 339.6h.9M332.4 333.8h.9M349.4 344.7h.9M333.9 350.8h.9M341.3 334.2h.9M335.5 337.0h.9M346.0 345.6h.9M338.4 339.5h.9M335.9 341.7h.9M334.1 346.4h.9M339.2 346.8h.9M348.3 342.9h.9M334.7 342.5h.9M335.0 347.6h.9M338.0 339.9h.9M328.2 345.2h.9M337.0 348.9h.9M342.6 340.7h.9M344.5 339.4h.9M335.3 340.7h.9M338.5 347.6h.9M336.0 334.5h.9M347.2 346.5h.9M337.8 341.8h.9M330.9 351.1h.9M336.8 327.8h.9M339.1 344.1h.9M343.4 342.5h.9M341.1 340.0h.9M339.3 339.6h.9M353.4 341.5h.9M340.6 328.4h.9M339.6 344.5h.9M343.7 331.5h.9M339.4 350.7h.9M338.7 339.8h.9M343.1 340.5h.9M336.9 337.1h.9M330.3 342.1h.9M342.9 344.7h.9M335.6 343.6h.9M334.0 331.0h.9M343.3 333.2h.9M332.1 339.0h.9M338.0 350.5h.9M345.4 353.8h.9M340.8 331.0h.9M332.8 342.7h.9M332.3 343.7h.9M345.5 344.7h.9M330.5 347.9h.9M349.2 347.4h.9M352.8 336.1h.9M339.1 346.3h.9M345.3 350.2h.9M339.0 336.8h.9M338.7 336.6h.9M340.3 338.9h.9M344.0 336.7h.9M344.9 336.3h.9M346.5 348.5h.9M339.7 339.7h.9M341.7 343.8h.9M334.2 345.4h.9M329.6 333.8h.9M333.2 342.2h.9M345.7 337.5h.9M338.0 343.1h.9M341.8 344.6h.9M332.7 343.0h.9M345.1 345.7h.9M347.9 332.1h.9M346.4 332.2h.9M333.6 342.3h.9M352.7 348.4h.9M339.1 341.6h.9M345.8 333.5h.9M337.9 337.4h.9M346.4 344.5h.9M341.6 348.6h.9M338.5 335.4h.9M344.8 329.8h.9M341.4 340.9h.9M331.0 342.2h.9M335.1 349.5h.9M344.1 346.6h.9M345.2 341.0h.9M345.9 344.8h.9M343.0 347.7h.9M350.7 330.7h.9M337.3 332.0h.9M333.0 345.3h.9M334.5 339.8h.9M336.8 347.1h.9M348.7 341.8h.9M336.1 337.5h.9M338.8 331.0h.9M333.2 342.2h.9M341.2 342.1h.9M341.7 336.5h.9M339.3 334.9h.9M341.2 328.7h.9M342.7 342.5h.9M337.6 342.0h.9" stroke="#909090" stroke-width="0.9" fill="none"/>
<path d="M333.9 340.8h.9M335.3 346.2h.9M332.5 339.0h.9M331.6 345.6h.9M333.9 341.5h.9M332.8 346.2h.9M334.4 348.1h.9M333.8 344.9h.9M335.2 347.7h.9M334.6 339.2h.9M334.0 342.3h.9M333.5 345.6h.9M332.9 341.0h.9M332.6 343.1h.9M335.1 341.5h.9M332.2 346.1h.9M335.2 348.8h.9M329.8 341.7h.9M334.6 341.4h.9M335.4 339.1h.9M332.4 340.3h.9M334.7 343.4h.9M334.3 339.8h.9M335.1 341.6h.9M334.1 339.4h.9M334.6 345.0h.9M333.4 333.5h.9M334.5 338.4h.9M332.2 341.0h.9M332.7 339.8h.9M334.5 333.8h.9M335.4 347.2h.9M335.0 335.4h.9M334.2 341.8h.9M334.4 346.3h.9M332.9 342.7h.9M332.7 344.6h.9M334.8 347.6h.9M335.5 333.7h.9M331.8 343.6h.9M334.6 348.0h.9M334.3 338.8h.9M335.4 341.4h.9M334.5 340.7h.9M334.8 346.9h.9M332.3 341.4h.9M334.3 348.7h.9M332.7 346.7h.9M335.4 342.4h.9M334.9 335.3h.9M334.5 344.3h.9M334.7 338.4h.9M332.5 339.0h.9M335.4 345.0h.9M335.3 339.1h.9M334.6 340.6h.9M331.5 340.1h.9M331.4 340.5h.9M332.2 336.6h.9M331.6 341.5h.9M333.2 345.2h.9M335.4 337.3h.9M333.4 335.7h.9M333.7 335.8h.9M333.4 343.3h.9M330.7 344.4h.9M332.9 345.0h.9M334.9 335.7h.9M334.2 349.4h.9M334.0 341.0h.9M334.6 344.4h.9M335.1 345.3h.9M333.2 346.5h.9M333.8 335.9h.9M335.4 341.3h.9M333.9 335.7h.9M330.0 339.4h.9M335.4 348.6h.9M333.7 338.6h.9M332.5 339.6h.9M333.6 342.8h.9M335.0 345.6h.9M331.4 347.4h.9M335.2 336.4h.9M334.6 341.4h.9M334.8 348.8h.9M332.9 338.9h.9M334.4 334.9h.9M334.1 337.6h.9M334.1 348.7h.9M331.9 346.5h.9M335.0 336.5h.9M333.1 335.2h.9M332.2 338.2h.9M334.6 347.8h.9M332.0 340.2h.9M332.1 338.8h.9M334.4 346.8h.9M334.5 338.1h.9M331.2 340.8h.9M334.4 338.1h.9M334.6 337.0h.9M335.4 340.2h.9M332.3 342.0h.9M333.6 339.1h.9M334.4 337.3h.9M331.7 344.7h.9M332.5 341.9h.9M331.7 340.0h.9M330.5 339.7h.9M333.6 336.0h.9M335.1 346.9h.9M334.9 339.3h.9M333.1 340.3h.9M334.6 342.5h.9M333.3 341.5h.9M334.9 339.5h.9M335.4 347.4h.9M331.7 341.5h.9M331.8 342.1h.9M334.1 343.4h.9M334.3 345.2h.9M333.5 348.8h.9M335.3 337.8h.9M334.6 345.9h.9M335.4 342.1h.9M333.6 339.5h.9M329.4 343.0h.9M334.0 343.7h.9M333.2 336.5h.9M332.9 340.3h.9M334.5 338.7h.9M335.3 346.2h.9M335.4 338.8h.9M334.7 346.2h.9M334.1 337.9h.9M332.5 342.8h.9M332.2 345.1h.9M334.2 341.4h.9M335.2 339.3h.9M330.8 344.3h.9M332.5 344.1h.9M335.1 336.9h.9M334.6 336.1h.9M331.7 344.7h.9M332.9 334.7h.9M333.9 340.2h.9M334.9 347.1h.9M332.0 341.6h.9M332.7 342.9h.9M333.6 343.6h.9M334.8 342.4h.9M333.1 343.4h.9M333.1 338.0h.9M335.3 348.8h.9M335.1 338.3h.9M335.1 346.9h.9M331.0 342.5h.9M335.3 335.3h.9M333.7 347.0h.9M331.7 337.0h.9M333.4 349.2h.9M332.7 333.3h.9M333.2 334.3h.9M333.2 344.6h.9M334.7 342.7h.9M333.8 336.3h.9M332.2 341.4h.9M332.3 344.6h.9M333.7 345.0h.9M333.4 334.4h.9M334.3 336.7h.9M334.3 340.1h.9M335.2 339.5h.9M332.2 341.7h.9M335.1 346.0h.9M332.3 335.5h.9M333.6 341.4h.9M332.9 341.7h.9M334.4 338.5h.9M332.3 341.5h.9M333.6 339.7h.9M335.5 342.9h.9M334.4 342.4h.9M332.5 337.8h.9M332.7 339.5h.9M334.7 339.6h.9M334.8 335.5h.9M331.4 341.6h.9M334.2 348.1h.9M334.1 338.9h.9M331.8 342.5h.9M334.1 339.9h.9M333.0 336.9h.9M334.4 334.9h.9M334.8 337.5h.9M333.6 342.5h.9M332.6 337.0h.9M335.4 335.1h.9M334.6 335.6h.9M333.3 339.1h.9M335.4 350.1h.9M332.8 333.4h.9M332.5 334.6h.9M331.2 343.5h.9M333.7 340.0h.9M332.8 342.1h.9M332.2 339.1h.9M331.9 342.6h.9M334.2 336.4h.9M334.9 349.1h.9M332.5 333.8h.9M334.1 342.7h.9M333.0 344.3h.9M334.2 349.2h.9M334.0 344.6h.9M335.5 342.0h.9M332.2 347.0h.9M333.4 343.4h.9M332.1 338.0h.9M335.0 339.6h.9M335.2 346.7h.9M334.4 338.7h.9M335.3 332.0h.9M334.3 335.8h.9M335.4 341.7h.9M333.4 348.4h.9M334.1 346.6h.9M334.5 334.6h.9M334.5 341.6h.9M334.6 340.6h.9M333.0 332.0h.9M333.9 337.8h.9M335.2 332.3h.9M334.3 345.9h.9M334.6 335.2h.9M333.3 343.6h.9M331.0 341.8h.9M334.8 341.5h.9M333.8 340.3h.9M335.2 347.0h.9M334.7 334.8h.9M334.9 344.0h.9M335.2 342.7h.9M335.2 345.1h.9M331.3 336.7h.9M334.2 345.2h.9M335.3 336.3h.9M334.7 345.6h.9M335.1 337.6h.9M334.9 338.9h.9M335.4 335.0h.9M334.0 343.1h.9M335.1 334.5h.9M332.8 347.0h.9M334.7 346.1h.9M333.2 343.6h.9M331.5 343.1h.9M335.4 347.8h.9M333.8 346.3h.9M335.5 344.8h.9M332.6 343.0h.9M334.3 339.8h.9M332.4 346.1h.9M333.5 342.0h.9M334.2 343.5h.9M335.0 347.8h.9M334.2 347.5h.9M334.1 345.0h.9M333.2 347.2h.9M333.3 339.8h.9M334.7 346.4h.9M331.7 344.5h.9M329.9 341.3h.9M335.4 343.8h.9M331.7 337.6h.9M332.6 341.8h.9M332.9 339.7h.9M332.5 344.5h.9M334.1 341.7h.9M333.6 346.1h.9M335.4 340.0h.9M334.6 334.7h.9M335.3 334.4h.9M334.5 343.2h.9M335.3 339.0h.9M332.8 341.4h.9M334.4 340.3h.9M334.0 332.4h.9M334.8 343.2h.9M333.2 340.5h.9M334.1 344.5h.9M333.0 336.2h.9M334.5 341.3h.9M334.5 345.6h.9M335.0 335.9h.9M335.0 337.5h.9M331.8 344.6h.9M332.8 341.7h.9M331.1 346.2h.9M333.0 336.7h.9M334.3 348.8h.9M332.0 345.1h.9M333.4 343.5h.9M331.6 343.9h.9M334.8 344.0h.9M334.5 341.2h.9M334.7 341.8h.9M331.4 344.2h.9M334.9 340.8h.9M333.2 339.7h.9M332.3 336.6h.9M334.5 342.9h.9M334.6 347.8h.9M334.9 336.4h.9M335.4 339.8h.9M334.4 335.8h.9" stroke="#808080" stroke-width="0.9" fill="none"/>
<path d="M340.8 345.2h.9M341.5 340.3h.9M343.3 343.7h.9M337.0 344.9h.9M337.1 341.5h.9M335.5 342.3h.9M342.9 335.6h.9M338.6 343.3h.9M344.8 339.6h.9M335.8 344.3h.9M345.2 346.8h.9M337.8 340.3h.9M340.2 342.1h.9M340.7 338.8h.9M343.1 335.7h.9M336.2 336.2h.9M343.3 336.3h.9M339.9 347.8h.9M338.8 339.6h.9M338.7 336.6h.9M335.9 339.4h.9M342.8 341.0h.9M337.5 333.3h.9M337.8 337.5h.9M339.2 336.1h.9M337.2 340.9h.9M344.1 339.2h.9M340.7 331.7h.9M339.6 346.4h.9M340.2 339.8h.9M337.7 331.6h.9M337.2 346.6h.9M335.8 346.1h.9M339.3 335.2h.9M346.4 341.3h.9M336.1 337.1h.9M339.9 348.7h.9M341.9 341.7h.9M338.9 330.9h.9M335.7 346.2h.9M341.4 349.1h.9M342.9 346.0h.9M346.2 340.4h.9M342.9 343.0h.9M344.5 345.6h.9M342.5 333.9h.9M344.6 344.5h.9M340.4 337.9h.9M342.2 335.8h.9M339.9 336.4h.9M341.8 339.9h.9M343.3 342.3h.9M336.7 332.1h.9M341.1 347.3h.9M340.7 349.3h.9M336.9 334.8h.9M335.7 347.1h.9M341.2 336.8h.9M345.3 337.0h.9M337.5 345.5h.9M338.2 342.3h.9M340.5 331.0h.9M341.9 338.1h.9M340.1 343.5h.9M337.5 334.2h.9M338.0 341.0h.9M345.8 340.1h.9M346.1 344.3h.9M335.6 339.8h.9M345.1 343.4h.9M336.5 346.3h.9M342.5 349.2h.9M337.0 349.0h.9M342.2 342.1h.9M340.5 337.7h.9M344.1 341.5h.9M343.1 342.4h.9M337.7 343.3h.9M339.7 334.5h.9M335.8 331.4h.9M345.6 342.9h.9M339.1 351.0h.9M341.0 335.2h.9M336.2 342.2h.9M342.3 345.0h.9M339.5 342.4h.9M340.7 339.0h.9M341.4 333.8h.9M338.7 349.3h.9M337.0 341.8h.9M336.2 339.2h.9M344.0 349.4h.9M342.2 345.0h.9M336.5 345.8h.9M338.6 343.4h.9M340.1 342.4h.9M342.9 333.4h.9M344.4 349.3h.9M343.9 345.8h.9M345.6 341.2h.9M340.9 332.2h.9M338.2 332.6h.9M335.7 345.2h.9M336.2 335.0h.9M340.1 333.0h.9M343.7 342.3h.9M342.1 350.7h.9M340.5 331.6h.9M341.3 346.1h.9M336.4 345.8h.9M342.8 336.0h.9M343.2 334.9h.9M343.3 343.7h.9M345.0 344.3h.9M341.7 334.8h.9M338.0 340.5h.9M338.6 336.0h.9M336.7 336.7h.9M339.1 332.2h.9M337.9 341.0h.9M342.6 339.1h.9M342.6 345.0h.9M341.7 344.2h.9M344.3 342.6h.9M339.7 337.6h.9M340.6 340.8h.9M344.5 344.7h.9M339.9 336.2h.9M342.6 341.6h.9M341.2 335.5h.9M338.9 346.4h.9M340.6 333.4h.9M337.2 347.3h.9M336.1 339.9h.9M341.7 335.7h.9M337.2 343.2h.9M341.2 345.9h.9M341.4 332.2h.9M343.3 339.5h.9M343.5 346.5h.9M340.3 343.7h.9M337.3 336.0h.9M337.5 346.3h.9M337.7 341.1h.9M336.6 335.9h.9M341.4 344.9h.9M342.1 337.4h.9M339.6 340.5h.9M340.0 339.7h.9M336.2 343.9h.9M341.5 349.2h.9M344.7 339.3h.9M340.9 343.7h.9M338.1 345.8h.9M343.8 340.1h.9M336.5 336.5h.9M344.5 336.5h.9M340.7 341.7h.9M342.4 334.5h.9M337.8 347.5h.9M339.7 337.8h.9M335.6 334.9h.9M336.5 343.6h.9M338.5 337.7h.9M336.0 343.0h.9M342.9 340.2h.9M338.1 337.6h.9M340.1 333.3h.9M335.7 335.3h.9M338.0 332.6h.9M342.7 344.2h.9M339.3 332.3h.9M337.1 339.1h.9M343.7 336.6h.9M343.2 337.2h.9M343.0 343.6h.9M338.3 345.5h.9M336.1 334.0h.9M339.2 347.8h.9M340.1 345.3h.9M342.4 335.9h.9M341.7 340.2h.9M345.3 343.1h.9M339.5 340.2h.9M345.1 345.2h.9M337.8 347.3h.9M340.2 338.8h.9M337.5 341.9h.9M343.4 341.9h.9M336.5 335.6h.9M341.4 347.8h.9M339.6 340.5h.9M341.1 345.8h.9M336.8 341.6h.9M341.3 349.1h.9M342.5 338.1h.9M337.2 346.8h.9M339.9 338.1h.9M341.2 338.4h.9M337.6 336.3h.9M338.9 337.2h.9M336.6 345.8h.9M344.5 340.4h.9M344.5 345.5h.9M337.8 338.6h.9M344.3 333.2h.9M344.8 342.2h.9M337.7 347.0h.9M341.6 343.9h.9M339.4 339.3h.9M338.0 346.6h.9M341.8 343.6h.9M343.7 336.7h.9M341.8 335.0h.9M343.2 348.2h.9M339.3 344.7h.9M336.3 348.7h.9M346.2 344.7h.9M344.3 346.7h.9M345.8 340.1h.9M336.3 334.5h.9M341.1 351.5h.9M342.3 336.7h.9M340.4 349.8h.9M342.1 343.0h.9M339.7 341.8h.9M345.2 342.2h.9M341.6 350.0h.9M335.6 337.1h.9M340.6 344.4h.9M343.4 343.2h.9M347.0 342.9h.9M342.7 332.7h.9M340.8 333.4h.9M338.9 337.4h.9M342.1 340.0h.9M345.0 341.2h.9M340.8 335.7h.9M345.7 343.8h.9M343.6 336.4h.9M336.8 350.9h.9M345.2 339.0h.9M338.1 337.3h.9M336.2 334.1h.9M336.1 333.6h.9M339.4 347.5h.9M335.7 333.6h.9M339.8 346.6h.9M337.3 341.2h.9M339.2 336.5h.9M346.2 341.1h.9M341.3 331.6h.9M339.4 337.8h.9M345.7 334.1h.9M336.2 348.1h.9M345.2 341.4h.9M344.8 344.9h.9M339.5 340.1h.9M336.0 334.6h.9M340.4 339.3h.9M336.4 348.0h.9M339.8 333.5h.9M338.1 346.7h.9M343.7 344.3h.9M336.3 346.0h.9M344.9 343.0h.9M338.2 345.1h.9M340.5 341.9h.9M338.7 332.5h.9M342.5 336.6h.9M346.1 344.1h.9M342.7 340.0h.9M338.3 336.6h.9M342.9 341.5h.9M343.9 343.0h.9M342.1 337.9h.9M345.6 337.1h.9M345.6 343.7h.9M340.6 345.1h.9M336.4 332.7h.9M336.1 335.2h.9M341.6 334.6h.9M340.8 333.4h.9M343.9 335.9h.9M341.2 347.8h.9M343.5 344.9h.9M343.2 335.1h.9M342.6 338.1h.9M339.1 334.8h.9M346.1 339.3h.9M336.1 350.5h.9M344.0 347.7h.9M336.5 349.4h.9M340.5 347.4h.9M343.2 345.8h.9M342.0 335.6h.9M340.0 333.5h.9M345.7 339.7h.9M339.1 343.1h.9M343.3 347.4h.9M341.6 343.5h.9M339.1 337.7h.9M341.2 342.6h.9M342.5 339.9h.9M340.9 338.6h.9M341.2 344.8h.9M335.7 335.7h.9M340.5 347.4h.9M343.0 341.7h.9M336.5 334.7h.9M338.0 336.1h.9M340.4 339.1h.9M339.1 336.2h.9M343.9 347.9h.9M343.3 333.5h.9M338.6 340.9h.9M338.0 334.6h.9M348.0 340.7h.9M337.7 346.7h.9M337.5 343.4h.9M343.8 348.4h.9M337.5 342.5h.9M340.4 348.1h.9M339.0 345.2h.9M343.6 345.2h.9M340.3 348.4h.9M342.9 346.2h.9M344.3 341.3h.9M338.4 349.3h.9M342.5 336.6h.9M337.5 338.8h.9M336.4 339.0h.9M336.6 342.6h.9M342.6 344.3h.9M338.8 347.4h.9M344.2 336.1h.9M340.3 349.0h.9M338.6 341.5h.9M336.1 338.4h.9M338.3 333.3h.9M338.4 341.2h.9M338.1 334.2h.9M338.1 338.1h.9M337.3 344.6h.9M341.9 344.6h.9M345.3 342.9h.9M340.4 331.8h.9M340.4 341.8h.9M342.8 335.2h.9M338.4 333.7h.9M342.5 343.3h.9M342.8 346.4h.9M341.6 345.1h.9M340.3 336.4h.9M336.0 347.6h.9M336.8 342.6h.9M342.6 346.6h.9M338.9 344.2h.9M336.2 341.4h.9M340.1 332.6h.9M338.4 346.0h.9M338.1 343.6h.9M339.0 334.7h.9M338.9 348.4h.9M341.4 343.8h.9M343.0 335.1h.9M341.8 337.6h.9M337.6 342.5h.9M341.8 336.7h.9M338.0 340.5h.9M344.4 347.4h.9M339.0 339.1h.9M342.8 343.8h.9M336.3 344.7h.9M345.3 343.4h.9M341.8 346.9h.9M344.2 338.6h.9M336.7 345.9h.9M345.9 337.2h.9M342.0 340.0h.9M340.0 342.1h.9M341.8 344.3h.9M337.1 337.4h.9M341.9 341.4h.9M336.8 338.6h.9M338.4 340.7h.9M338.3 348.2h.9M345.0 342.1h.9M344.9 337.6h.9M341.3 336.7h.9M341.1 342.3h.9M339.0 340.9h.9M338.8 341.0h.9M343.0 340.9h.9M345.3 343.1h.9M342.3 333.7h.9M343.9 343.3h.9M335.8 349.6h.9M336.9 335.9h.9M338.8 336.2h.9M341.9 334.8h.9M337.7 333.5h.9M343.2 342.8h.9M344.4 335.2h.9M343.6 343.1h.9M336.0 338.9h.9M338.4 342.7h.9M337.6 337.0h.9M341.0 342.8h.9M337.9 348.3h.9M343.1 341.9h.9M341.4 346.6h.9M337.8 337.7h.9M343.4 344.2h.9M342.5 336.5h.9M338.5 341.9h.9M344.8 335.7h.9M336.7 342.4h.9M342.6 336.7h.9M342.0 338.7h.9M335.8 344.8h.9M343.9 334.2h.9M335.7 346.1h.9M345.5 342.4h.9M337.3 339.8h.9M343.6 335.8h.9M342.1 332.1h.9M337.5 340.3h.9M336.0 343.0h.9M339.4 345.2h.9M341.1 346.8h.9M342.8 340.8h.9M338.9 332.2h.9M342.7 341.0h.9M342.6 341.3h.9M348.4 339.3h.9M342.9 339.7h.9M336.5 342.9h.9M337.5 344.4h.9M337.8 339.8h.9M339.6 346.0h.9M340.1 341.3h.9M339.3 339.0h.9M336.8 336.1h.9M337.6 345.2h.9M340.4 343.7h.9M337.7 337.5h.9M336.1 341.9h.9M341.3 343.4h.9M337.8 340.2h.9M347.3 342.6h.9M343.3 335.9h.9M339.9 341.5h.9M340.0 346.1h.9M340.4 344.3h.9M336.8 345.0h.9M344.8 342.2h.9M336.7 344.4h.9M343.4 346.2h.9M338.6 334.6h.9M344.1 336.5h.9M341.3 343.2h.9M339.3 339.7h.9M336.1 342.1h.9M336.2 346.3h.9M338.1 337.1h.9M337.9 333.5h.9M343.5 337.6h.9M344.3 342.2h.9M342.4 332.3h.9M344.2 341.6h.9M336.4 345.0h.9M341.2 334.4h.9M343.8 337.3h.9M338.6 333.9h.9M337.3 349.8h.9M343.3 347.1h.9M342.7 348.3h.9M339.3 346.8h.9M338.1 347.9h.9M342.9 337.0h.9M338.7 332.9h.9M342.2 334.7h.9M341.0 348.5h.9M339.1 345.0h.9M338.8 334.1h.9M339.3 347.5h.9M338.2 339.7h.9M342.4 341.2h.9M339.5 342.1h.9M340.3 338.3h.9M341.1 334.6h.9M340.2 341.5h.9M341.5 337.7h.9M340.2 346.3h.9M335.8 346.3h.9M343.5 341.0h.9M339.7 335.7h.9M337.4 340.0h.9M335.9 337.8h.9M337.5 331.6h.9M339.0 344.7h.9M344.3 338.8h.9M339.7 341.9h.9M338.7 348.8h.9M343.1 346.3h.9M338.0 336.2h.9M343.7 336.4h.9M336.7 341.3h.9M343.3 340.4h.9M340.9 335.4h.9M339.9 332.8h.9M336.0 336.4h.9M342.2 347.6h.9M343.2 340.4h.9M344.4 342.0h.9M344.1 334.6h.9M336.6 339.1h.9M336.7 348.0h.9M337.3 348.2h.9M342.4 341.9h.9M337.9 340.3h.9M342.2 334.1h.9M338.3 338.6h.9M343.3 345.0h.9M340.2 330.8h.9M340.9 341.6h.9M342.9 338.9h.9M337.5 338.6h.9M340.3 343.5h.9M338.9 335.5h.9M340.8 344.7h.9M339.6 349.7h.9M340.9 349.4h.9M340.2 341.8h.9M339.6 349.3h.9M339.0 344.8h.9M345.1 335.0h.9M337.4 336.1h.9M346.6 339.8h.9M341.2 342.4h.9M340.0 334.9h.9M344.1 339.3h.9M339.1 342.8h.9M344.2 345.1h.9M337.2 340.3h.9M341.4 347.0h.9M345.6 343.5h.9M340.9 343.3h.9M337.0 341.1h.9M340.9 336.3h.9M337.5 340.3h.9M341.1 332.1h.9M337.3 338.7h.9M346.4 338.2h.9M338.6 346.5h.9M344.1 346.1h.9M342.2 337.8h.9M337.5 349.0h.9M343.6 339.2h.9M346.5 336.5h.9M341.5 346.4h.9M340.8 342.2h.9M344.2 341.9h.9M343.3 338.6h.9M341.3 341.3h.9M345.4 335.3h.9M345.6 346.9h.9M344.4 345.7h.9M343.3 336.5h.9M336.3 343.9h.9M343.3 333.7h.9M342.6 336.2h.9M341.5 339.8h.9M335.7 337.7h.9M342.7 343.4h.9M340.7 347.0h.9M344.7 338.1h.9M341.8 333.4h.9M341.4 346.6h.9M340.6 337.3h.9M345.0 343.8h.9M338.1 344.8h.9M342.3 334.7h.9M344.6 338.1h.9M338.3 346.2h.9M341.3 347.8h.9M344.1 338.0h.9M336.7 333.9h.9M342.4 347.9h.9M343.6 337.5h.9M341.6 341.5h.9M340.2 335.1h.9M337.8 345.4h.9M337.8 337.6h.9M337.1 334.6h.9M338.7 333.2h.9M337.3 336.2h.9M339.8 351.2h.9M345.8 339.6h.9M340.9 341.5h.9M338.6 344.3h.9M338.4 338.9h.9M343.1 335.5h.9M343.4 351.4h.9M339.0 336.5h.9M340.8 338.4h.9M343.4 346.2h.9M339.6 332.7h.9M339.7 335.9h.9M337.5 335.0h.9M346.3 345.0h.9M344.0 339.2h.9M346.4 339.6h.9M339.7 346.3h.9M342.6 341.6h.9M341.8 345.4h.9M338.3 347.0h.9M338.1 341.0h.9M342.6 339.9h.9M336.6 350.1h.9M341.1 333.1h.9M339.1 333.9h.9M337.5 343.2h.9M335.7 337.9h.9M335.8 334.5h.9M343.9 342.5h.9M336.5 337.1h.9M336.7 346.2h.9M341.4 350.0h.9M343.5 347.6h.9M340.3 344.9h.9M338.5 336.2h.9M335.6 345.5h.9M338.6 335.2h.9M341.1 344.6h.9M342.1 338.9h.9M339.1 334.1h.9M337.2 341.2h.9M342.0 341.9h.9M342.4 343.5h.9M340.8 335.3h.9M344.8 342.2h.9M344.4 344.4h.9M343.7 339.9h.9M337.7 340.4h.9M341.2 334.3h.9M335.9 343.6h.9M336.5 334.9h.9M341.1 334.9h.9M343.8 336.8h.9M342.6 345.0h.9M338.4 345.8h.9M336.0 338.7h.9M339.9 345.8h.9M337.4 342.5h.9M340.2 337.7h.9M341.7 337.7h.9M344.1 349.1h.9M344.7 346.0h.9M344.1 336.0h.9M342.1 344.8h.9M344.5 343.0h.9M340.1 350.0h.9M344.7 334.0h.9M339.1 340.4h.9M339.1 334.6h.9M340.4 341.1h.9M339.6 343.7h.9M335.8 335.6h.9M338.9 344.5h.9M340.4 333.1h.9M339.2 333.6h.9M339.5 345.2h.9M340.5 342.2h.9M337.7 333.6h.9M340.0 347.2h.9M341.5 342.3h.9M336.3 331.6h.9M341.9 345.4h.9M337.9 341.5h.9M346.1 339.4h.9M339.1 339.0h.9M339.0 340.8h.9M343.6 346.1h.9M340.1 346.4h.9M343.0 334.6h.9M341.3 345.0h.9M340.2 332.4h.9M340.5 343.8h.9M337.5 341.2h.9M340.2 335.1h.9M338.2 348.3h.9M338.6 342.3h.9M340.8 332.6h.9M344.2 346.4h.9M340.9 344.1h.9M336.3 332.9h.9M337.4 334.6h.9M343.5 346.8h.9M340.6 350.8h.9M338.2 338.6h.9M342.2 342.7h.9M343.9 335.9h.9M337.6 339.1h.9M340.0 343.0h.9M343.8 339.3h.9M339.2 335.3h.9M338.7 335.9h.9M337.7 336.9h.9M338.1 339.7h.9M340.9 338.6h.9M339.0 333.4h.9M342.1 345.1h.9M336.0 336.9h.9M335.7 334.0h.9M341.9 343.6h.9M342.3 349.8h.9M340.7 341.4h.9M338.5 340.7h.9M338.0 341.4h.9M341.3 333.1h.9M341.9 341.0h.9M342.6 344.0h.9M344.8 344.4h.9M346.3 339.4h.9M340.3 334.0h.9M348.1 337.8h.9M341.3 342.5h.9M336.6 343.5h.9M341.6 340.1h.9M339.6 340.4h.9M343.4 350.1h.9M338.1 339.0h.9M339.4 344.1h.9M346.4 335.7h.9M342.8 332.4h.9M342.4 334.0h.9M340.7 342.1h.9M338.6 333.1h.9M342.5 335.9h.9M343.4 340.0h.9M342.0 348.5h.9M342.6 344.6h.9M343.3 345.9h.9M342.3 343.9h.9M338.3 343.1h.9M342.9 342.0h.9M345.0 339.4h.9M347.0 344.9h.9M338.5 343.6h.9M345.0 343.7h.9M335.9 340.2h.9M336.7 340.1h.9M342.6 342.3h.9M344.3 345.0h.9M337.0 335.9h.9M335.6 350.7h.9M343.4 336.2h.9M337.1 351.6h.9M341.3 343.2h.9M343.1 337.5h.9M344.1 335.2h.9M340.1 345.7h.9M342.4 347.3h.9M345.7 342.5h.9M340.8 340.1h.9M340.7 337.0h.9M341.9 351.1h.9M344.8 340.6h.9M345.8 341.2h.9M337.9 340.9h.9M338.6 340.7h.9M338.8 344.6h.9M339.9 348.3h.9M340.2 347.5h.9M339.8 334.6h.9M343.1 345.1h.9M342.6 343.0h.9M340.1 338.1h.9M345.8 343.7h.9M339.3 341.3h.9M337.8 337.2h.9M341.6 342.9h.9M342.1 340.5h.9M338.4 336.3h.9M339.2 344.2h.9M341.5 344.8h.9M343.4 346.1h.9M335.7 334.3h.9M336.6 349.4h.9M339.9 333.4h.9M339.8 341.6h.9M338.2 348.5h.9M337.5 345.2h.9M335.7 337.8h.9M342.6 342.7h.9M342.9 341.0h.9M337.9 347.3h.9M338.3 340.6h.9M337.4 349.4h.9M345.6 337.7h.9M335.5 342.0h.9M346.0 341.6h.9M339.1 337.2h.9M336.0 343.2h.9M343.0 335.7h.9M339.4 341.5h.9M341.5 341.9h.9M336.3 348.8h.9M336.4 335.3h.9M339.7 346.4h.9M339.8 335.9h.9M340.3 345.9h.9M342.2 336.9h.9M341.6 344.4h.9M344.3 344.7h.9M338.0 337.2h.9M340.0 348.5h.9M337.4 337.7h.9M340.6 345.5h.9M341.9 333.7h.9M337.2 349.3h.9M342.4 342.9h.9M337.8 346.0h.9M344.4 338.7h.9M344.2 341.2h.9M343.2 335.9h.9M343.3 333.6h.9M340.3 339.9h.9M343.0 335.0h.9M339.2 333.4h.9M336.6 339.8h.9M346.1 338.2h.9M344.0 347.8h.9M335.8 343.3h.9M335.9 343.5h.9M340.0 347.6h.9M342.4 345.9h.9M338.7 334.8h.9M338.5 344.8h.9M337.4 350.1h.9M344.5 343.0h.9M337.2 336.8h.9M343.1 333.0h.9M339.4 332.7h.9M341.6 337.0h.9M342.3 341.8h.9M342.4 348.6h.9M342.1 338.1h.9M344.7 346.2h.9M342.4 339.3h.9M337.4 344.1h.9M341.7 339.6h.9M345.3 338.7h.9M337.5 335.6h.9M338.3 338.5h.9M339.4 340.3h.9M338.7 348.9h.9M340.6 338.4h.9M341.9 339.7h.9M344.8 340.7h.9M345.4 333.9h.9M342.8 334.0h.9M343.3 344.6h.9M345.3 340.5h.9M339.5 336.6h.9M338.6 336.9h.9M342.7 337.9h.9M340.2 347.4h.9M339.9 339.7h.9M341.8 344.5h.9M339.5 332.9h.9M339.4 349.8h.9M335.7 345.8h.9M344.0 341.5h.9M340.4 331.7h.9M337.1 348.6h.9M336.1 334.9h.9M337.6 342.0h.9M338.3 336.3h.9M343.4 339.1h.9M338.2 347.2h.9M344.7 339.9h.9M343.9 337.4h.9M336.3 340.8h.9M337.7 335.0h.9M341.9 341.0h.9M338.0 341.5h.9M342.3 346.5h.9M337.3 338.1h.9M344.3 344.0h.9M337.0 340.3h.9M336.0 335.9h.9M340.5 335.0h.9M336.8 342.1h.9M336.0 335.0h.9M344.6 345.0h.9M343.0 344.0h.9M337.7 335.1h.9M336.8 344.4h.9M338.0 344.4h.9M343.2 339.7h.9M340.5 341.6h.9M337.6 349.4h.9M343.9 346.1h.9M340.3 343.2h.9M343.7 340.2h.9M338.5 345.4h.9M338.9 345.8h.9M340.6 342.7h.9M339.9 338.8h.9M336.2 350.0h.9M343.8 344.9h.9M342.9 348.7h.9M343.5 345.0h.9M336.0 333.5h.9M342.4 339.2h.9M345.5 343.1h.9M343.1 334.4h.9M345.5 347.6h.9M339.2 342.3h.9M339.9 341.2h.9M344.6 345.4h.9M337.6 350.7h.9M338.6 346.7h.9M337.4 334.6h.9M337.5 336.1h.9M342.7 333.7h.9M339.4 348.4h.9M343.0 347.3h.9M344.0 343.5h.9M337.2 337.0h.9M336.3 334.8h.9M340.0 346.5h.9M339.7 349.2h.9M344.1 346.0h.9M335.8 347.8h.9M338.2 335.1h.9M346.5 341.1h.9M342.9 343.9h.9M342.7 347.4h.9M340.0 348.1h.9M337.2 339.6h.9M341.0 336.8h.9M337.6 339.0h.9M342.1 338.7h.9M345.8 343.1h.9M335.6 345.0h.9M342.1 346.3h.9M338.2 345.6h.9M343.7 334.0h.9M344.5 341.4h.9M338.1 350.9h.9M340.9 346.7h.9M345.0 342.1h.9M337.5 346.3h.9M340.9 341.3h.9M337.2 343.3h.9M341.0 335.4h.9M341.3 343.3h.9M347.1 344.3h.9M338.7 343.2h.9M340.0 341.7h.9M341.0 334.1h.9M343.0 333.5h.9M342.3 344.0h.9M337.9 347.6h.9M341.2 341.6h.9M341.4 343.3h.9M341.4 340.8h.9M344.1 338.2h.9M338.0 341.1h.9M343.0 346.7h.9M340.0 336.3h.9M340.6 348.6h.9M337.5 336.1h.9M336.1 332.0h.9M345.3 345.4h.9M335.5 338.9h.9M342.9 336.3h.9M340.5 336.4h.9M340.9 343.2h.9" stroke="#202020" stroke-width="0.9" fill="none"/>
<text x="306.80" y="362.10" font-size="9" text-anchor="start" font-weight="normal" fill="#2a2a2a" stroke="#2a2a2a" stroke-width="0.18" textLength="18.50" lengthAdjust="spacingAndGlyphs" transform="rotate(-90 306.80 362.10)">CD44</text>
<rect x="377.60" y="326.90" width="54.70" height="46.70" fill="none" stroke="#4a4a4a" stroke-width="1.0"/>
<line x1="377.60" y1="373.60" x2="432.30" y2="373.60" stroke="#2a2a2a" stroke-width="1.2"/>
<line x1="377.60" y1="326.90" x2="377.60" y2="373.60" stroke="#2a2a2a" stroke-width="1.2"/>
<line x1="403.80" y1="326.90" x2="403.80" y2="373.60" stroke="#666" stroke-width="0.9"/>
<line x1="377.60" y1="357.20" x2="432.30" y2="357.20" stroke="#666" stroke-width="0.9"/>
<path d="M414.5 354.2h.9M410.8 347.5h.9M411.5 355.1h.9M404.6 361.6h.9M412.8 366.1h.9M412.1 361.2h.9M402.5 358.3h.9M410.4 351.9h.9M403.6 362.9h.9M413.1 362.3h.9M419.4 347.1h.9M398.5 354.5h.9M409.5 344.8h.9M410.0 350.8h.9M405.6 354.3h.9M407.5 354.3h.9M420.1 360.3h.9M414.3 364.8h.9M412.2 355.4h.9M411.7 341.1h.9M411.8 344.3h.9M422.7 356.7h.9M406.2 361.8h.9M412.0 347.3h.9M419.3 359.9h.9M416.2 364.6h.9M401.6 346.1h.9M409.4 355.2h.9M404.8 349.9h.9M416.3 343.1h.9M419.1 357.6h.9M414.0 349.6h.9M404.6 346.7h.9M425.0 361.9h.9" stroke="#b0b0b0" stroke-width="0.9" fill="none"/>
<path d="M402.7 354.1h.9M401.9 350.3h.9M408.7 365.9h.9M400.4 364.1h.9M412.0 346.1h.9M403.4 362.2h.9M417.3 359.5h.9M408.9 358.0h.9M404.5 350.6h.9M403.2 353.0h.9M405.5 355.2h.9M405.4 361.6h.9M401.9 359.9h.9M408.7 361.8h.9M407.3 365.3h.9M405.7 365.4h.9M403.1 358.3h.9M409.1 353.1h.9M409.0 353.8h.9M409.4 356.5h.9M401.3 354.4h.9M410.9 348.2h.9M409.9 357.8h.9M412.2 354.7h.9M403.4 350.8h.9M405.0 360.8h.9M413.1 357.3h.9M405.1 361.2h.9M401.9 362.1h.9M405.9 355.3h.9M402.8 360.3h.9M410.3 362.6h.9M405.7 368.1h.9M396.1 355.2h.9M409.7 359.1h.9M404.5 355.8h.9M405.0 358.2h.9M408.5 349.3h.9M411.9 344.2h.9M405.9 358.1h.9M398.1 347.2h.9M415.8 360.9h.9M402.5 354.2h.9M409.0 372.3h.9M408.2 358.8h.9M409.0 351.3h.9M407.3 353.6h.9M406.4 354.4h.9M404.3 348.7h.9M408.5 358.5h.9M415.3 368.1h.9M406.3 354.3h.9M409.3 358.0h.9M405.4 351.5h.9M421.3 354.4h.9M399.9 350.7h.9M410.0 354.6h.9M403.0 350.1h.9M418.6 346.5h.9M413.0 355.4h.9M414.0 356.0h.9M412.0 353.1h.9M406.1 361.4h.9M402.8 344.1h.9M410.4 356.0h.9M405.2 357.1h.9M407.7 348.4h.9M406.3 359.6h.9M403.0 369.6h.9M406.7 347.5h.9M413.7 355.3h.9M409.3 365.4h.9M407.8 354.0h.9M416.9 355.2h.9M404.8 353.5h.9M410.7 362.6h.9M404.8 350.4h.9M409.2 357.9h.9M406.6 351.8h.9M400.7 359.4h.9M407.0 344.8h.9M412.0 354.8h.9M402.2 359.4h.9M413.2 358.6h.9M419.9 352.0h.9M403.1 356.9h.9M409.3 361.1h.9M407.2 348.2h.9M403.5 362.4h.9M407.7 354.1h.9M412.4 349.5h.9M410.8 345.0h.9M407.9 351.3h.9M411.7 359.8h.9M407.8 355.0h.9M399.7 351.2h.9M410.2 369.5h.9M415.9 365.2h.9M407.3 349.1h.9M402.1 352.7h.9M402.0 362.0h.9M405.8 344.1h.9M402.6 365.1h.9M411.5 356.9h.9M403.7 349.6h.9M414.4 360.3h.9M410.1 346.4h.9M410.8 365.1h.9M404.8 343.1h.9M402.2 353.4h.9M400.8 356.4h.9M406.4 357.8h.9M405.4 355.0h.9M410.7 365.0h.9M416.5 356.0h.9M403.6 342.4h.9M405.3 346.9h.9M408.8 357.6h.9M413.2 345.2h.9M410.9 369.9h.9M403.4 345.1h.9M408.1 348.8h.9M404.7 357.3h.9M411.0 361.3h.9M401.6 362.7h.9M406.8 357.1h.9M413.0 356.2h.9M417.4 352.7h.9M403.2 345.5h.9M415.8 356.2h.9M404.9 351.9h.9M414.7 356.4h.9M412.8 357.5h.9M414.3 356.0h.9M419.2 358.0h.9M407.9 352.4h.9M419.5 355.4h.9M411.6 344.7h.9M399.2 355.9h.9M407.1 342.8h.9M407.3 357.0h.9M401.5 355.9h.9M412.6 350.2h.9M407.9 355.9h.9M413.1 367.8h.9M414.6 354.6h.9M412.7 351.5h.9M412.1 347.9h.9M403.9 357.8h.9M410.7 355.9h.9M414.3 358.2h.9M407.6 354.3h.9M406.5 355.2h.9M404.4 351.1h.9M405.4 352.3h.9M413.7 349.8h.9M407.5 342.5h.9M406.3 355.2h.9M402.0 350.6h.9M407.8 346.4h.9" stroke="#909090" stroke-width="0.9" fill="none"/>
<path d="M402.5 361.6h.9M402.7 346.9h.9M402.3 357.4h.9M402.4 349.8h.9M403.1 358.6h.9M400.7 348.7h.9M400.2 355.0h.9M400.8 357.1h.9M403.4 362.3h.9M401.9 360.6h.9M402.7 353.2h.9M402.2 346.2h.9M403.2 350.6h.9M402.1 356.8h.9M402.4 355.3h.9M403.7 354.7h.9M402.8 359.3h.9M402.4 347.9h.9M403.1 353.7h.9M400.6 356.0h.9M401.6 357.1h.9M403.7 353.3h.9M403.2 347.3h.9M403.5 361.6h.9M401.5 353.6h.9M403.5 354.6h.9M402.7 355.5h.9M402.3 355.0h.9M403.1 358.2h.9M402.5 355.9h.9M402.5 357.3h.9M403.6 350.1h.9M403.3 355.4h.9M403.4 356.0h.9M403.0 351.0h.9M402.0 354.3h.9M403.2 354.6h.9M401.0 353.5h.9M400.4 357.8h.9M402.5 357.0h.9M401.8 351.9h.9M403.1 349.1h.9M403.2 352.8h.9M403.4 362.4h.9M401.0 357.4h.9M403.4 352.5h.9M401.3 360.0h.9M403.0 351.3h.9M403.5 355.0h.9M401.7 347.4h.9M403.0 353.8h.9M402.5 357.5h.9M399.4 347.4h.9M402.5 345.5h.9M401.8 353.6h.9M402.8 349.9h.9M402.6 358.4h.9M401.7 360.8h.9M403.1 361.9h.9M403.4 358.3h.9M403.5 346.9h.9M403.0 356.9h.9M403.3 363.4h.9M401.2 350.7h.9M400.4 351.0h.9M403.1 350.7h.9M403.1 348.2h.9M401.0 347.8h.9M399.7 353.4h.9M403.2 353.8h.9M403.1 360.2h.9M403.1 354.7h.9M401.6 351.6h.9M403.4 348.2h.9M402.7 355.7h.9M399.8 356.7h.9M402.0 354.1h.9M402.4 360.8h.9M402.1 360.7h.9M402.5 350.4h.9M402.9 348.6h.9M403.4 352.6h.9M403.3 357.1h.9M403.2 346.9h.9M403.7 346.8h.9M402.5 349.0h.9M401.0 360.3h.9M401.1 352.1h.9M402.0 351.9h.9M403.6 355.1h.9M403.6 357.6h.9M400.5 355.0h.9M403.8 348.8h.9M403.4 350.1h.9M401.7 359.6h.9M401.5 348.0h.9M401.5 349.4h.9M403.7 353.2h.9M401.6 350.7h.9M402.6 351.1h.9M403.2 359.0h.9M401.5 351.8h.9M401.8 359.3h.9M402.8 362.3h.9M401.1 359.1h.9M401.3 354.9h.9M402.7 360.3h.9M403.5 361.3h.9M402.5 350.0h.9M401.2 357.9h.9M403.2 363.6h.9M403.4 356.5h.9M402.3 353.6h.9M402.7 361.9h.9M402.4 351.3h.9M400.6 359.3h.9M403.2 358.3h.9M400.7 358.5h.9M401.5 351.0h.9M403.4 361.9h.9M401.8 356.9h.9M403.7 354.1h.9M403.5 355.3h.9M403.5 358.8h.9M401.8 353.8h.9M402.0 358.8h.9M402.7 353.8h.9M403.5 355.3h.9M400.6 357.9h.9M403.1 359.7h.9M401.9 357.0h.9M403.0 363.9h.9M402.4 351.0h.9M403.2 358.9h.9M402.3 360.7h.9M403.3 362.9h.9M399.5 352.9h.9M403.1 360.6h.9M403.8 352.1h.9M402.0 347.7h.9M402.2 358.5h.9M402.3 349.9h.9M400.2 357.2h.9M403.5 346.9h.9M400.0 352.2h.9M400.5 354.4h.9M402.7 352.4h.9M403.3 357.5h.9M401.7 358.3h.9M403.0 353.6h.9M402.3 359.4h.9M403.6 355.3h.9M400.5 351.4h.9M401.2 355.5h.9M402.4 362.1h.9M403.5 354.1h.9M403.4 349.7h.9M402.8 349.9h.9M403.4 352.0h.9M402.1 354.1h.9M402.3 348.3h.9M402.5 356.7h.9M400.5 351.8h.9M401.9 356.9h.9M402.5 350.3h.9M403.2 355.1h.9M401.0 353.5h.9M402.4 360.8h.9M402.9 356.3h.9M400.9 351.9h.9M401.1 355.8h.9M402.0 349.7h.9M399.9 353.2h.9M401.4 349.4h.9M402.9 348.5h.9M402.1 351.2h.9M403.3 346.8h.9M401.3 356.7h.9M402.4 354.0h.9M403.1 351.3h.9M400.8 358.6h.9M400.8 352.6h.9M400.6 357.0h.9M399.9 352.2h.9M401.4 353.7h.9M402.1 356.7h.9M403.0 355.6h.9M401.7 358.5h.9M401.9 354.0h.9M401.1 354.3h.9M403.7 359.3h.9M402.4 350.7h.9M403.1 355.8h.9M402.4 356.2h.9M401.4 356.0h.9M401.7 355.5h.9M402.3 358.4h.9M401.7 361.1h.9M401.6 347.5h.9M403.5 348.8h.9M402.7 350.6h.9M402.8 352.9h.9M403.1 359.9h.9M401.9 347.0h.9M401.4 361.9h.9M402.8 358.5h.9M402.8 348.8h.9M401.2 350.9h.9M403.6 348.7h.9M402.5 349.4h.9M402.7 357.6h.9M403.4 353.4h.9M401.9 350.9h.9M403.4 354.8h.9M401.3 352.9h.9M401.8 355.2h.9M402.2 348.5h.9M401.3 359.4h.9M403.7 344.7h.9M402.7 348.1h.9M402.7 356.5h.9M401.2 356.1h.9M401.7 349.4h.9M402.6 351.1h.9M402.8 352.7h.9M401.3 354.1h.9M403.1 361.2h.9M402.3 353.4h.9M401.7 351.2h.9M403.4 360.7h.9M399.0 349.8h.9M400.8 354.7h.9M399.7 349.0h.9M403.7 359.2h.9M400.0 361.7h.9M402.4 357.1h.9M403.4 355.3h.9M401.9 357.7h.9M401.8 348.9h.9M400.2 351.4h.9M401.1 354.9h.9M403.6 360.1h.9M402.6 348.2h.9M401.1 356.0h.9M402.3 362.9h.9M402.5 346.9h.9M403.4 351.6h.9M403.7 361.0h.9M403.5 351.2h.9M403.4 347.9h.9M403.0 350.5h.9M403.7 346.0h.9M403.4 356.0h.9M403.7 362.5h.9M402.7 349.9h.9M403.5 359.8h.9M401.1 353.2h.9M402.9 347.5h.9M401.7 356.2h.9M402.2 354.3h.9M402.4 351.3h.9M401.6 360.1h.9M401.7 354.2h.9M402.3 358.0h.9M402.3 350.3h.9M401.5 356.8h.9M399.7 352.4h.9M403.5 347.2h.9M403.2 354.5h.9M402.7 355.4h.9M400.5 349.9h.9M403.7 347.6h.9M403.2 361.8h.9M403.1 346.9h.9M401.2 352.5h.9M402.8 355.3h.9M401.7 356.2h.9M402.5 356.0h.9M402.4 357.1h.9M402.0 353.8h.9M401.6 353.9h.9M401.3 356.7h.9M402.4 358.9h.9M401.8 358.3h.9M403.4 358.9h.9M400.0 349.0h.9M402.8 354.4h.9M403.5 357.1h.9M400.7 352.6h.9M403.1 355.5h.9M401.8 356.1h.9M402.7 347.3h.9M403.1 356.4h.9M403.3 356.4h.9M401.7 353.5h.9M403.0 357.4h.9M402.8 347.6h.9M403.8 349.2h.9M401.6 357.5h.9M401.9 357.5h.9M403.3 356.5h.9M401.4 348.2h.9M402.1 349.7h.9M403.2 357.7h.9M403.4 361.2h.9M401.6 351.4h.9M402.8 358.5h.9M403.5 351.2h.9M403.4 361.9h.9M402.8 355.3h.9M403.2 358.8h.9M403.7 346.6h.9M399.7 356.4h.9M402.0 360.4h.9M400.6 359.7h.9M401.6 356.3h.9M400.7 349.5h.9M403.0 350.2h.9M401.9 355.6h.9M403.3 352.5h.9M402.6 356.5h.9M401.2 356.5h.9M402.0 353.3h.9M400.0 355.6h.9M402.1 348.5h.9M402.1 348.9h.9M401.7 350.4h.9M402.5 357.1h.9M401.8 360.9h.9M402.2 348.3h.9M402.6 348.5h.9" stroke="#808080" stroke-width="0.9" fill="none"/>
<path d="M407.2 349.4h.9M405.8 359.0h.9M410.2 348.9h.9M411.1 347.7h.9M407.0 364.2h.9M407.8 346.3h.9M411.0 358.8h.9M409.1 348.4h.9M407.4 348.0h.9M408.0 358.9h.9M407.6 346.9h.9M407.0 349.3h.9M411.1 348.3h.9M405.5 360.8h.9M408.1 354.5h.9M405.2 357.9h.9M404.9 346.0h.9M412.0 356.4h.9M404.6 349.0h.9M405.9 357.8h.9M404.9 359.9h.9M410.9 351.1h.9M405.2 357.6h.9M404.5 359.2h.9M412.4 352.0h.9M410.1 348.8h.9M409.2 351.3h.9M407.0 349.7h.9M404.3 354.1h.9M404.4 359.3h.9M403.9 354.8h.9M404.1 352.3h.9M411.8 353.3h.9M406.1 346.5h.9M410.9 359.9h.9M410.4 361.9h.9M403.8 355.3h.9M405.9 352.7h.9M404.9 359.6h.9M406.9 345.8h.9M409.4 347.6h.9M404.6 360.4h.9M404.6 349.9h.9M408.0 364.2h.9M404.5 351.9h.9M407.1 344.2h.9M411.3 351.2h.9M404.2 358.0h.9M411.0 357.8h.9M407.9 362.1h.9M411.0 360.5h.9M405.0 354.8h.9M407.0 349.7h.9M406.8 363.2h.9M407.3 363.9h.9M410.8 354.6h.9M407.5 361.7h.9M411.2 359.9h.9M412.0 351.7h.9M407.1 345.5h.9M408.9 353.7h.9M411.9 350.6h.9M405.6 363.9h.9M408.4 353.0h.9M404.0 346.8h.9M406.7 347.3h.9M411.9 359.4h.9M406.7 361.5h.9M410.3 352.1h.9M406.9 357.9h.9M406.9 349.3h.9M407.8 356.2h.9M406.8 358.1h.9M409.5 361.7h.9M409.7 353.1h.9M406.1 355.7h.9M408.4 350.1h.9M408.1 354.7h.9M405.5 351.6h.9M405.7 353.3h.9M408.1 352.6h.9M404.2 359.5h.9M409.7 360.6h.9M409.3 345.0h.9M405.7 362.7h.9M407.3 357.5h.9M407.4 346.1h.9M404.5 356.6h.9M403.9 358.7h.9M409.2 354.5h.9M409.4 353.5h.9M410.2 359.2h.9M411.4 349.7h.9M408.0 359.1h.9M409.6 360.4h.9M404.8 350.3h.9M409.5 349.2h.9M411.3 345.0h.9M404.2 361.0h.9M409.4 360.7h.9M409.5 352.4h.9M407.7 352.8h.9M408.3 351.8h.9M406.6 348.6h.9M409.1 348.8h.9M405.3 356.5h.9M406.1 361.5h.9M411.5 352.9h.9M413.2 351.3h.9M404.3 348.2h.9M406.1 348.5h.9M409.0 349.9h.9M404.3 355.5h.9M410.4 348.4h.9M404.8 357.8h.9M406.8 347.4h.9M411.3 360.0h.9M407.8 352.0h.9M408.8 356.7h.9M404.5 353.5h.9M404.1 360.2h.9M403.9 351.7h.9M408.6 350.9h.9M408.6 352.6h.9M406.7 349.0h.9M410.6 351.4h.9M407.7 347.1h.9M406.8 362.2h.9M409.2 360.2h.9M407.3 363.7h.9M407.3 358.2h.9M405.5 359.3h.9M407.7 347.4h.9M404.2 353.9h.9M404.3 360.2h.9M403.9 349.0h.9M412.5 355.9h.9M408.0 357.0h.9M410.0 364.1h.9M409.1 358.0h.9M411.5 357.1h.9M405.6 355.2h.9M409.8 353.2h.9M408.0 349.0h.9M405.6 363.7h.9M404.2 353.7h.9M410.8 348.1h.9M412.7 355.0h.9M405.7 353.7h.9M405.3 357.6h.9M404.1 362.4h.9M407.2 364.2h.9M405.9 361.0h.9M406.0 348.5h.9M406.0 352.7h.9M411.8 351.8h.9M410.4 349.8h.9M410.7 350.9h.9M409.0 352.3h.9M406.1 363.3h.9M404.3 347.3h.9M412.4 349.5h.9M408.0 355.9h.9M408.1 344.2h.9M412.2 352.8h.9M404.4 361.8h.9M404.5 353.7h.9M407.2 348.6h.9M409.2 350.3h.9M404.5 354.7h.9M408.9 354.2h.9M407.6 357.3h.9M409.6 354.1h.9M410.0 352.9h.9M409.4 361.8h.9M410.4 358.9h.9M404.5 350.1h.9M409.0 352.2h.9M411.1 358.6h.9M410.1 355.4h.9M409.6 357.4h.9M411.4 355.5h.9M407.4 348.6h.9M410.4 359.1h.9M403.9 351.3h.9M408.2 351.0h.9M408.6 362.4h.9M404.3 345.4h.9M411.0 358.9h.9M406.8 350.3h.9M408.7 357.9h.9M408.0 360.3h.9M412.2 351.5h.9M407.9 357.7h.9M404.7 361.6h.9M409.2 356.9h.9M409.5 355.5h.9M406.7 348.4h.9M408.5 345.4h.9M406.2 355.7h.9M408.3 349.8h.9M406.5 349.3h.9M411.3 353.1h.9M410.0 352.6h.9M408.3 347.9h.9M413.9 359.6h.9M403.9 346.4h.9M406.2 351.9h.9M409.2 353.6h.9M407.7 357.1h.9M406.7 362.0h.9M406.6 359.5h.9M404.9 359.7h.9M405.5 355.4h.9M407.6 363.1h.9M406.8 345.7h.9M411.4 361.3h.9M408.4 360.5h.9M410.4 346.8h.9M405.1 362.7h.9M405.9 356.6h.9M404.3 352.8h.9M409.5 363.5h.9M407.3 348.8h.9M404.1 346.0h.9M406.2 351.5h.9M410.3 360.4h.9M407.9 347.2h.9M409.0 353.9h.9M405.4 351.0h.9M406.3 351.8h.9M404.4 349.6h.9M407.9 351.8h.9M407.7 355.6h.9M406.0 344.8h.9M411.8 351.5h.9M408.1 359.2h.9M410.3 357.5h.9M406.9 347.3h.9M409.4 358.8h.9M403.8 349.2h.9M407.1 350.8h.9M408.3 354.8h.9M406.1 352.3h.9M407.8 361.5h.9M411.0 358.9h.9M409.6 350.5h.9M408.0 362.4h.9M409.5 355.9h.9M405.9 356.5h.9M410.5 355.8h.9M404.8 351.3h.9M408.0 359.2h.9M407.5 351.1h.9M407.9 347.0h.9M412.6 357.8h.9M412.0 362.3h.9M411.2 357.4h.9M410.2 358.4h.9M406.0 355.0h.9M405.6 360.2h.9M405.9 353.7h.9M404.7 362.0h.9M404.4 357.4h.9M407.0 360.6h.9M409.6 353.1h.9M410.4 348.8h.9M406.1 346.4h.9M409.6 351.4h.9M406.8 352.4h.9M410.3 351.6h.9M406.9 364.1h.9M411.4 352.7h.9M411.1 349.2h.9M410.2 354.2h.9M404.7 348.5h.9M406.6 358.8h.9M409.7 359.3h.9M405.1 358.8h.9M404.4 362.5h.9M409.9 350.0h.9M408.9 350.0h.9M404.8 354.9h.9M411.8 347.1h.9M408.0 348.5h.9M408.1 353.8h.9M408.3 357.4h.9M412.2 355.5h.9M404.5 348.2h.9M407.7 351.6h.9M408.0 354.0h.9M405.1 358.8h.9M411.7 362.4h.9M412.0 357.9h.9M404.7 361.4h.9M408.9 348.1h.9M413.7 351.3h.9M404.4 345.4h.9M410.7 347.5h.9M407.2 354.8h.9M413.7 349.2h.9M410.5 347.9h.9M409.3 346.3h.9M408.0 351.4h.9M409.3 357.1h.9M411.1 350.5h.9M404.8 356.3h.9M411.7 351.3h.9M407.6 354.7h.9M408.2 356.1h.9M405.8 356.4h.9M407.7 344.5h.9M404.2 347.7h.9M406.9 351.1h.9M407.3 360.1h.9M410.3 360.6h.9M408.8 353.2h.9M408.3 352.1h.9M407.6 350.1h.9M409.6 362.4h.9M409.4 358.2h.9M406.9 355.2h.9M410.4 350.8h.9M405.1 356.9h.9M410.3 361.7h.9M407.9 350.9h.9M409.6 346.8h.9M412.5 350.7h.9M409.5 345.8h.9M412.4 344.8h.9M411.3 351.7h.9M405.6 357.7h.9M407.1 359.3h.9M406.2 358.8h.9M405.4 357.8h.9M405.2 351.4h.9M412.1 348.6h.9M405.7 347.0h.9M409.3 357.1h.9M411.7 357.9h.9M406.5 361.8h.9M410.7 351.8h.9M408.7 350.3h.9M404.0 361.6h.9M409.2 354.8h.9M409.2 358.0h.9M406.9 355.0h.9M409.7 353.9h.9M405.7 356.0h.9M411.7 354.1h.9M407.1 354.1h.9M410.4 360.6h.9M409.4 362.2h.9M410.6 348.5h.9M408.9 350.1h.9M412.6 351.0h.9M412.5 353.0h.9M412.9 349.3h.9M411.0 357.6h.9M409.0 350.2h.9M405.2 350.8h.9M411.6 350.6h.9M409.2 348.3h.9M409.4 355.7h.9M404.0 348.6h.9M413.6 358.9h.9M409.6 345.0h.9M410.0 354.2h.9M406.1 356.0h.9M411.3 356.6h.9M409.3 351.0h.9M408.7 357.2h.9M408.4 345.4h.9M409.7 349.4h.9M408.6 347.9h.9M406.5 350.2h.9M407.3 346.4h.9M404.7 358.1h.9M405.8 360.2h.9M404.4 362.8h.9M409.2 362.9h.9M405.5 359.0h.9M410.5 346.6h.9M411.0 355.9h.9M409.4 353.8h.9M406.3 362.5h.9M410.5 356.8h.9M404.9 359.6h.9M406.2 349.4h.9M405.2 352.1h.9M412.7 352.0h.9M406.9 359.8h.9M404.2 362.8h.9M405.0 347.0h.9M405.4 349.2h.9M412.5 357.5h.9M411.2 353.5h.9M407.0 362.4h.9M410.0 348.1h.9M407.6 363.4h.9M412.1 361.1h.9M410.4 353.5h.9M410.0 357.0h.9M405.1 351.3h.9M408.5 362.3h.9M412.1 355.0h.9M409.0 349.7h.9M406.0 346.5h.9M409.7 352.0h.9M404.2 359.3h.9M406.3 353.4h.9M407.9 355.6h.9M404.6 357.0h.9M408.2 363.7h.9M406.7 356.2h.9M408.6 357.4h.9M409.6 348.0h.9M405.5 351.1h.9M411.9 351.5h.9M404.9 351.7h.9M409.0 350.8h.9M408.5 351.4h.9M404.0 355.2h.9M412.1 358.1h.9M411.5 354.3h.9M407.0 352.6h.9M405.6 350.2h.9M411.4 346.7h.9M412.9 350.8h.9M408.8 348.7h.9M410.8 353.9h.9M404.2 352.3h.9M408.9 353.7h.9M413.2 359.1h.9M410.4 358.9h.9M411.5 352.0h.9M406.6 356.2h.9M410.4 351.1h.9M404.1 345.7h.9M405.1 356.8h.9M410.7 346.8h.9M407.5 359.5h.9M406.3 357.4h.9M409.3 350.1h.9M411.2 355.2h.9M404.9 346.8h.9M408.0 353.9h.9M408.7 346.1h.9M408.2 360.0h.9M405.4 358.7h.9M410.9 351.1h.9M413.0 359.8h.9M404.0 353.7h.9M411.7 354.8h.9M408.4 357.8h.9M407.2 360.6h.9M409.9 346.7h.9M412.1 355.3h.9M410.1 350.4h.9M408.5 362.1h.9M408.6 350.8h.9M406.0 354.7h.9M406.3 358.9h.9M406.1 346.5h.9M411.3 355.9h.9M409.3 353.4h.9M412.1 361.5h.9M410.4 358.2h.9M407.8 356.8h.9M404.6 353.5h.9M407.0 354.3h.9M408.9 347.3h.9M404.6 359.9h.9M409.4 356.8h.9M407.9 360.9h.9M412.0 357.6h.9M404.6 347.9h.9M410.8 357.6h.9M404.0 355.8h.9M404.0 359.6h.9M407.8 359.4h.9M406.1 346.9h.9M406.4 362.7h.9M406.4 362.0h.9M404.7 357.9h.9M405.5 354.8h.9M404.8 349.7h.9M411.6 348.3h.9M405.7 348.4h.9M407.8 357.0h.9M405.8 360.1h.9M408.2 360.0h.9M410.4 348.5h.9M409.7 346.5h.9M406.7 351.7h.9M404.8 358.0h.9M412.8 357.1h.9M406.7 347.4h.9M413.6 354.5h.9M405.6 351.6h.9M406.4 358.3h.9M407.5 357.9h.9M406.8 357.3h.9M408.5 350.4h.9M406.2 358.9h.9M411.5 351.7h.9M404.9 363.9h.9M405.3 357.2h.9M408.5 354.0h.9M408.1 362.2h.9M408.5 357.2h.9M410.9 357.7h.9M409.0 357.7h.9M410.1 361.3h.9M404.9 350.0h.9M408.5 346.0h.9M409.1 362.4h.9M408.7 361.1h.9M405.7 355.2h.9M411.8 357.3h.9M411.2 347.4h.9M407.7 363.1h.9M413.1 353.1h.9M407.2 361.2h.9M404.4 354.2h.9M404.6 357.7h.9M408.4 356.5h.9M404.8 351.4h.9M406.3 361.9h.9M404.9 356.1h.9M412.2 357.8h.9M411.8 357.4h.9M412.0 357.2h.9M408.6 353.5h.9M408.2 364.3h.9M412.0 354.5h.9M406.5 347.8h.9M404.7 347.0h.9M407.9 344.6h.9M407.0 353.1h.9M409.8 360.2h.9M409.0 350.0h.9M404.5 357.4h.9M407.3 348.6h.9M411.9 357.4h.9M407.1 347.9h.9M404.8 354.1h.9M405.2 363.9h.9M411.8 353.4h.9M405.6 355.1h.9M412.6 356.7h.9M407.2 351.8h.9M412.0 351.6h.9M409.4 348.5h.9M410.6 362.5h.9M404.9 353.1h.9M412.2 354.7h.9M410.1 357.9h.9M404.3 351.2h.9M410.2 360.6h.9M409.3 349.4h.9M407.1 360.2h.9M407.1 352.5h.9M407.1 362.5h.9M410.6 352.9h.9M412.0 354.7h.9M407.9 346.0h.9M410.2 355.7h.9M406.9 346.8h.9M405.3 359.9h.9M409.7 347.1h.9M407.7 361.8h.9M409.4 360.2h.9M407.2 347.3h.9M412.3 357.6h.9M407.8 362.2h.9M406.5 360.4h.9M413.4 357.1h.9M409.7 350.2h.9M407.1 354.3h.9M407.7 346.9h.9M410.1 351.6h.9M408.6 356.4h.9M408.6 348.0h.9M409.0 364.2h.9M409.2 347.7h.9M407.2 352.0h.9M408.7 346.9h.9M406.6 350.1h.9M412.8 360.0h.9M404.0 350.1h.9M406.3 362.6h.9M412.4 358.2h.9M406.4 356.0h.9M407.3 353.2h.9M407.3 355.7h.9M408.6 356.4h.9M406.3 356.8h.9M407.7 354.2h.9M409.7 359.7h.9M407.1 361.1h.9M409.5 351.2h.9M404.9 353.3h.9M410.7 354.4h.9M407.5 360.0h.9M404.7 347.4h.9M406.6 351.3h.9M409.5 348.1h.9M410.6 355.7h.9M412.7 353.2h.9M404.6 350.0h.9M408.6 358.4h.9M407.9 352.8h.9M409.2 361.9h.9M405.7 348.9h.9M405.4 364.7h.9M409.1 356.7h.9M406.6 348.8h.9M408.2 346.4h.9M412.9 351.7h.9M411.0 351.0h.9M412.3 354.2h.9M409.9 362.1h.9M408.2 360.5h.9M405.9 356.9h.9M407.8 347.2h.9M410.0 351.5h.9M410.2 347.9h.9M405.7 351.5h.9M406.9 356.8h.9M406.6 350.4h.9M410.5 350.0h.9M408.4 354.2h.9M405.8 355.8h.9M411.2 347.3h.9M404.0 347.8h.9M404.4 356.6h.9M407.7 360.0h.9M410.2 357.8h.9M407.1 349.7h.9M412.1 354.7h.9M411.0 350.9h.9M407.0 346.7h.9M404.8 356.5h.9M408.5 356.6h.9M403.9 362.2h.9M405.4 357.3h.9M407.1 350.4h.9M411.3 355.0h.9M407.0 356.1h.9M407.1 359.9h.9M405.4 351.9h.9M409.6 356.4h.9M408.5 351.7h.9M411.4 359.7h.9M408.3 356.3h.9M410.9 347.0h.9M409.9 351.4h.9M408.8 361.0h.9M408.7 358.1h.9M404.3 348.9h.9M407.9 360.1h.9M410.5 347.3h.9M404.0 350.8h.9M405.7 362.5h.9M408.1 348.8h.9M412.4 352.1h.9M404.3 354.0h.9M404.3 347.7h.9M407.5 362.9h.9M410.6 360.9h.9M405.2 352.1h.9M409.3 359.4h.9M411.8 361.6h.9M407.0 355.0h.9M405.8 359.7h.9M410.1 354.8h.9M406.7 351.9h.9M405.3 358.8h.9M408.1 352.9h.9M408.7 358.9h.9M408.3 352.6h.9M411.1 360.5h.9M410.9 360.7h.9M407.3 353.3h.9M408.2 351.7h.9M407.0 351.6h.9M409.4 362.8h.9M406.1 355.2h.9M407.8 357.1h.9M407.2 353.9h.9M404.4 353.7h.9M413.7 355.8h.9M408.5 349.9h.9M410.4 352.6h.9M404.5 348.5h.9M404.4 358.5h.9M408.7 359.4h.9M409.4 358.1h.9M406.9 348.8h.9M409.3 348.8h.9M406.4 353.5h.9M409.1 351.0h.9M404.4 352.0h.9M407.3 349.3h.9M405.0 362.6h.9M409.8 346.0h.9M409.2 359.1h.9M409.1 358.7h.9M412.2 351.8h.9M409.9 349.8h.9M404.0 346.8h.9M412.3 354.7h.9M409.9 356.2h.9M411.7 346.2h.9M409.6 355.9h.9M404.9 356.5h.9M407.8 352.3h.9M411.0 351.0h.9M406.7 350.3h.9M405.3 357.8h.9M407.2 358.9h.9M410.2 348.9h.9M411.9 358.5h.9M408.8 360.5h.9M407.7 350.4h.9M406.4 357.0h.9M405.3 346.2h.9M407.0 361.6h.9M408.2 361.4h.9M409.9 348.9h.9M411.7 359.3h.9M411.7 352.4h.9M406.8 362.2h.9M405.1 356.3h.9M406.5 361.9h.9M407.9 350.9h.9M404.8 351.9h.9M410.2 346.4h.9M406.9 358.5h.9M412.8 353.6h.9M408.4 355.0h.9M408.8 361.0h.9M411.1 356.3h.9M404.9 357.8h.9M410.6 356.7h.9M405.8 345.7h.9M410.6 349.1h.9M409.1 353.9h.9M407.1 350.7h.9M412.8 352.3h.9M411.7 355.9h.9M407.9 350.5h.9M411.5 348.2h.9M411.6 349.1h.9M412.0 350.2h.9M405.6 353.4h.9M408.2 356.5h.9M406.4 346.2h.9M412.2 347.5h.9M408.9 348.7h.9M410.1 359.8h.9M406.0 355.3h.9M409.0 348.5h.9M411.3 347.6h.9M406.8 356.6h.9M411.9 357.7h.9M405.5 348.5h.9M406.7 347.9h.9M404.5 358.0h.9M406.6 352.2h.9M411.1 350.5h.9M404.0 357.5h.9M405.9 358.0h.9M412.0 359.7h.9M406.5 358.4h.9M410.5 354.7h.9M409.1 354.6h.9M405.3 355.0h.9M403.9 360.6h.9M409.0 354.9h.9M409.8 356.3h.9M406.5 350.0h.9M404.9 350.7h.9M405.9 353.8h.9M410.8 348.8h.9M411.9 350.9h.9M412.6 353.1h.9M404.5 347.1h.9M409.0 357.3h.9M409.8 352.4h.9M405.6 362.5h.9M412.4 349.2h.9M407.4 356.1h.9M411.7 352.9h.9M411.6 351.0h.9M414.2 351.1h.9M411.2 358.6h.9M408.3 349.2h.9M410.4 360.3h.9M407.4 360.2h.9M405.2 349.1h.9M407.7 357.8h.9M407.1 355.6h.9M409.4 347.5h.9M404.5 361.0h.9M410.9 353.4h.9M410.6 348.9h.9M410.8 358.5h.9M405.1 345.7h.9M411.8 351.0h.9M405.5 346.8h.9M407.9 359.7h.9M404.0 362.4h.9M409.9 354.2h.9M409.4 350.6h.9M406.3 357.1h.9M409.9 353.9h.9M409.4 354.9h.9M412.0 353.3h.9M406.4 361.4h.9M410.7 348.7h.9M409.5 358.1h.9M410.2 359.1h.9M405.4 348.5h.9M405.3 347.2h.9M405.8 354.4h.9M408.2 361.9h.9M404.3 358.4h.9M405.4 360.2h.9M406.4 356.7h.9M409.1 352.9h.9M410.2 356.8h.9M409.1 347.1h.9M407.5 351.0h.9M406.0 353.8h.9M413.5 355.8h.9M408.1 363.6h.9M408.2 345.6h.9M404.9 358.5h.9M408.9 358.6h.9M408.0 356.8h.9M411.9 350.3h.9M409.0 360.9h.9M411.8 355.1h.9M408.7 350.3h.9M404.3 352.0h.9M413.3 353.5h.9M407.9 347.1h.9M406.0 362.3h.9M408.1 364.6h.9M407.8 360.8h.9M411.2 359.1h.9M406.6 350.6h.9M404.2 350.2h.9M404.0 354.8h.9M410.0 345.8h.9M409.4 351.4h.9M406.3 353.9h.9M404.4 346.5h.9M404.5 359.9h.9M406.9 351.0h.9M406.9 346.8h.9M404.1 352.6h.9M406.6 362.5h.9M409.9 351.1h.9M408.5 352.2h.9M409.9 359.1h.9M405.0 359.5h.9M408.2 353.5h.9M408.9 346.6h.9M409.0 360.9h.9M406.6 359.2h.9M410.8 356.8h.9M406.7 353.7h.9M410.6 353.5h.9M411.5 349.9h.9M411.3 350.6h.9M410.3 356.0h.9M410.4 357.3h.9M409.9 347.2h.9M404.3 351.5h.9M404.8 357.4h.9M408.2 357.0h.9M405.7 361.5h.9M409.5 348.6h.9M407.7 362.2h.9M406.9 351.7h.9M406.2 355.6h.9M405.2 351.7h.9M410.8 349.5h.9M411.1 350.2h.9M406.5 362.6h.9M407.9 352.7h.9M406.7 362.5h.9M412.3 349.4h.9M409.0 352.7h.9M409.2 345.8h.9M410.3 349.1h.9M408.2 349.5h.9M405.1 353.2h.9M405.6 354.5h.9M410.9 352.8h.9M410.3 353.5h.9M410.9 353.5h.9M408.1 354.2h.9M406.5 362.3h.9M409.5 345.5h.9M405.5 350.3h.9M405.0 352.6h.9M405.0 360.4h.9M408.8 349.5h.9M412.8 350.5h.9M406.3 351.8h.9M404.8 362.4h.9M411.2 346.3h.9M404.7 345.7h.9M407.4 356.9h.9M406.9 354.4h.9M406.3 348.1h.9M406.0 349.5h.9M404.5 347.1h.9M405.3 350.5h.9M412.5 353.9h.9M407.3 355.8h.9M407.6 362.1h.9M412.3 351.3h.9M405.1 349.7h.9M409.5 362.7h.9M408.6 350.0h.9M409.3 356.9h.9M408.6 355.1h.9M410.2 359.2h.9M409.2 353.5h.9M405.2 357.9h.9M404.7 362.1h.9M407.3 362.9h.9M406.7 357.9h.9M405.2 350.9h.9M405.1 349.8h.9M407.2 355.2h.9M408.8 355.2h.9M408.6 356.3h.9M410.8 360.7h.9M411.0 351.7h.9M404.3 356.5h.9M411.7 358.3h.9M411.3 355.9h.9M405.8 351.1h.9M406.4 347.9h.9M412.2 353.6h.9M407.6 361.0h.9M409.3 354.5h.9M410.1 354.6h.9M408.1 362.4h.9M405.7 347.8h.9M405.5 354.0h.9M405.6 349.2h.9M406.5 347.2h.9M411.7 351.8h.9M404.0 347.4h.9M408.0 346.9h.9M409.5 349.5h.9M407.3 362.4h.9M406.4 359.4h.9M408.9 359.7h.9M409.8 349.6h.9M411.3 351.3h.9M412.2 354.5h.9" stroke="#202020" stroke-width="0.9" fill="none"/>
<text x="374.40" y="361.70" font-size="9" text-anchor="start" font-weight="normal" fill="#2a2a2a" stroke="#2a2a2a" stroke-width="0.18" textLength="23.70" lengthAdjust="spacingAndGlyphs" transform="rotate(-90 374.40 361.70)">CD49d</text>
<rect x="443.60" y="327.30" width="53.20" height="46.30" fill="none" stroke="#4a4a4a" stroke-width="1.0"/>
<line x1="443.60" y1="373.60" x2="496.80" y2="373.60" stroke="#2a2a2a" stroke-width="1.2"/>
<line x1="443.60" y1="327.30" x2="443.60" y2="373.60" stroke="#2a2a2a" stroke-width="1.2"/>
<line x1="470.00" y1="327.30" x2="470.00" y2="373.60" stroke="#666" stroke-width="0.9"/>
<line x1="443.60" y1="357.30" x2="496.80" y2="357.30" stroke="#666" stroke-width="0.9"/>
<path d="M470.1 357.3h.9M469.4 352.6h.9M479.3 357.7h.9M479.3 366.7h.9M473.8 369.9h.9M472.2 349.2h.9M475.3 364.2h.9M472.8 345.7h.9M467.7 365.4h.9M474.7 368.9h.9M484.1 367.0h.9M480.4 353.6h.9M477.7 334.5h.9M480.5 338.4h.9M490.4 329.8h.9M466.3 370.3h.9M476.4 363.4h.9M478.4 367.2h.9M475.8 371.7h.9M483.0 372.1h.9M471.3 349.5h.9M479.9 339.4h.9M479.0 341.1h.9M478.1 360.0h.9" stroke="#b0b0b0" stroke-width="0.9" fill="none"/>
<path d="M469.6 355.0h.9M476.8 370.6h.9M472.4 363.9h.9M471.7 367.4h.9M476.3 366.8h.9M467.6 368.6h.9M473.8 337.4h.9M469.1 358.3h.9M466.6 354.2h.9M476.1 351.3h.9M467.8 359.7h.9M472.5 346.5h.9M472.5 362.9h.9M471.0 355.7h.9M478.1 358.3h.9M473.4 342.8h.9M474.6 342.1h.9M473.2 338.8h.9M473.4 356.4h.9M472.1 346.1h.9M475.3 349.9h.9M466.3 372.2h.9M469.1 349.8h.9M477.8 366.8h.9M475.3 354.3h.9M470.4 361.9h.9M470.4 357.0h.9M470.9 354.4h.9M467.5 353.6h.9M466.2 369.6h.9M459.6 354.9h.9M470.1 347.3h.9M474.5 354.7h.9M481.1 341.6h.9M478.7 365.7h.9M474.1 355.8h.9M464.5 354.4h.9M472.5 346.3h.9M477.0 346.6h.9M467.9 354.9h.9M473.6 350.1h.9M475.0 363.5h.9M470.8 347.9h.9M477.5 348.3h.9M472.2 370.2h.9M474.4 341.2h.9M476.6 348.8h.9M480.0 364.0h.9M469.1 371.9h.9M476.6 368.3h.9M472.6 371.2h.9M467.6 360.7h.9M463.8 368.9h.9M467.2 349.2h.9M474.6 365.3h.9M478.6 343.8h.9M476.2 362.2h.9M464.7 349.5h.9M476.5 345.9h.9M473.2 355.4h.9M468.0 348.9h.9M465.9 354.9h.9M484.4 345.4h.9M469.5 359.3h.9M473.3 359.3h.9M466.3 347.9h.9M468.8 351.2h.9M470.3 364.5h.9M472.2 369.3h.9M470.5 360.4h.9M472.2 371.4h.9M463.5 351.2h.9M469.7 367.8h.9M474.2 362.6h.9M479.4 366.2h.9M478.0 361.2h.9M475.3 348.0h.9M477.1 348.9h.9M476.5 367.3h.9M467.6 360.7h.9M472.0 355.7h.9M468.9 372.0h.9M467.8 360.9h.9M472.3 343.4h.9M474.5 359.0h.9M470.1 355.1h.9M469.0 352.5h.9M466.2 370.7h.9M475.9 354.8h.9M466.2 337.1h.9M467.7 353.1h.9M470.3 336.4h.9M469.5 357.1h.9M474.2 359.1h.9M474.5 356.6h.9M467.3 364.5h.9M473.2 359.9h.9M474.3 369.7h.9M471.9 340.7h.9M483.1 331.5h.9M478.1 365.8h.9M472.8 360.5h.9M476.2 366.6h.9M477.0 355.2h.9M472.9 357.6h.9M467.7 356.5h.9M469.2 366.9h.9M473.3 353.1h.9M477.9 360.4h.9M470.0 355.4h.9M476.9 352.6h.9M471.5 369.5h.9M473.1 351.7h.9M470.7 360.2h.9M474.5 356.8h.9M471.3 364.2h.9M475.9 365.8h.9M479.9 356.3h.9M474.9 367.0h.9M470.6 364.7h.9M460.0 339.8h.9M475.9 358.9h.9M469.4 368.1h.9M477.0 371.4h.9M473.4 364.3h.9M477.7 371.4h.9M476.9 364.7h.9M468.3 357.3h.9M476.4 344.7h.9M470.2 351.9h.9M468.2 358.7h.9M472.0 347.1h.9M473.8 348.6h.9M477.6 364.5h.9M468.0 363.2h.9M465.8 361.8h.9M464.8 364.8h.9" stroke="#909090" stroke-width="0.9" fill="none"/>
<path d="M468.4 370.8h.9M468.8 346.0h.9M467.4 355.9h.9M467.2 354.4h.9M464.8 358.8h.9M465.9 364.6h.9M469.7 347.8h.9M469.8 348.7h.9M464.5 360.0h.9M468.9 362.2h.9M467.2 363.7h.9M469.5 354.0h.9M469.4 359.3h.9M468.8 343.9h.9M466.8 357.9h.9M465.0 360.2h.9M467.7 369.9h.9M468.7 372.4h.9M466.7 365.0h.9M469.5 367.4h.9M469.1 352.9h.9M468.5 360.4h.9M467.9 345.0h.9M465.2 371.5h.9M467.7 366.3h.9M466.9 361.4h.9M465.8 351.5h.9M469.2 357.7h.9M469.2 365.8h.9M463.5 371.7h.9M469.5 358.6h.9M468.0 355.6h.9M467.4 361.6h.9M468.7 343.1h.9M469.4 361.0h.9M467.6 365.8h.9M469.2 352.2h.9M466.0 359.4h.9M469.7 345.9h.9M466.4 360.5h.9M469.7 359.3h.9M469.6 360.3h.9M468.8 368.1h.9M468.7 348.2h.9M465.7 347.8h.9M466.0 358.7h.9M466.0 363.2h.9M468.7 344.7h.9M468.1 344.8h.9M469.8 344.8h.9M469.8 355.3h.9M469.4 351.5h.9M467.1 367.5h.9M467.4 360.0h.9M469.7 368.8h.9M466.4 356.6h.9M468.4 370.4h.9M465.8 356.1h.9M468.5 370.2h.9M464.8 357.9h.9M468.2 360.4h.9M467.9 358.9h.9M466.7 344.6h.9M467.3 342.6h.9M466.4 360.6h.9M469.7 347.9h.9M468.9 365.0h.9M467.4 362.6h.9M469.3 364.3h.9M469.0 346.1h.9M467.2 347.9h.9M468.9 363.8h.9M467.4 353.9h.9M469.2 359.2h.9M469.8 348.6h.9M466.6 364.5h.9M467.0 343.8h.9M467.7 349.1h.9M465.1 346.7h.9M468.6 344.2h.9M469.4 364.1h.9M464.8 360.9h.9M467.2 367.0h.9M467.7 366.8h.9M467.2 359.3h.9M469.6 356.0h.9M467.4 350.4h.9M466.2 356.5h.9M468.4 370.0h.9M469.3 368.7h.9M468.4 369.9h.9M467.4 359.2h.9M468.9 363.7h.9M469.7 359.1h.9M467.2 348.7h.9M469.6 350.1h.9M466.9 367.8h.9M468.2 359.8h.9M467.6 366.0h.9M467.4 352.7h.9M469.4 364.7h.9M466.9 352.8h.9M469.5 365.6h.9M466.4 366.7h.9M468.0 347.3h.9M468.4 370.3h.9M467.5 358.9h.9M468.7 360.4h.9M468.1 371.4h.9M469.6 359.2h.9M469.2 341.9h.9M465.8 349.2h.9M465.8 353.4h.9M468.8 343.0h.9M469.1 368.5h.9M465.7 362.2h.9M469.7 352.7h.9M469.7 348.0h.9M468.3 359.9h.9M467.8 360.4h.9M469.5 351.8h.9M469.3 343.1h.9M468.4 370.7h.9M468.4 360.3h.9M467.5 356.0h.9M468.8 350.5h.9M467.6 370.1h.9M465.8 362.4h.9M469.1 354.6h.9M467.0 363.8h.9M466.2 357.0h.9M467.1 352.9h.9M468.6 343.6h.9M469.4 350.4h.9M469.2 344.3h.9M467.0 364.6h.9M467.5 371.7h.9M466.5 350.2h.9M468.5 360.9h.9M467.2 362.0h.9M466.0 354.6h.9M469.7 368.0h.9M469.2 345.0h.9M467.4 347.9h.9M468.6 358.2h.9M466.8 347.9h.9M467.0 366.8h.9M466.5 366.8h.9M469.1 353.0h.9M467.5 366.5h.9M466.9 365.2h.9M468.5 363.6h.9M468.8 368.9h.9M467.9 366.7h.9M468.4 342.6h.9M469.1 364.2h.9M468.4 345.0h.9M469.0 351.2h.9M467.1 357.3h.9M466.0 370.2h.9M468.7 364.2h.9M468.3 341.4h.9M463.6 354.7h.9M468.9 347.4h.9M466.3 354.6h.9M468.9 351.9h.9M467.8 366.1h.9M468.2 351.2h.9M465.4 352.5h.9M469.4 353.4h.9M467.3 355.7h.9M464.5 362.8h.9M466.1 363.0h.9M464.4 354.4h.9M467.9 360.5h.9M466.4 371.7h.9M469.0 362.3h.9M469.4 344.5h.9M467.9 357.4h.9M467.1 348.6h.9M464.5 360.6h.9M466.0 361.7h.9M469.5 346.8h.9M467.0 355.5h.9M469.0 359.4h.9M470.0 355.3h.9M468.9 351.8h.9M466.3 368.1h.9M466.8 365.4h.9M467.0 353.9h.9M469.3 361.1h.9M469.6 369.7h.9M469.6 360.6h.9M469.9 356.8h.9M468.1 351.2h.9M466.3 370.5h.9M468.4 348.5h.9M468.2 363.1h.9M467.2 370.6h.9M469.4 364.3h.9M469.1 344.7h.9M468.8 365.4h.9M467.3 361.1h.9M468.5 363.8h.9M467.1 362.3h.9M467.5 362.1h.9M469.3 359.3h.9M469.2 361.3h.9M467.7 362.6h.9M468.7 350.6h.9M465.8 352.1h.9M467.0 358.3h.9M468.9 342.1h.9M464.4 360.4h.9M464.6 363.8h.9M465.3 354.0h.9M467.3 352.3h.9M465.5 367.4h.9M468.3 369.0h.9M466.3 370.2h.9M469.4 363.6h.9M468.4 350.6h.9M466.3 368.2h.9M470.0 350.7h.9M467.9 362.9h.9M465.1 364.0h.9M464.4 363.5h.9M469.5 350.6h.9M468.6 354.3h.9M469.9 367.8h.9M467.5 360.3h.9M465.5 360.4h.9M469.6 356.5h.9M464.5 347.7h.9M468.6 357.1h.9M467.5 371.5h.9M465.6 360.8h.9M468.6 366.3h.9M466.4 364.2h.9M465.0 371.0h.9M464.8 361.4h.9M466.8 370.9h.9M468.9 369.2h.9M469.7 349.3h.9M467.3 360.7h.9M469.6 354.4h.9M469.5 342.5h.9M469.2 343.0h.9M468.4 371.1h.9M468.0 358.8h.9M469.7 342.5h.9M468.3 369.4h.9M465.5 347.2h.9M468.7 360.6h.9M464.9 364.4h.9M466.5 350.3h.9M468.3 354.7h.9M467.6 350.5h.9M468.8 357.5h.9M469.5 370.9h.9M464.5 352.6h.9M469.7 362.1h.9M467.6 352.6h.9M469.7 350.3h.9M469.0 346.2h.9M468.0 367.8h.9M469.8 368.7h.9M467.4 351.5h.9M469.4 359.5h.9M465.4 369.9h.9M469.8 351.3h.9M467.3 367.7h.9M469.7 369.9h.9M466.7 369.8h.9M469.3 357.6h.9M469.8 354.4h.9M466.6 365.4h.9M469.6 370.3h.9M468.5 363.5h.9M466.5 350.0h.9M466.4 357.9h.9M469.8 347.3h.9M466.3 348.4h.9M466.0 354.0h.9M469.1 360.1h.9M467.0 363.3h.9M468.4 354.2h.9M468.7 364.8h.9M466.9 361.6h.9M466.8 349.7h.9M467.0 369.9h.9M468.3 345.3h.9M469.9 341.2h.9M469.7 350.8h.9M468.7 344.0h.9M468.4 352.9h.9M467.4 361.5h.9M467.1 352.2h.9M469.2 343.9h.9M465.5 364.3h.9M466.2 365.7h.9M469.9 359.2h.9M467.5 366.1h.9M467.0 354.2h.9M465.2 367.3h.9M469.5 354.1h.9M468.9 346.0h.9M467.6 372.1h.9M469.6 347.8h.9M468.3 351.2h.9M469.7 344.8h.9M469.2 349.3h.9M466.2 370.5h.9M468.7 359.6h.9M469.6 364.6h.9M468.5 370.5h.9M466.6 367.0h.9M465.2 366.8h.9M465.7 359.0h.9M466.2 363.3h.9M469.3 361.1h.9M467.3 365.2h.9M469.4 363.0h.9M465.6 359.4h.9M468.9 355.4h.9M463.9 348.8h.9M467.1 359.2h.9M466.1 366.0h.9M465.2 366.9h.9M469.9 355.7h.9M465.6 354.2h.9M467.8 351.3h.9M465.6 352.5h.9M467.2 360.3h.9M467.0 345.4h.9M469.4 351.6h.9M468.0 341.1h.9M469.9 364.9h.9M468.8 355.9h.9M468.4 354.6h.9M466.5 365.5h.9M463.8 363.8h.9M468.0 347.8h.9M467.7 350.5h.9M467.1 345.8h.9M469.4 343.9h.9M468.6 343.7h.9M467.2 352.1h.9M468.2 358.5h.9M468.2 368.4h.9M469.5 357.1h.9M469.9 363.0h.9M467.1 356.5h.9M466.8 369.3h.9M467.0 356.3h.9M467.4 353.9h.9M465.1 360.1h.9M465.9 352.2h.9M465.2 353.3h.9M466.6 354.2h.9M465.0 352.8h.9M469.6 345.7h.9M467.3 367.8h.9M467.7 357.5h.9M468.4 357.8h.9M466.7 366.9h.9M468.2 347.6h.9M469.9 366.7h.9M466.4 367.7h.9M468.8 360.7h.9M467.4 353.6h.9M467.0 368.0h.9M468.5 344.2h.9M469.8 346.7h.9M468.0 353.2h.9M468.1 366.9h.9M466.2 359.1h.9M470.0 347.2h.9M466.5 357.4h.9M465.5 350.5h.9M469.5 349.1h.9M465.9 370.1h.9M469.6 370.9h.9M468.7 353.1h.9M467.8 362.3h.9M467.7 371.4h.9M468.8 366.4h.9M466.9 365.9h.9M470.0 348.6h.9M469.2 360.0h.9M469.5 372.0h.9M469.3 369.8h.9M466.3 364.3h.9M467.6 361.7h.9M466.2 355.3h.9M467.6 351.5h.9M468.0 349.0h.9M466.1 350.5h.9M468.6 345.6h.9M466.4 352.3h.9M465.1 347.0h.9M468.5 347.6h.9M465.9 368.8h.9M466.6 357.1h.9M469.6 355.4h.9M467.9 352.4h.9M467.7 342.8h.9M467.0 347.9h.9M466.0 350.6h.9M467.0 367.1h.9M467.7 362.0h.9M466.8 344.6h.9M467.8 369.0h.9M467.3 352.6h.9M469.9 360.9h.9M468.3 341.9h.9M468.5 370.1h.9M467.7 346.2h.9M469.1 350.1h.9M467.4 367.4h.9M469.2 361.5h.9M466.4 351.1h.9M468.8 343.7h.9M466.1 348.7h.9M469.1 357.8h.9M469.7 344.8h.9M469.9 355.9h.9M467.2 352.5h.9M469.8 358.6h.9M469.0 352.2h.9M465.7 365.1h.9M470.0 348.0h.9M467.1 347.0h.9M466.9 366.0h.9M467.0 371.5h.9M468.5 361.1h.9M469.2 369.5h.9M468.0 371.5h.9M467.5 349.7h.9M466.6 362.3h.9M466.8 355.1h.9M469.1 358.7h.9M469.5 355.5h.9M469.1 350.6h.9M470.0 362.9h.9M466.0 372.5h.9M467.2 364.8h.9M469.3 348.9h.9M465.5 363.0h.9M466.7 350.4h.9M465.7 352.1h.9M469.0 367.7h.9M469.3 368.3h.9M467.0 350.3h.9M466.2 344.2h.9M469.6 356.4h.9M469.8 362.8h.9M468.5 345.1h.9M468.0 369.8h.9M469.9 348.8h.9M469.8 344.4h.9M467.4 367.2h.9M468.5 351.6h.9M466.6 360.4h.9M469.6 358.0h.9M468.0 366.2h.9M469.3 371.3h.9M468.7 342.6h.9M467.2 348.9h.9M469.0 339.6h.9M468.7 361.8h.9M466.6 357.0h.9M464.9 365.0h.9M467.5 354.4h.9M464.6 366.4h.9M469.2 353.1h.9M469.6 357.0h.9M468.4 372.6h.9M465.2 357.6h.9M467.5 364.4h.9M468.2 359.3h.9M469.8 351.7h.9M469.8 364.1h.9M469.7 348.6h.9M465.8 356.7h.9M467.6 357.5h.9M465.9 367.5h.9M468.1 352.2h.9M467.2 356.7h.9M467.4 370.2h.9M466.5 359.9h.9M465.4 351.9h.9M464.7 367.9h.9M466.9 370.0h.9M467.7 348.6h.9M469.8 346.3h.9M467.3 370.0h.9" stroke="#808080" stroke-width="0.9" fill="none"/>
<path d="M476.5 350.1h.9M474.2 369.5h.9M475.7 369.6h.9M472.7 370.2h.9M471.1 351.9h.9M471.4 349.5h.9M470.5 352.7h.9M474.9 342.1h.9M478.4 364.0h.9M476.5 348.4h.9M475.0 363.8h.9M472.1 352.5h.9M477.0 356.2h.9M472.8 371.9h.9M473.1 354.3h.9M475.4 359.7h.9M473.7 353.4h.9M473.2 355.1h.9M470.5 350.0h.9M474.3 344.9h.9M474.4 371.3h.9M476.7 353.5h.9M473.5 370.6h.9M471.1 344.0h.9M472.3 366.3h.9M471.4 367.7h.9M476.0 357.9h.9M470.7 350.1h.9M472.6 345.2h.9M474.8 367.2h.9M471.8 351.0h.9M477.3 371.5h.9M474.6 343.2h.9M475.8 346.9h.9M472.6 358.1h.9M474.4 352.8h.9M476.0 351.7h.9M474.1 358.1h.9M477.2 356.6h.9M474.5 360.4h.9M470.3 354.1h.9M476.0 352.6h.9M475.8 369.9h.9M471.0 366.0h.9M473.2 347.3h.9M471.0 345.0h.9M474.7 370.6h.9M470.1 353.4h.9M473.3 345.5h.9M474.6 360.6h.9M475.7 366.7h.9M475.9 358.2h.9M471.2 354.1h.9M475.5 356.0h.9M471.9 347.8h.9M475.4 344.9h.9M475.0 368.1h.9M475.0 356.5h.9M470.7 346.8h.9M474.9 348.4h.9M474.7 359.8h.9M472.7 361.4h.9M474.9 347.6h.9M476.6 371.6h.9M472.1 350.2h.9M470.7 363.5h.9M472.6 370.9h.9M474.3 363.4h.9M470.6 352.7h.9M470.1 340.7h.9M470.7 354.0h.9M470.4 355.6h.9M474.1 352.7h.9M475.7 362.2h.9M470.2 363.4h.9M471.8 360.0h.9M473.2 367.5h.9M473.5 358.7h.9M471.4 357.8h.9M473.6 364.8h.9M471.9 353.1h.9M475.8 356.6h.9M470.6 360.4h.9M472.6 342.7h.9M475.7 363.2h.9M472.7 366.7h.9M475.0 358.9h.9M473.9 343.3h.9M472.0 344.2h.9M472.9 356.3h.9M474.0 365.5h.9M473.4 354.0h.9M470.7 355.5h.9M477.3 347.7h.9M474.9 364.9h.9M476.8 345.1h.9M471.7 352.2h.9M474.9 371.2h.9M473.3 353.3h.9M472.6 341.8h.9M473.6 355.4h.9M473.5 368.0h.9M472.5 364.7h.9M473.1 371.2h.9M471.1 344.7h.9M474.6 361.3h.9M472.0 350.0h.9M474.9 358.2h.9M470.1 368.6h.9M470.1 362.5h.9M474.1 362.9h.9M471.3 349.8h.9M472.6 352.0h.9M473.9 346.6h.9M476.6 363.2h.9M470.1 356.8h.9M470.9 361.8h.9M475.1 355.3h.9M473.8 361.5h.9M473.8 347.4h.9M473.0 344.6h.9M471.4 364.0h.9M475.6 369.8h.9M470.5 357.8h.9M472.2 353.0h.9M471.9 368.0h.9M475.4 356.2h.9M475.6 351.5h.9M473.4 345.9h.9M475.9 367.2h.9M471.0 359.7h.9M475.6 368.8h.9M470.0 347.2h.9M473.7 341.0h.9M475.8 359.8h.9M476.4 355.7h.9M474.2 359.4h.9M476.5 355.0h.9M473.1 358.2h.9M475.3 371.4h.9M478.1 359.7h.9M474.0 367.8h.9M474.3 358.5h.9M470.5 365.6h.9M476.0 358.0h.9M473.7 353.3h.9M474.4 346.1h.9M471.2 364.0h.9M472.1 362.0h.9M473.2 349.6h.9M471.2 359.8h.9M474.4 350.0h.9M473.6 354.9h.9M472.2 360.7h.9M474.2 345.4h.9M477.8 358.5h.9M473.5 342.3h.9M474.5 344.1h.9M475.3 369.4h.9M472.2 344.2h.9M471.3 364.5h.9M472.8 371.8h.9M473.1 365.9h.9M476.2 348.8h.9M475.3 357.0h.9M470.6 363.5h.9M471.8 357.7h.9M476.4 353.0h.9M471.3 346.2h.9M475.6 363.7h.9M475.7 360.9h.9M478.5 358.0h.9M470.2 343.6h.9M476.2 348.8h.9M474.4 368.4h.9M475.6 345.0h.9M475.1 361.0h.9M473.1 351.2h.9M476.0 370.3h.9M473.3 364.5h.9M471.2 348.7h.9M473.3 368.4h.9M472.2 367.7h.9M473.0 345.1h.9M474.2 366.1h.9M471.5 362.4h.9M472.2 345.6h.9M471.5 346.5h.9M470.6 342.0h.9M474.8 366.8h.9M470.8 356.7h.9M472.6 362.5h.9M473.2 361.5h.9M475.5 369.3h.9M475.5 344.3h.9M477.0 350.2h.9M472.3 361.0h.9M475.7 351.0h.9M475.7 368.4h.9M470.9 347.4h.9M471.2 358.5h.9M470.5 351.1h.9M471.7 355.9h.9M472.2 354.1h.9M470.5 357.3h.9M472.7 361.2h.9M475.3 357.9h.9M471.4 368.1h.9M471.4 362.5h.9M471.2 360.2h.9M470.7 360.0h.9M475.5 347.4h.9M470.2 355.0h.9M474.4 347.9h.9M476.8 364.9h.9M472.7 360.0h.9M475.3 357.1h.9M470.4 347.0h.9M473.5 363.7h.9M475.1 352.7h.9M474.8 348.7h.9M472.5 356.9h.9M472.8 357.2h.9M476.9 355.0h.9M472.2 366.0h.9M472.0 357.8h.9M473.1 371.3h.9M474.1 357.2h.9M472.6 356.8h.9M471.3 345.8h.9M475.1 342.8h.9M470.9 343.8h.9M473.7 347.5h.9M473.5 368.0h.9M474.2 369.4h.9M478.0 363.3h.9M470.8 371.9h.9M476.3 351.8h.9M471.4 364.1h.9M472.0 352.0h.9M477.3 367.1h.9M471.8 351.9h.9M474.6 366.0h.9M474.3 361.1h.9M474.2 371.0h.9M472.2 357.7h.9M470.7 355.8h.9M473.9 354.3h.9M473.6 357.0h.9M477.5 353.8h.9M472.3 363.7h.9M472.5 369.3h.9M478.0 369.1h.9M476.6 357.3h.9M475.1 358.0h.9M478.5 368.0h.9M478.8 357.9h.9M474.1 359.1h.9M475.6 353.4h.9M475.4 360.2h.9M477.2 362.3h.9M474.5 371.0h.9M472.7 349.5h.9M473.9 363.5h.9M472.7 366.4h.9M474.0 365.5h.9M471.6 352.3h.9M475.4 372.4h.9M475.2 348.1h.9M473.4 364.5h.9M470.3 350.7h.9M476.6 367.6h.9M472.8 359.3h.9M477.6 360.8h.9M474.3 362.7h.9M472.4 372.2h.9M476.0 362.1h.9M470.1 366.0h.9M470.0 353.1h.9M472.6 368.9h.9M472.4 352.7h.9M472.2 346.1h.9M473.2 343.9h.9M476.9 369.0h.9M474.1 358.7h.9M472.9 346.3h.9M474.6 368.3h.9M474.4 355.2h.9M470.7 360.6h.9M471.6 348.8h.9M475.2 360.8h.9M470.6 346.0h.9M474.0 370.6h.9M477.1 368.2h.9M473.9 342.0h.9M472.7 359.6h.9M473.3 343.5h.9M471.7 344.4h.9M471.5 356.1h.9M474.0 349.8h.9M470.3 359.4h.9M470.4 372.1h.9M470.6 347.9h.9M471.2 343.7h.9M471.2 343.7h.9M470.4 369.5h.9M475.4 356.5h.9M470.6 356.7h.9M471.2 344.2h.9M474.3 362.1h.9M471.2 348.1h.9M470.3 364.1h.9M473.1 356.9h.9M473.8 357.8h.9M472.5 340.7h.9M470.6 362.5h.9M472.8 370.0h.9M474.7 365.4h.9M473.5 346.4h.9M472.7 358.7h.9M470.1 344.6h.9M477.5 357.3h.9M470.2 342.3h.9M473.6 353.3h.9M473.4 365.0h.9M473.7 368.0h.9M477.0 372.2h.9M474.2 345.3h.9M471.3 353.5h.9M470.8 367.5h.9M476.8 358.1h.9M471.1 350.3h.9M475.7 349.0h.9M476.3 351.5h.9M474.2 371.8h.9M472.1 360.4h.9M478.8 363.6h.9M474.2 365.5h.9M475.4 347.6h.9M476.1 361.9h.9M470.6 362.8h.9M471.2 350.9h.9M472.8 366.5h.9M474.3 351.9h.9M474.3 362.1h.9M470.7 342.6h.9M471.5 338.9h.9M473.8 362.2h.9M470.7 369.5h.9M471.2 355.9h.9M470.6 354.1h.9M472.3 349.3h.9M476.2 351.0h.9M472.5 359.1h.9M476.4 346.6h.9M473.8 350.0h.9M476.2 348.0h.9M476.2 362.1h.9M473.6 361.7h.9M472.0 358.7h.9M473.4 363.8h.9M475.1 360.4h.9M475.3 343.1h.9M476.2 369.9h.9M472.4 359.5h.9M472.4 363.4h.9M474.1 365.6h.9M472.1 356.0h.9M473.1 350.8h.9M473.5 364.8h.9M470.8 355.0h.9M472.4 344.7h.9M473.1 346.0h.9M473.6 350.0h.9M470.2 366.8h.9M472.7 361.4h.9M472.9 359.2h.9M474.8 352.9h.9M470.0 372.6h.9M475.1 363.9h.9M475.4 352.2h.9M477.4 353.2h.9M471.3 368.4h.9M470.2 357.4h.9M476.1 369.0h.9M476.4 365.5h.9M477.8 359.7h.9M471.9 359.5h.9M477.4 367.1h.9M473.3 344.8h.9M473.3 368.4h.9M475.5 362.9h.9M471.2 361.9h.9M472.7 342.6h.9M475.4 353.4h.9M475.5 349.1h.9M476.4 353.6h.9M477.4 356.5h.9M474.0 366.1h.9M473.1 366.7h.9M470.2 364.0h.9M472.2 347.4h.9M476.5 355.8h.9M474.4 344.4h.9M471.2 344.3h.9M471.9 368.5h.9M471.5 351.0h.9M471.2 369.6h.9M472.3 347.7h.9M470.6 370.0h.9M475.6 351.4h.9M472.7 367.7h.9M474.7 345.3h.9M470.2 349.1h.9M473.1 368.9h.9M471.7 342.5h.9M470.5 363.0h.9M473.9 344.1h.9M474.6 349.4h.9M470.5 367.0h.9M470.3 342.1h.9M475.1 343.8h.9M470.2 348.0h.9M471.7 369.8h.9M470.1 351.2h.9M470.6 356.1h.9M470.5 355.8h.9M473.2 343.8h.9M477.0 370.7h.9M472.4 347.8h.9M474.0 365.6h.9M470.2 365.3h.9M470.8 360.1h.9M472.8 355.1h.9M470.4 352.6h.9M471.1 372.3h.9M473.9 368.6h.9M475.2 353.4h.9M475.7 361.0h.9M476.0 358.3h.9M473.5 353.1h.9M470.9 369.2h.9M476.2 372.5h.9M475.4 358.3h.9M470.8 361.4h.9M471.1 347.9h.9M476.1 357.3h.9M475.3 358.5h.9M471.5 371.8h.9M474.5 343.2h.9M470.7 365.9h.9M476.9 355.5h.9M477.3 360.5h.9M473.6 367.0h.9M471.5 359.9h.9M474.2 364.8h.9M474.3 353.7h.9M473.1 355.5h.9M474.2 348.1h.9M471.0 355.8h.9M476.9 347.7h.9M471.4 366.8h.9M473.1 371.0h.9M476.0 362.9h.9M471.2 370.9h.9M475.5 345.2h.9M471.0 361.7h.9M474.1 345.7h.9M475.6 346.7h.9M473.3 350.7h.9M474.7 349.5h.9M474.3 361.4h.9M473.4 366.2h.9M473.1 348.7h.9M472.9 353.3h.9M474.1 352.7h.9M473.3 364.6h.9M477.3 350.2h.9M477.9 365.0h.9M474.0 363.5h.9M474.4 369.0h.9M470.4 359.6h.9M473.8 354.3h.9M470.5 346.0h.9M474.1 372.4h.9M472.4 349.9h.9M471.2 370.9h.9M475.1 360.8h.9M471.5 371.2h.9M473.0 357.3h.9M477.0 363.9h.9M471.3 371.6h.9M476.8 363.6h.9M472.0 362.0h.9M472.3 372.4h.9M474.9 342.8h.9M473.8 345.7h.9M471.9 366.6h.9M473.5 370.1h.9M474.3 345.8h.9M470.5 366.0h.9M475.3 346.9h.9M474.8 372.1h.9M475.4 369.2h.9M474.5 355.6h.9M470.7 358.7h.9M470.9 370.8h.9M472.1 367.0h.9M470.4 346.8h.9M476.0 357.4h.9M475.8 351.7h.9M470.4 370.9h.9M476.0 356.1h.9M476.6 359.1h.9M472.7 341.9h.9M474.2 343.6h.9M473.8 343.2h.9M470.5 360.8h.9M472.5 363.6h.9M472.2 364.5h.9M473.3 351.2h.9M471.5 369.1h.9M475.0 348.4h.9M475.9 343.2h.9M477.7 356.3h.9M475.1 345.9h.9M474.3 372.0h.9M475.8 358.4h.9M472.0 351.9h.9M470.4 341.6h.9M470.4 345.2h.9M471.8 366.6h.9M471.3 347.1h.9M474.4 367.0h.9M475.5 346.6h.9M473.6 347.9h.9M477.2 369.1h.9M473.2 365.5h.9M475.5 368.1h.9M473.6 361.3h.9M472.4 357.8h.9M470.7 358.6h.9M470.0 345.7h.9M474.3 367.9h.9M472.2 351.9h.9M475.1 354.5h.9M470.1 350.0h.9M472.6 347.5h.9M473.3 367.3h.9M475.7 364.8h.9M471.3 358.6h.9M472.8 362.4h.9M473.7 346.3h.9M475.0 344.9h.9M472.9 364.8h.9M472.7 346.9h.9M474.3 353.1h.9M472.7 349.9h.9M470.5 371.5h.9M471.8 353.8h.9M473.9 350.3h.9M476.3 368.7h.9M474.9 356.4h.9M471.1 350.7h.9M473.1 359.8h.9M472.7 368.5h.9M475.0 362.5h.9M476.2 352.0h.9M474.5 353.5h.9M475.5 352.7h.9M471.5 353.2h.9M473.6 357.2h.9M478.7 349.4h.9M472.8 349.5h.9M471.1 360.3h.9M475.7 368.5h.9M473.0 350.0h.9M474.4 354.3h.9M470.2 368.5h.9M476.7 352.3h.9M471.0 370.5h.9M476.8 366.4h.9M474.9 352.8h.9M473.8 345.0h.9M471.3 358.4h.9M473.1 366.5h.9M473.0 357.8h.9M473.6 348.4h.9M471.6 346.7h.9M471.2 356.4h.9M473.7 372.4h.9M471.9 351.2h.9M476.9 351.0h.9M472.0 370.5h.9M474.2 363.4h.9M470.6 351.9h.9M470.0 348.0h.9M470.4 347.9h.9M473.3 344.3h.9M475.4 364.2h.9M471.9 358.7h.9M476.5 359.4h.9M475.0 365.1h.9M471.1 342.9h.9M473.5 369.4h.9M476.7 356.3h.9M470.2 368.6h.9M471.6 366.3h.9M475.3 355.6h.9M475.1 360.9h.9M470.7 346.5h.9M473.6 347.9h.9M473.3 342.4h.9M478.0 365.9h.9M473.0 361.7h.9M473.7 353.2h.9M476.7 351.4h.9M476.3 371.4h.9M477.1 356.6h.9M471.0 354.0h.9M475.5 368.6h.9M472.9 363.7h.9M473.5 352.6h.9M471.5 360.1h.9M473.2 353.3h.9M474.4 351.9h.9M471.3 362.4h.9M470.8 354.1h.9M474.6 358.2h.9M475.2 359.2h.9M472.2 355.6h.9M475.2 364.3h.9M470.9 342.6h.9M474.6 350.3h.9M474.1 372.2h.9M476.8 354.0h.9M476.8 358.0h.9M474.9 348.0h.9M473.2 346.1h.9M470.9 354.6h.9M470.1 358.6h.9M475.0 372.1h.9M470.6 355.8h.9M470.5 370.0h.9M474.0 365.8h.9M474.8 358.2h.9M471.5 342.5h.9M475.2 371.9h.9M474.1 358.8h.9M470.1 347.3h.9M474.7 365.2h.9M476.9 359.6h.9M474.4 356.6h.9M470.5 360.8h.9M471.2 343.9h.9M475.9 343.7h.9M474.7 348.0h.9M474.0 346.4h.9M474.7 352.4h.9M471.8 371.5h.9M474.5 355.8h.9M471.0 350.5h.9M471.0 353.8h.9M476.0 351.5h.9M472.5 369.6h.9M474.0 353.7h.9M474.8 355.2h.9M472.1 364.6h.9M472.0 352.4h.9M472.4 360.2h.9M472.8 344.9h.9M470.0 354.1h.9M472.2 360.2h.9M473.4 361.8h.9M471.6 354.0h.9M470.1 351.0h.9M474.1 364.2h.9M471.2 372.0h.9M476.0 366.0h.9M472.5 370.9h.9M472.8 367.2h.9M473.7 344.2h.9M471.0 348.5h.9M475.6 346.9h.9M475.0 357.7h.9M473.5 371.2h.9M471.5 370.8h.9M471.5 354.1h.9M470.7 357.5h.9M472.9 362.4h.9M471.9 346.8h.9M473.3 345.1h.9M470.0 365.9h.9M474.3 363.7h.9M477.0 356.8h.9M472.5 370.0h.9M476.2 353.5h.9M476.9 359.5h.9M476.2 365.5h.9M470.6 351.8h.9M470.3 354.0h.9M471.7 356.9h.9M474.9 361.1h.9M471.5 364.1h.9M476.6 365.5h.9M470.1 371.5h.9M473.7 341.8h.9M472.3 342.8h.9M471.5 353.7h.9M475.7 346.4h.9M476.6 352.7h.9M470.3 353.7h.9M476.8 368.3h.9M476.3 360.6h.9M471.1 363.3h.9M471.9 354.7h.9M473.6 367.3h.9M477.2 361.5h.9M473.4 357.7h.9M470.4 364.5h.9M470.6 367.0h.9M474.9 363.3h.9M473.6 351.0h.9M475.3 364.1h.9M476.0 346.1h.9M475.3 354.4h.9M474.5 367.5h.9M474.8 366.0h.9M477.3 355.1h.9M472.3 348.1h.9M472.6 349.4h.9M470.1 361.9h.9M475.8 366.4h.9M472.7 352.9h.9M472.9 343.1h.9M472.6 368.0h.9M477.0 370.1h.9M476.5 359.4h.9M476.2 362.7h.9M473.7 344.4h.9M471.7 343.4h.9M473.2 359.2h.9M475.6 368.5h.9M476.8 350.5h.9M473.7 362.6h.9M473.6 356.9h.9M476.5 365.6h.9M470.5 349.0h.9M470.0 345.8h.9M472.5 371.3h.9M472.6 347.5h.9M470.5 345.1h.9M470.4 355.7h.9M473.7 341.1h.9M474.5 364.2h.9M471.9 362.5h.9M474.3 370.9h.9M473.4 368.5h.9M470.6 365.7h.9M473.4 361.2h.9M474.5 366.2h.9M471.9 369.8h.9M471.8 368.7h.9M478.4 367.5h.9M471.6 346.6h.9M473.4 371.4h.9M470.0 362.3h.9M476.3 358.7h.9M478.7 366.1h.9M475.3 363.7h.9M475.5 361.4h.9M470.4 351.7h.9M471.9 371.2h.9M470.9 354.7h.9M477.1 354.4h.9M472.5 355.9h.9M475.6 370.2h.9M472.1 344.8h.9M472.8 343.8h.9M472.9 353.5h.9M472.0 347.8h.9M474.8 345.5h.9M473.0 358.0h.9M473.6 361.4h.9M477.5 364.4h.9M474.2 349.0h.9M475.6 369.5h.9M474.7 343.0h.9M473.2 358.0h.9M471.9 343.7h.9M473.2 368.4h.9M475.2 347.3h.9M475.4 369.6h.9M470.5 353.3h.9M472.3 363.8h.9M473.9 354.3h.9M474.9 359.4h.9M471.1 362.5h.9M471.2 355.8h.9M471.3 344.1h.9M476.4 349.0h.9M476.3 355.1h.9M470.1 363.1h.9M475.1 365.9h.9M475.7 363.1h.9M471.8 370.9h.9M474.7 367.0h.9M473.4 370.7h.9M474.6 344.5h.9M471.1 352.5h.9M473.1 356.9h.9M475.9 370.7h.9M475.2 356.3h.9M471.7 371.1h.9M470.1 350.9h.9M476.9 365.6h.9M470.0 369.1h.9M470.8 339.7h.9M475.4 368.8h.9M470.6 357.6h.9M474.3 343.9h.9M474.3 370.8h.9M472.8 370.8h.9M473.5 341.4h.9M477.1 368.5h.9M470.3 371.2h.9M477.2 354.3h.9M473.9 366.9h.9M472.7 364.3h.9M473.8 370.0h.9M476.3 370.6h.9M475.1 354.1h.9M470.8 342.9h.9M472.5 371.7h.9M470.2 365.2h.9M472.8 357.5h.9M475.2 361.7h.9M471.9 351.2h.9M472.9 347.5h.9M474.4 358.9h.9M471.0 347.7h.9M474.7 365.0h.9M470.2 349.2h.9M472.8 362.8h.9M475.9 354.5h.9M475.5 366.5h.9M475.1 347.2h.9M472.2 366.4h.9M470.2 356.9h.9M474.0 352.2h.9M471.2 344.7h.9M471.6 359.8h.9M475.1 364.6h.9M476.5 365.1h.9M471.7 371.1h.9M476.8 365.8h.9M475.9 355.5h.9M473.9 365.6h.9M471.0 364.2h.9M475.7 347.0h.9M470.4 356.5h.9M475.0 345.1h.9M475.1 359.2h.9M474.8 354.5h.9M472.1 353.7h.9M471.1 359.5h.9M474.3 349.1h.9M471.4 346.6h.9M473.6 343.0h.9M473.7 369.8h.9M472.7 349.6h.9M472.2 365.7h.9M471.5 358.4h.9M479.3 355.2h.9M473.7 362.8h.9M477.8 353.5h.9M471.4 357.8h.9M474.4 359.2h.9M470.4 360.0h.9M470.3 347.7h.9" stroke="#202020" stroke-width="0.9" fill="none"/>
<text x="441.30" y="361.70" font-size="9" text-anchor="start" font-weight="normal" fill="#2a2a2a" stroke="#2a2a2a" stroke-width="0.18" textLength="23.90" lengthAdjust="spacingAndGlyphs" transform="rotate(-90 441.30 361.70)">CD62L</text>
<line x1="310" y1="380.6" x2="497" y2="380.6" stroke="#222" stroke-width="1.3" marker-end="url(#arr)"/>
<text x="392.30" y="389.30" font-size="9" text-anchor="start" font-weight="normal" fill="#2a2a2a" stroke="#2a2a2a" stroke-width="0.18" textLength="26.20" lengthAdjust="spacingAndGlyphs">ZAP-70</text>
<text x="12.40" y="418.10" font-size="15.6" text-anchor="start" font-weight="bold" fill="#111">D</text>
<line x1="64.70" y1="429.20" x2="64.70" y2="505.90" stroke="#333" stroke-width="1.3"/>
<line x1="62.30" y1="429.20" x2="64.70" y2="429.20" stroke="#333" stroke-width="1.1"/>
<text x="61.70" y="432.50" font-size="9.6" text-anchor="end" font-weight="normal" fill="#333" stroke="#333" stroke-width="0.3" textLength="14.40" lengthAdjust="spacingAndGlyphs">500</text>
<line x1="62.30" y1="444.60" x2="64.70" y2="444.60" stroke="#333" stroke-width="1.1"/>
<text x="61.70" y="447.90" font-size="9.6" text-anchor="end" font-weight="normal" fill="#333" stroke="#333" stroke-width="0.3" textLength="14.40" lengthAdjust="spacingAndGlyphs">400</text>
<line x1="62.30" y1="460.00" x2="64.70" y2="460.00" stroke="#333" stroke-width="1.1"/>
<text x="61.70" y="463.30" font-size="9.6" text-anchor="end" font-weight="normal" fill="#333" stroke="#333" stroke-width="0.3" textLength="14.40" lengthAdjust="spacingAndGlyphs">300</text>
<line x1="62.30" y1="475.30" x2="64.70" y2="475.30" stroke="#333" stroke-width="1.1"/>
<text x="61.70" y="478.60" font-size="9.6" text-anchor="end" font-weight="normal" fill="#333" stroke="#333" stroke-width="0.3" textLength="14.40" lengthAdjust="spacingAndGlyphs">200</text>
<line x1="62.30" y1="490.60" x2="64.70" y2="490.60" stroke="#333" stroke-width="1.1"/>
<text x="61.70" y="493.90" font-size="9.6" text-anchor="end" font-weight="normal" fill="#333" stroke="#333" stroke-width="0.3" textLength="14.40" lengthAdjust="spacingAndGlyphs">100</text>
<line x1="62.30" y1="505.90" x2="64.70" y2="505.90" stroke="#333" stroke-width="1.1"/>
<text x="61.70" y="509.20" font-size="9.6" text-anchor="end" font-weight="normal" fill="#333" stroke="#333" stroke-width="0.3" textLength="4.80" lengthAdjust="spacingAndGlyphs">0</text>
<line x1="64.70" y1="505.90" x2="177.50" y2="505.90" stroke="#333" stroke-width="1.3"/>
<line x1="93.50" y1="505.90" x2="93.50" y2="508.40" stroke="#222" stroke-width="1"/>
<line x1="150.50" y1="505.90" x2="150.50" y2="508.40" stroke="#222" stroke-width="1"/>
<text x="112.60" y="420.50" font-size="7.6" text-anchor="start" font-weight="bold" fill="#111" stroke="#111" stroke-width="0.18" textLength="16.20" lengthAdjust="spacingAndGlyphs">CCR7</text>
<text x="111.20" y="434.70" font-size="6.6" text-anchor="start" font-weight="bold" fill="#222" stroke="#222" stroke-width="0.18" textLength="20.80" lengthAdjust="spacingAndGlyphs">p=0.003</text>
<text x="70.40" y="516.90" font-size="7.2" text-anchor="start" font-weight="bold" fill="#444" textLength="43.80" lengthAdjust="spacingAndGlyphs">Low ZAP-70 cells</text>
<text x="128.00" y="516.90" font-size="7.2" text-anchor="start" font-weight="bold" fill="#444" textLength="45.00" lengthAdjust="spacingAndGlyphs">High ZAP-70 cells</text>
<line x1="93.5" y1="442.7" x2="150.5" y2="442.7" stroke="#777" stroke-width="0.9"/><line x1="93.5" y1="459.5" x2="150.5" y2="442.7" stroke="#666" stroke-width="0.9"/><line x1="93.5" y1="467.0" x2="150.5" y2="460.2" stroke="#444" stroke-width="0.9"/><line x1="93.5" y1="496.7" x2="150.5" y2="490.2" stroke="#333" stroke-width="0.9"/><line x1="93.5" y1="493.7" x2="150.5" y2="492.5" stroke="#999" stroke-width="0.9"/><line x1="93.5" y1="487.1" x2="150.5" y2="486.9" stroke="#555" stroke-width="0.9"/><line x1="93.5" y1="497.5" x2="150.5" y2="497.5" stroke="#888" stroke-width="0.9"/><line x1="93.5" y1="488.4" x2="150.5" y2="482.2" stroke="#1a1a1a" stroke-width="0.9"/><line x1="93.5" y1="479.3" x2="150.5" y2="480.0" stroke="#555" stroke-width="0.9"/><line x1="93.5" y1="483.1" x2="150.5" y2="486.8" stroke="#777" stroke-width="0.9"/><line x1="93.5" y1="498.7" x2="150.5" y2="497.5" stroke="#aaa" stroke-width="0.9"/><line x1="93.5" y1="498.9" x2="150.5" y2="492.2" stroke="#555" stroke-width="0.9"/><line x1="93.5" y1="468.8" x2="150.5" y2="462.0" stroke="#aaa" stroke-width="0.9"/><line x1="93.5" y1="494.6" x2="150.5" y2="494.4" stroke="#999" stroke-width="0.9"/><line x1="93.5" y1="484.4" x2="150.5" y2="484.4" stroke="#555" stroke-width="0.9"/><line x1="93.5" y1="476.9" x2="150.5" y2="466.3" stroke="#1a1a1a" stroke-width="0.9"/><line x1="93.5" y1="488.9" x2="150.5" y2="480.4" stroke="#333" stroke-width="0.9"/><line x1="93.5" y1="495.5" x2="150.5" y2="486.5" stroke="#666" stroke-width="0.9"/><line x1="93.5" y1="497.0" x2="150.5" y2="497.5" stroke="#aaa" stroke-width="0.9"/><line x1="93.5" y1="470.1" x2="150.5" y2="467.0" stroke="#555" stroke-width="0.9"/><line x1="93.5" y1="492.3" x2="150.5" y2="489.5" stroke="#999" stroke-width="0.9"/><line x1="93.5" y1="473.6" x2="150.5" y2="469.7" stroke="#1a1a1a" stroke-width="0.9"/><line x1="93.5" y1="486.9" x2="150.5" y2="480.8" stroke="#888" stroke-width="0.9"/><line x1="93.5" y1="489.0" x2="150.5" y2="492.3" stroke="#aaa" stroke-width="0.9"/><line x1="93.5" y1="472.2" x2="150.5" y2="463.8" stroke="#777" stroke-width="0.9"/><line x1="93.5" y1="497.7" x2="150.5" y2="494.3" stroke="#333" stroke-width="0.9"/><line x1="93.5" y1="476.3" x2="150.5" y2="472.4" stroke="#888" stroke-width="0.9"/><line x1="93.5" y1="490.3" x2="150.5" y2="484.9" stroke="#999" stroke-width="0.9"/><line x1="93.5" y1="498.5" x2="150.5" y2="494.5" stroke="#888" stroke-width="0.9"/><line x1="93.5" y1="481.1" x2="150.5" y2="483.5" stroke="#555" stroke-width="0.9"/><line x1="93.5" y1="468.2" x2="150.5" y2="462.0" stroke="#aaa" stroke-width="0.9"/><line x1="93.5" y1="470.7" x2="150.5" y2="465.8" stroke="#888" stroke-width="0.9"/><line x1="93.5" y1="485.7" x2="150.5" y2="476.2" stroke="#777" stroke-width="0.9"/><line x1="93.5" y1="487.5" x2="150.5" y2="489.2" stroke="#aaa" stroke-width="0.9"/><line x1="93.5" y1="482.5" x2="150.5" y2="476.1" stroke="#888" stroke-width="0.9"/><line x1="93.5" y1="476.1" x2="150.5" y2="467.4" stroke="#aaa" stroke-width="0.9"/><line x1="93.5" y1="475.1" x2="150.5" y2="471.1" stroke="#aaa" stroke-width="0.9"/><line x1="93.5" y1="495.0" x2="150.5" y2="486.7" stroke="#999" stroke-width="0.9"/><line x1="93.5" y1="472.7" x2="150.5" y2="467.6" stroke="#555" stroke-width="0.9"/><line x1="93.5" y1="469.9" x2="150.5" y2="467.0" stroke="#777" stroke-width="0.9"/><line x1="93.5" y1="489.0" x2="150.5" y2="495.1" stroke="#aaa" stroke-width="0.9"/><line x1="93.5" y1="482.0" x2="150.5" y2="477.4" stroke="#999" stroke-width="0.9"/><line x1="93.5" y1="482.8" x2="150.5" y2="475.3" stroke="#444" stroke-width="0.9"/><line x1="93.5" y1="484.5" x2="150.5" y2="487.1" stroke="#333" stroke-width="0.9"/><line x1="93.5" y1="475.5" x2="150.5" y2="467.1" stroke="#666" stroke-width="0.9"/><line x1="93.5" y1="498.6" x2="150.5" y2="490.9" stroke="#333" stroke-width="0.9"/><line x1="93.5" y1="497.8" x2="150.5" y2="497.5" stroke="#1a1a1a" stroke-width="0.9"/><line x1="93.5" y1="477.2" x2="150.5" y2="477.3" stroke="#666" stroke-width="0.9"/>
<text x="20.30" y="485.60" font-size="8.8" text-anchor="start" font-weight="normal" fill="#333" stroke="#333" stroke-width="0.3" textLength="40.70" lengthAdjust="spacingAndGlyphs" transform="rotate(-90 20.30 485.60)">MFI (Mean</text>
<text x="29.80" y="509.60" font-size="8.8" text-anchor="start" font-weight="normal" fill="#333" stroke="#333" stroke-width="0.3" textLength="88.70" lengthAdjust="spacingAndGlyphs" transform="rotate(-90 29.80 509.60)">Fluorescence Intensity)</text>
<line x1="216.00" y1="429.20" x2="216.00" y2="505.30" stroke="#333" stroke-width="1.3"/>
<line x1="213.60" y1="437.30" x2="216.00" y2="437.30" stroke="#333" stroke-width="1.1"/>
<text x="213.00" y="440.60" font-size="9.6" text-anchor="end" font-weight="normal" fill="#333" stroke="#333" stroke-width="0.3" textLength="19.20" lengthAdjust="spacingAndGlyphs">1250</text>
<line x1="213.60" y1="451.00" x2="216.00" y2="451.00" stroke="#333" stroke-width="1.1"/>
<text x="213.00" y="454.30" font-size="9.6" text-anchor="end" font-weight="normal" fill="#333" stroke="#333" stroke-width="0.3" textLength="19.20" lengthAdjust="spacingAndGlyphs">1000</text>
<line x1="213.60" y1="464.80" x2="216.00" y2="464.80" stroke="#333" stroke-width="1.1"/>
<text x="213.00" y="468.10" font-size="9.6" text-anchor="end" font-weight="normal" fill="#333" stroke="#333" stroke-width="0.3" textLength="14.40" lengthAdjust="spacingAndGlyphs">750</text>
<line x1="213.60" y1="478.30" x2="216.00" y2="478.30" stroke="#333" stroke-width="1.1"/>
<text x="213.00" y="481.60" font-size="9.6" text-anchor="end" font-weight="normal" fill="#333" stroke="#333" stroke-width="0.3" textLength="14.40" lengthAdjust="spacingAndGlyphs">500</text>
<line x1="213.60" y1="492.30" x2="216.00" y2="492.30" stroke="#333" stroke-width="1.1"/>
<text x="213.00" y="495.60" font-size="9.6" text-anchor="end" font-weight="normal" fill="#333" stroke="#333" stroke-width="0.3" textLength="14.40" lengthAdjust="spacingAndGlyphs">250</text>
<line x1="213.60" y1="505.30" x2="216.00" y2="505.30" stroke="#333" stroke-width="1.1"/>
<text x="213.00" y="508.60" font-size="9.6" text-anchor="end" font-weight="normal" fill="#333" stroke="#333" stroke-width="0.3" textLength="4.80" lengthAdjust="spacingAndGlyphs">0</text>
<line x1="216.00" y1="505.30" x2="328.80" y2="505.30" stroke="#333" stroke-width="1.3"/>
<line x1="244.20" y1="505.30" x2="244.20" y2="507.80" stroke="#222" stroke-width="1"/>
<line x1="302.30" y1="505.30" x2="302.30" y2="507.80" stroke="#222" stroke-width="1"/>
<text x="259.60" y="421.10" font-size="7.6" text-anchor="start" font-weight="bold" fill="#111" stroke="#111" stroke-width="0.18" textLength="24.60" lengthAdjust="spacingAndGlyphs">CXCR4</text>
<text x="262.70" y="434.40" font-size="6.6" text-anchor="start" font-weight="bold" fill="#222" stroke="#222" stroke-width="0.18" textLength="21.10" lengthAdjust="spacingAndGlyphs">p=0.004</text>
<text x="220.80" y="517.20" font-size="7.2" text-anchor="start" font-weight="bold" fill="#444" textLength="43.20" lengthAdjust="spacingAndGlyphs">Low ZAP-70 cells</text>
<text x="279.20" y="517.20" font-size="7.2" text-anchor="start" font-weight="bold" fill="#444" textLength="45.00" lengthAdjust="spacingAndGlyphs">High ZAP-70 cells</text>
<line x1="244.2" y1="442.3" x2="302.3" y2="441.5" stroke="#555" stroke-width="0.9"/><line x1="244.2" y1="463.5" x2="302.3" y2="441.5" stroke="#444" stroke-width="0.9"/><line x1="244.2" y1="469.2" x2="302.3" y2="447.7" stroke="#444" stroke-width="0.9"/><line x1="244.2" y1="463.5" x2="302.3" y2="457.4" stroke="#555" stroke-width="0.9"/><line x1="244.2" y1="476.3" x2="302.3" y2="466.2" stroke="#444" stroke-width="0.9"/><line x1="244.2" y1="482.7" x2="302.3" y2="482.8" stroke="#777" stroke-width="0.9"/><line x1="244.2" y1="487.0" x2="302.3" y2="484.0" stroke="#1a1a1a" stroke-width="0.9"/><line x1="244.2" y1="502.5" x2="302.3" y2="502.5" stroke="#444" stroke-width="0.9"/><line x1="244.2" y1="491.7" x2="302.3" y2="489.1" stroke="#666" stroke-width="0.9"/><line x1="244.2" y1="500.4" x2="302.3" y2="502.3" stroke="#1a1a1a" stroke-width="0.9"/><line x1="244.2" y1="494.8" x2="302.3" y2="496.7" stroke="#888" stroke-width="0.9"/><line x1="244.2" y1="493.6" x2="302.3" y2="490.1" stroke="#aaa" stroke-width="0.9"/><line x1="244.2" y1="487.1" x2="302.3" y2="485.3" stroke="#999" stroke-width="0.9"/><line x1="244.2" y1="496.2" x2="302.3" y2="492.1" stroke="#1a1a1a" stroke-width="0.9"/><line x1="244.2" y1="498.6" x2="302.3" y2="494.4" stroke="#888" stroke-width="0.9"/><line x1="244.2" y1="497.6" x2="302.3" y2="493.7" stroke="#444" stroke-width="0.9"/><line x1="244.2" y1="495.1" x2="302.3" y2="496.4" stroke="#1a1a1a" stroke-width="0.9"/><line x1="244.2" y1="501.5" x2="302.3" y2="502.5" stroke="#aaa" stroke-width="0.9"/><line x1="244.2" y1="496.1" x2="302.3" y2="491.1" stroke="#aaa" stroke-width="0.9"/><line x1="244.2" y1="501.4" x2="302.3" y2="497.7" stroke="#888" stroke-width="0.9"/><line x1="244.2" y1="491.7" x2="302.3" y2="487.2" stroke="#777" stroke-width="0.9"/><line x1="244.2" y1="490.6" x2="302.3" y2="490.6" stroke="#999" stroke-width="0.9"/><line x1="244.2" y1="501.7" x2="302.3" y2="499.1" stroke="#999" stroke-width="0.9"/><line x1="244.2" y1="493.3" x2="302.3" y2="494.4" stroke="#666" stroke-width="0.9"/><line x1="244.2" y1="487.7" x2="302.3" y2="486.2" stroke="#777" stroke-width="0.9"/><line x1="244.2" y1="493.2" x2="302.3" y2="492.5" stroke="#999" stroke-width="0.9"/><line x1="244.2" y1="498.9" x2="302.3" y2="496.3" stroke="#aaa" stroke-width="0.9"/><line x1="244.2" y1="491.9" x2="302.3" y2="490.9" stroke="#555" stroke-width="0.9"/><line x1="244.2" y1="487.3" x2="302.3" y2="484.0" stroke="#444" stroke-width="0.9"/><line x1="244.2" y1="488.7" x2="302.3" y2="486.4" stroke="#999" stroke-width="0.9"/><line x1="244.2" y1="499.5" x2="302.3" y2="495.1" stroke="#aaa" stroke-width="0.9"/><line x1="244.2" y1="495.1" x2="302.3" y2="494.2" stroke="#888" stroke-width="0.9"/><line x1="244.2" y1="499.5" x2="302.3" y2="501.3" stroke="#aaa" stroke-width="0.9"/><line x1="244.2" y1="498.6" x2="302.3" y2="496.4" stroke="#333" stroke-width="0.9"/><line x1="244.2" y1="490.7" x2="302.3" y2="490.8" stroke="#1a1a1a" stroke-width="0.9"/><line x1="244.2" y1="488.0" x2="302.3" y2="489.2" stroke="#333" stroke-width="0.9"/><line x1="244.2" y1="502.9" x2="302.3" y2="501.2" stroke="#666" stroke-width="0.9"/><line x1="244.2" y1="494.6" x2="302.3" y2="492.1" stroke="#333" stroke-width="0.9"/><line x1="244.2" y1="491.3" x2="302.3" y2="493.2" stroke="#666" stroke-width="0.9"/><line x1="244.2" y1="500.5" x2="302.3" y2="502.4" stroke="#1a1a1a" stroke-width="0.9"/><line x1="244.2" y1="497.6" x2="302.3" y2="495.1" stroke="#1a1a1a" stroke-width="0.9"/><line x1="244.2" y1="502.9" x2="302.3" y2="502.5" stroke="#555" stroke-width="0.9"/><line x1="244.2" y1="493.0" x2="302.3" y2="495.4" stroke="#333" stroke-width="0.9"/><line x1="244.2" y1="503.2" x2="302.3" y2="500.9" stroke="#1a1a1a" stroke-width="0.9"/><line x1="244.2" y1="498.5" x2="302.3" y2="500.9" stroke="#444" stroke-width="0.9"/><line x1="244.2" y1="491.7" x2="302.3" y2="490.4" stroke="#1a1a1a" stroke-width="0.9"/><line x1="244.2" y1="498.3" x2="302.3" y2="501.4" stroke="#555" stroke-width="0.9"/><line x1="244.2" y1="501.8" x2="302.3" y2="502.5" stroke="#777" stroke-width="0.9"/><line x1="244.2" y1="487.4" x2="302.3" y2="484.9" stroke="#333" stroke-width="0.9"/><line x1="244.2" y1="499.9" x2="302.3" y2="499.4" stroke="#666" stroke-width="0.9"/><line x1="244.2" y1="497.2" x2="302.3" y2="494.2" stroke="#1a1a1a" stroke-width="0.9"/><line x1="244.2" y1="488.2" x2="302.3" y2="484.7" stroke="#444" stroke-width="0.9"/><line x1="244.2" y1="496.8" x2="302.3" y2="498.3" stroke="#777" stroke-width="0.9"/><line x1="244.2" y1="489.5" x2="302.3" y2="492.2" stroke="#444" stroke-width="0.9"/><line x1="244.2" y1="495.9" x2="302.3" y2="492.8" stroke="#999" stroke-width="0.9"/><line x1="244.2" y1="496.0" x2="302.3" y2="498.1" stroke="#777" stroke-width="0.9"/><line x1="244.2" y1="500.3" x2="302.3" y2="498.9" stroke="#888" stroke-width="0.9"/><line x1="244.2" y1="493.4" x2="302.3" y2="490.7" stroke="#444" stroke-width="0.9"/><line x1="244.2" y1="493.0" x2="302.3" y2="494.0" stroke="#444" stroke-width="0.9"/><line x1="244.2" y1="501.7" x2="302.3" y2="502.5" stroke="#555" stroke-width="0.9"/><line x1="244.2" y1="496.1" x2="302.3" y2="491.3" stroke="#1a1a1a" stroke-width="0.9"/>
<line x1="371.60" y1="428.50" x2="371.60" y2="505.50" stroke="#333" stroke-width="1.3"/>
<line x1="369.20" y1="429.00" x2="371.60" y2="429.00" stroke="#333" stroke-width="1.1"/>
<text x="368.60" y="432.30" font-size="9.6" text-anchor="end" font-weight="normal" fill="#333" stroke="#333" stroke-width="0.3" textLength="19.20" lengthAdjust="spacingAndGlyphs">2500</text>
<line x1="369.20" y1="444.30" x2="371.60" y2="444.30" stroke="#333" stroke-width="1.1"/>
<text x="368.60" y="447.60" font-size="9.6" text-anchor="end" font-weight="normal" fill="#333" stroke="#333" stroke-width="0.3" textLength="19.20" lengthAdjust="spacingAndGlyphs">2000</text>
<line x1="369.20" y1="459.80" x2="371.60" y2="459.80" stroke="#333" stroke-width="1.1"/>
<text x="368.60" y="463.10" font-size="9.6" text-anchor="end" font-weight="normal" fill="#333" stroke="#333" stroke-width="0.3" textLength="19.20" lengthAdjust="spacingAndGlyphs">1500</text>
<line x1="369.20" y1="475.20" x2="371.60" y2="475.20" stroke="#333" stroke-width="1.1"/>
<text x="368.60" y="478.50" font-size="9.6" text-anchor="end" font-weight="normal" fill="#333" stroke="#333" stroke-width="0.3" textLength="19.20" lengthAdjust="spacingAndGlyphs">1000</text>
<line x1="369.20" y1="490.60" x2="371.60" y2="490.60" stroke="#333" stroke-width="1.1"/>
<text x="368.60" y="493.90" font-size="9.6" text-anchor="end" font-weight="normal" fill="#333" stroke="#333" stroke-width="0.3" textLength="14.40" lengthAdjust="spacingAndGlyphs">500</text>
<line x1="369.20" y1="505.50" x2="371.60" y2="505.50" stroke="#333" stroke-width="1.1"/>
<text x="368.60" y="508.80" font-size="9.6" text-anchor="end" font-weight="normal" fill="#333" stroke="#333" stroke-width="0.3" textLength="4.80" lengthAdjust="spacingAndGlyphs">0</text>
<line x1="371.60" y1="505.50" x2="485.60" y2="505.50" stroke="#333" stroke-width="1.3"/>
<line x1="399.30" y1="505.50" x2="399.30" y2="508.00" stroke="#222" stroke-width="1"/>
<line x1="457.20" y1="505.50" x2="457.20" y2="508.00" stroke="#222" stroke-width="1"/>
<text x="414.40" y="421.20" font-size="7.6" text-anchor="start" font-weight="bold" fill="#111" stroke="#111" stroke-width="0.18" textLength="25.50" lengthAdjust="spacingAndGlyphs">CXCR5</text>
<text x="419.60" y="435.20" font-size="6.6" text-anchor="start" font-weight="bold" fill="#222" stroke="#222" stroke-width="0.18" textLength="20.30" lengthAdjust="spacingAndGlyphs">p=0.001</text>
<text x="377.70" y="516.80" font-size="7.2" text-anchor="start" font-weight="bold" fill="#444" textLength="44.30" lengthAdjust="spacingAndGlyphs">Low ZAP-70 cells</text>
<text x="432.50" y="516.80" font-size="7.2" text-anchor="start" font-weight="bold" fill="#444" textLength="45.50" lengthAdjust="spacingAndGlyphs">High ZAP-70 cells</text>
<line x1="399.3" y1="438.7" x2="457.2" y2="437.7" stroke="#888" stroke-width="0.9"/><line x1="399.3" y1="500.0" x2="457.2" y2="499.9" stroke="#999" stroke-width="0.9"/><line x1="399.3" y1="487.3" x2="457.2" y2="485.6" stroke="#333" stroke-width="0.9"/><line x1="399.3" y1="488.2" x2="457.2" y2="484.7" stroke="#aaa" stroke-width="0.9"/><line x1="399.3" y1="500.1" x2="457.2" y2="499.6" stroke="#999" stroke-width="0.9"/><line x1="399.3" y1="490.9" x2="457.2" y2="490.5" stroke="#444" stroke-width="0.9"/><line x1="399.3" y1="500.1" x2="457.2" y2="499.4" stroke="#444" stroke-width="0.9"/><line x1="399.3" y1="474.2" x2="457.2" y2="474.6" stroke="#333" stroke-width="0.9"/><line x1="399.3" y1="501.3" x2="457.2" y2="500.6" stroke="#222" stroke-width="0.9"/><line x1="399.3" y1="498.6" x2="457.2" y2="495.4" stroke="#999" stroke-width="0.9"/><line x1="399.3" y1="488.6" x2="457.2" y2="486.1" stroke="#888" stroke-width="0.9"/><line x1="399.3" y1="482.9" x2="457.2" y2="478.9" stroke="#999" stroke-width="0.9"/><line x1="399.3" y1="467.9" x2="457.2" y2="465.5" stroke="#444" stroke-width="0.9"/><line x1="399.3" y1="473.5" x2="457.2" y2="469.3" stroke="#555" stroke-width="0.9"/><line x1="399.3" y1="499.6" x2="457.2" y2="498.2" stroke="#888" stroke-width="0.9"/><line x1="399.3" y1="479.4" x2="457.2" y2="475.5" stroke="#888" stroke-width="0.9"/><line x1="399.3" y1="489.5" x2="457.2" y2="488.9" stroke="#aaa" stroke-width="0.9"/><line x1="399.3" y1="489.1" x2="457.2" y2="489.9" stroke="#222" stroke-width="0.9"/><line x1="399.3" y1="474.9" x2="457.2" y2="474.2" stroke="#444" stroke-width="0.9"/><line x1="399.3" y1="483.7" x2="457.2" y2="482.4" stroke="#333" stroke-width="0.9"/><line x1="399.3" y1="482.9" x2="457.2" y2="478.5" stroke="#555" stroke-width="0.9"/><line x1="399.3" y1="486.9" x2="457.2" y2="483.6" stroke="#333" stroke-width="0.9"/><line x1="399.3" y1="502.2" x2="457.2" y2="501.4" stroke="#999" stroke-width="0.9"/><line x1="399.3" y1="502.1" x2="457.2" y2="500.9" stroke="#444" stroke-width="0.9"/><line x1="399.3" y1="502.4" x2="457.2" y2="502.4" stroke="#888" stroke-width="0.9"/><line x1="399.3" y1="480.0" x2="457.2" y2="476.9" stroke="#222" stroke-width="0.9"/><line x1="399.3" y1="496.6" x2="457.2" y2="495.5" stroke="#777" stroke-width="0.9"/><line x1="399.3" y1="490.5" x2="457.2" y2="487.7" stroke="#555" stroke-width="0.9"/><line x1="399.3" y1="465.6" x2="457.2" y2="462.7" stroke="#666" stroke-width="0.9"/><line x1="399.3" y1="502.4" x2="457.2" y2="500.7" stroke="#555" stroke-width="0.9"/><line x1="399.3" y1="467.4" x2="457.2" y2="461.8" stroke="#666" stroke-width="0.9"/><line x1="399.3" y1="487.9" x2="457.2" y2="485.7" stroke="#777" stroke-width="0.9"/><line x1="399.3" y1="498.3" x2="457.2" y2="496.9" stroke="#444" stroke-width="0.9"/><line x1="399.3" y1="472.4" x2="457.2" y2="470.9" stroke="#aaa" stroke-width="0.9"/><line x1="399.3" y1="496.4" x2="457.2" y2="494.1" stroke="#aaa" stroke-width="0.9"/><line x1="399.3" y1="501.9" x2="457.2" y2="499.4" stroke="#666" stroke-width="0.9"/><line x1="399.3" y1="494.9" x2="457.2" y2="493.9" stroke="#555" stroke-width="0.9"/><line x1="399.3" y1="469.8" x2="457.2" y2="468.0" stroke="#666" stroke-width="0.9"/><line x1="399.3" y1="490.6" x2="457.2" y2="488.4" stroke="#222" stroke-width="0.9"/><line x1="399.3" y1="478.9" x2="457.2" y2="474.4" stroke="#888" stroke-width="0.9"/><line x1="399.3" y1="487.7" x2="457.2" y2="485.8" stroke="#444" stroke-width="0.9"/><line x1="399.3" y1="502.2" x2="457.2" y2="502.1" stroke="#777" stroke-width="0.9"/><line x1="399.3" y1="488.0" x2="457.2" y2="487.2" stroke="#666" stroke-width="0.9"/><line x1="399.3" y1="481.7" x2="457.2" y2="478.5" stroke="#222" stroke-width="0.9"/><line x1="399.3" y1="468.0" x2="457.2" y2="464.3" stroke="#666" stroke-width="0.9"/><line x1="399.3" y1="487.2" x2="457.2" y2="485.7" stroke="#444" stroke-width="0.9"/><line x1="399.3" y1="497.0" x2="457.2" y2="494.2" stroke="#777" stroke-width="0.9"/><line x1="399.3" y1="480.6" x2="457.2" y2="477.1" stroke="#888" stroke-width="0.9"/><line x1="399.3" y1="501.9" x2="457.2" y2="501.6" stroke="#222" stroke-width="0.9"/><line x1="399.3" y1="467.4" x2="457.2" y2="464.3" stroke="#aaa" stroke-width="0.9"/><line x1="399.3" y1="500.3" x2="457.2" y2="499.7" stroke="#666" stroke-width="0.9"/><line x1="399.3" y1="500.0" x2="457.2" y2="498.5" stroke="#333" stroke-width="0.9"/><line x1="399.3" y1="501.9" x2="457.2" y2="500.1" stroke="#777" stroke-width="0.9"/><line x1="399.3" y1="468.9" x2="457.2" y2="466.2" stroke="#444" stroke-width="0.9"/><line x1="399.3" y1="502.1" x2="457.2" y2="501.8" stroke="#555" stroke-width="0.9"/><line x1="399.3" y1="473.1" x2="457.2" y2="471.4" stroke="#333" stroke-width="0.9"/><line x1="399.3" y1="502.4" x2="457.2" y2="501.3" stroke="#555" stroke-width="0.9"/><line x1="399.3" y1="498.3" x2="457.2" y2="496.4" stroke="#666" stroke-width="0.9"/><line x1="399.3" y1="497.7" x2="457.2" y2="497.6" stroke="#333" stroke-width="0.9"/><line x1="399.3" y1="477.9" x2="457.2" y2="475.6" stroke="#666" stroke-width="0.9"/><line x1="399.3" y1="491.8" x2="457.2" y2="489.5" stroke="#666" stroke-width="0.9"/><line x1="399.3" y1="493.8" x2="457.2" y2="493.0" stroke="#888" stroke-width="0.9"/><line x1="399.3" y1="502.4" x2="457.2" y2="502.0" stroke="#888" stroke-width="0.9"/>
<line x1="65.00" y1="557.30" x2="65.00" y2="634.20" stroke="#333" stroke-width="1.3"/>
<line x1="62.60" y1="558.70" x2="65.00" y2="558.70" stroke="#333" stroke-width="1.1"/>
<text x="62.00" y="562.00" font-size="9.6" text-anchor="end" font-weight="normal" fill="#333" stroke="#333" stroke-width="0.3" textLength="19.20" lengthAdjust="spacingAndGlyphs">3000</text>
<line x1="62.60" y1="583.70" x2="65.00" y2="583.70" stroke="#333" stroke-width="1.1"/>
<text x="62.00" y="587.00" font-size="9.6" text-anchor="end" font-weight="normal" fill="#333" stroke="#333" stroke-width="0.3" textLength="19.20" lengthAdjust="spacingAndGlyphs">2000</text>
<line x1="62.60" y1="608.80" x2="65.00" y2="608.80" stroke="#333" stroke-width="1.1"/>
<text x="62.00" y="612.10" font-size="9.6" text-anchor="end" font-weight="normal" fill="#333" stroke="#333" stroke-width="0.3" textLength="19.20" lengthAdjust="spacingAndGlyphs">1000</text>
<line x1="62.60" y1="634.00" x2="65.00" y2="634.00" stroke="#333" stroke-width="1.1"/>
<text x="62.00" y="637.30" font-size="9.6" text-anchor="end" font-weight="normal" fill="#333" stroke="#333" stroke-width="0.3" textLength="4.80" lengthAdjust="spacingAndGlyphs">0</text>
<line x1="65.00" y1="634.20" x2="177.50" y2="634.20" stroke="#333" stroke-width="1.3"/>
<line x1="93.50" y1="634.20" x2="93.50" y2="636.70" stroke="#222" stroke-width="1"/>
<line x1="150.50" y1="634.20" x2="150.50" y2="636.70" stroke="#222" stroke-width="1"/>
<text x="111.90" y="549.50" font-size="7.6" text-anchor="start" font-weight="bold" fill="#111" stroke="#111" stroke-width="0.18" textLength="18.10" lengthAdjust="spacingAndGlyphs">CD44</text>
<text x="110.80" y="560.00" font-size="6.6" text-anchor="start" font-weight="bold" fill="#222" stroke="#222" stroke-width="0.18" textLength="24.20" lengthAdjust="spacingAndGlyphs">p<0.0001</text>
<text x="70.40" y="644.90" font-size="7.2" text-anchor="start" font-weight="bold" fill="#444" textLength="43.80" lengthAdjust="spacingAndGlyphs">Low ZAP-70 cells</text>
<text x="128.00" y="644.90" font-size="7.2" text-anchor="start" font-weight="bold" fill="#444" textLength="45.00" lengthAdjust="spacingAndGlyphs">High ZAP-70 cells</text>
<line x1="93.5" y1="562.7" x2="150.5" y2="565.7" stroke="#888" stroke-width="0.9"/><line x1="93.5" y1="578.4" x2="150.5" y2="568.9" stroke="#777" stroke-width="0.9"/><line x1="93.5" y1="589.2" x2="150.5" y2="582.3" stroke="#555" stroke-width="0.9"/><line x1="93.5" y1="618.3" x2="150.5" y2="622.7" stroke="#888" stroke-width="0.9"/><line x1="93.5" y1="611.6" x2="150.5" y2="616.1" stroke="#1a1a1a" stroke-width="0.9"/><line x1="93.5" y1="613.9" x2="150.5" y2="604.8" stroke="#1a1a1a" stroke-width="0.9"/><line x1="93.5" y1="618.6" x2="150.5" y2="617.6" stroke="#666" stroke-width="0.9"/><line x1="93.5" y1="601.9" x2="150.5" y2="590.5" stroke="#666" stroke-width="0.9"/><line x1="93.5" y1="618.8" x2="150.5" y2="611.2" stroke="#666" stroke-width="0.9"/><line x1="93.5" y1="601.1" x2="150.5" y2="600.4" stroke="#666" stroke-width="0.9"/><line x1="93.5" y1="616.9" x2="150.5" y2="609.7" stroke="#777" stroke-width="0.9"/><line x1="93.5" y1="621.5" x2="150.5" y2="620.3" stroke="#888" stroke-width="0.9"/><line x1="93.5" y1="610.8" x2="150.5" y2="613.5" stroke="#999" stroke-width="0.9"/><line x1="93.5" y1="617.2" x2="150.5" y2="608.7" stroke="#aaa" stroke-width="0.9"/><line x1="93.5" y1="599.7" x2="150.5" y2="601.7" stroke="#666" stroke-width="0.9"/><line x1="93.5" y1="608.8" x2="150.5" y2="598.7" stroke="#aaa" stroke-width="0.9"/><line x1="93.5" y1="619.3" x2="150.5" y2="620.4" stroke="#666" stroke-width="0.9"/><line x1="93.5" y1="613.1" x2="150.5" y2="616.7" stroke="#666" stroke-width="0.9"/><line x1="93.5" y1="617.7" x2="150.5" y2="612.0" stroke="#333" stroke-width="0.9"/><line x1="93.5" y1="622.2" x2="150.5" y2="620.8" stroke="#666" stroke-width="0.9"/><line x1="93.5" y1="610.4" x2="150.5" y2="604.9" stroke="#777" stroke-width="0.9"/><line x1="93.5" y1="620.4" x2="150.5" y2="617.6" stroke="#333" stroke-width="0.9"/><line x1="93.5" y1="613.6" x2="150.5" y2="616.7" stroke="#999" stroke-width="0.9"/><line x1="93.5" y1="617.3" x2="150.5" y2="619.0" stroke="#777" stroke-width="0.9"/><line x1="93.5" y1="606.8" x2="150.5" y2="607.7" stroke="#777" stroke-width="0.9"/><line x1="93.5" y1="621.2" x2="150.5" y2="622.7" stroke="#555" stroke-width="0.9"/><line x1="93.5" y1="617.3" x2="150.5" y2="615.0" stroke="#555" stroke-width="0.9"/><line x1="93.5" y1="620.8" x2="150.5" y2="613.7" stroke="#666" stroke-width="0.9"/><line x1="93.5" y1="612.2" x2="150.5" y2="617.6" stroke="#333" stroke-width="0.9"/><line x1="93.5" y1="597.7" x2="150.5" y2="584.6" stroke="#777" stroke-width="0.9"/><line x1="93.5" y1="622.5" x2="150.5" y2="622.7" stroke="#444" stroke-width="0.9"/><line x1="93.5" y1="602.0" x2="150.5" y2="597.8" stroke="#333" stroke-width="0.9"/><line x1="93.5" y1="616.9" x2="150.5" y2="621.2" stroke="#999" stroke-width="0.9"/><line x1="93.5" y1="616.9" x2="150.5" y2="620.2" stroke="#444" stroke-width="0.9"/><line x1="93.5" y1="615.8" x2="150.5" y2="622.7" stroke="#1a1a1a" stroke-width="0.9"/><line x1="93.5" y1="612.4" x2="150.5" y2="612.3" stroke="#777" stroke-width="0.9"/><line x1="93.5" y1="594.0" x2="150.5" y2="584.6" stroke="#999" stroke-width="0.9"/><line x1="93.5" y1="594.6" x2="150.5" y2="587.8" stroke="#555" stroke-width="0.9"/><line x1="93.5" y1="621.0" x2="150.5" y2="622.7" stroke="#444" stroke-width="0.9"/><line x1="93.5" y1="608.0" x2="150.5" y2="596.2" stroke="#1a1a1a" stroke-width="0.9"/><line x1="93.5" y1="609.6" x2="150.5" y2="604.9" stroke="#777" stroke-width="0.9"/><line x1="93.5" y1="594.0" x2="150.5" y2="592.1" stroke="#aaa" stroke-width="0.9"/><line x1="93.5" y1="616.9" x2="150.5" y2="607.4" stroke="#555" stroke-width="0.9"/><line x1="93.5" y1="611.7" x2="150.5" y2="613.5" stroke="#888" stroke-width="0.9"/><line x1="93.5" y1="611.2" x2="150.5" y2="613.3" stroke="#999" stroke-width="0.9"/><line x1="93.5" y1="618.0" x2="150.5" y2="610.7" stroke="#555" stroke-width="0.9"/><line x1="93.5" y1="611.0" x2="150.5" y2="616.3" stroke="#666" stroke-width="0.9"/><line x1="93.5" y1="617.9" x2="150.5" y2="616.8" stroke="#555" stroke-width="0.9"/><line x1="93.5" y1="613.5" x2="150.5" y2="615.5" stroke="#777" stroke-width="0.9"/><line x1="93.5" y1="622.1" x2="150.5" y2="615.5" stroke="#333" stroke-width="0.9"/><line x1="93.5" y1="594.3" x2="150.5" y2="587.7" stroke="#1a1a1a" stroke-width="0.9"/><line x1="93.5" y1="611.2" x2="150.5" y2="615.4" stroke="#555" stroke-width="0.9"/><line x1="93.5" y1="596.5" x2="150.5" y2="587.7" stroke="#444" stroke-width="0.9"/>
<text x="19.80" y="612.10" font-size="8.8" text-anchor="start" font-weight="normal" fill="#333" stroke="#333" stroke-width="0.3" textLength="42.30" lengthAdjust="spacingAndGlyphs" transform="rotate(-90 19.80 612.10)">MFI (Mean</text>
<text x="29.60" y="636.20" font-size="8.8" text-anchor="start" font-weight="normal" fill="#333" stroke="#333" stroke-width="0.3" textLength="89.50" lengthAdjust="spacingAndGlyphs" transform="rotate(-90 29.60 636.20)">Fluorescence Intensity)</text>
<line x1="215.50" y1="556.20" x2="215.50" y2="577.20" stroke="#333" stroke-width="1.3"/>
<line x1="215.50" y1="583.30" x2="215.50" y2="635.30" stroke="#333" stroke-width="1.3"/>
<line x1="213.10" y1="559.00" x2="215.50" y2="559.00" stroke="#333" stroke-width="1.1"/>
<text x="212.50" y="562.30" font-size="9.6" text-anchor="end" font-weight="normal" fill="#333" stroke="#333" stroke-width="0.3" textLength="14.40" lengthAdjust="spacingAndGlyphs">600</text>
<line x1="213.10" y1="567.80" x2="215.50" y2="567.80" stroke="#333" stroke-width="1.1"/>
<text x="212.50" y="571.10" font-size="9.6" text-anchor="end" font-weight="normal" fill="#333" stroke="#333" stroke-width="0.3" textLength="14.40" lengthAdjust="spacingAndGlyphs">400</text>
<line x1="213.10" y1="577.20" x2="215.50" y2="577.20" stroke="#333" stroke-width="1.1"/>
<text x="212.50" y="580.50" font-size="9.6" text-anchor="end" font-weight="normal" fill="#333" stroke="#333" stroke-width="0.3" textLength="14.40" lengthAdjust="spacingAndGlyphs">200</text>
<line x1="213.10" y1="591.80" x2="215.50" y2="591.80" stroke="#333" stroke-width="1.1"/>
<text x="212.50" y="595.10" font-size="9.6" text-anchor="end" font-weight="normal" fill="#333" stroke="#333" stroke-width="0.3" textLength="14.40" lengthAdjust="spacingAndGlyphs">150</text>
<line x1="213.10" y1="606.20" x2="215.50" y2="606.20" stroke="#333" stroke-width="1.1"/>
<text x="212.50" y="609.50" font-size="9.6" text-anchor="end" font-weight="normal" fill="#333" stroke="#333" stroke-width="0.3" textLength="14.40" lengthAdjust="spacingAndGlyphs">100</text>
<line x1="213.10" y1="620.30" x2="215.50" y2="620.30" stroke="#333" stroke-width="1.1"/>
<text x="212.50" y="623.60" font-size="9.6" text-anchor="end" font-weight="normal" fill="#333" stroke="#333" stroke-width="0.3" textLength="9.60" lengthAdjust="spacingAndGlyphs">50</text>
<line x1="213.10" y1="635.30" x2="215.50" y2="635.30" stroke="#333" stroke-width="1.1"/>
<text x="212.50" y="638.60" font-size="9.6" text-anchor="end" font-weight="normal" fill="#333" stroke="#333" stroke-width="0.3" textLength="4.80" lengthAdjust="spacingAndGlyphs">0</text>
<line x1="215.50" y1="635.30" x2="331.30" y2="635.30" stroke="#333" stroke-width="1.3"/>
<line x1="244.80" y1="635.30" x2="244.80" y2="637.80" stroke="#222" stroke-width="1"/>
<line x1="303.10" y1="635.30" x2="303.10" y2="637.80" stroke="#222" stroke-width="1"/>
<text x="261.70" y="551.30" font-size="7.6" text-anchor="start" font-weight="bold" fill="#111" stroke="#111" stroke-width="0.18" textLength="24.50" lengthAdjust="spacingAndGlyphs">CD49d</text>
<text x="260.20" y="560.50" font-size="6.6" text-anchor="start" font-weight="bold" fill="#222" stroke="#222" stroke-width="0.18" textLength="24.40" lengthAdjust="spacingAndGlyphs">p<0.0001</text>
<text x="220.50" y="645.30" font-size="7.2" text-anchor="start" font-weight="bold" fill="#444" textLength="44.00" lengthAdjust="spacingAndGlyphs">Low ZAP-70 cells</text>
<text x="279.40" y="645.30" font-size="7.2" text-anchor="start" font-weight="bold" fill="#444" textLength="45.20" lengthAdjust="spacingAndGlyphs">High ZAP-70 cells</text>
<line x1="244.8" y1="562.9" x2="303.1" y2="560.6" stroke="#555" stroke-width="0.9"/><line x1="244.8" y1="570.6" x2="303.1" y2="568.7" stroke="#555" stroke-width="0.9"/><line x1="244.8" y1="575.8" x2="303.1" y2="575.8" stroke="#555" stroke-width="0.9"/><line x1="244.8" y1="597.5" x2="303.1" y2="589.4" stroke="#444" stroke-width="0.9"/><line x1="244.8" y1="598.8" x2="303.1" y2="594.6" stroke="#444" stroke-width="0.9"/><line x1="244.8" y1="605.2" x2="303.1" y2="596.9" stroke="#555" stroke-width="0.9"/><line x1="244.8" y1="609.0" x2="303.1" y2="601.3" stroke="#444" stroke-width="0.9"/><line x1="244.8" y1="613.8" x2="303.1" y2="607.1" stroke="#333" stroke-width="0.9"/><line x1="244.8" y1="619.6" x2="303.1" y2="607.5" stroke="#555" stroke-width="0.9"/><line x1="244.8" y1="622.5" x2="303.1" y2="615.8" stroke="#666" stroke-width="0.9"/><line x1="244.8" y1="612.0" x2="303.1" y2="620.6" stroke="#777" stroke-width="0.9"/><line x1="244.8" y1="616.0" x2="303.1" y2="624.4" stroke="#888" stroke-width="0.9"/><line x1="244.8" y1="631.2" x2="303.1" y2="629.9" stroke="#555" stroke-width="0.9"/><line x1="244.8" y1="634.8" x2="303.1" y2="634.9" stroke="#444" stroke-width="0.9"/><line x1="244.8" y1="630.3" x2="303.1" y2="628.7" stroke="#222" stroke-width="0.9"/><line x1="244.8" y1="634.3" x2="303.1" y2="633.4" stroke="#444" stroke-width="0.9"/><line x1="244.8" y1="629.8" x2="303.1" y2="628.4" stroke="#222" stroke-width="0.9"/><line x1="244.8" y1="634.9" x2="303.1" y2="634.2" stroke="#222" stroke-width="0.9"/><line x1="244.8" y1="632.5" x2="303.1" y2="630.8" stroke="#444" stroke-width="0.9"/><line x1="244.8" y1="634.0" x2="303.1" y2="632.3" stroke="#111" stroke-width="0.9"/><line x1="244.8" y1="634.2" x2="303.1" y2="633.6" stroke="#111" stroke-width="0.9"/><line x1="244.8" y1="629.1" x2="303.1" y2="627.7" stroke="#111" stroke-width="0.9"/><line x1="244.8" y1="633.7" x2="303.1" y2="632.5" stroke="#222" stroke-width="0.9"/><line x1="244.8" y1="633.3" x2="303.1" y2="630.5" stroke="#222" stroke-width="0.9"/><line x1="244.8" y1="631.8" x2="303.1" y2="630.7" stroke="#222" stroke-width="0.9"/><line x1="244.8" y1="629.2" x2="303.1" y2="628.1" stroke="#444" stroke-width="0.9"/><line x1="244.8" y1="633.2" x2="303.1" y2="632.5" stroke="#222" stroke-width="0.9"/><line x1="244.8" y1="633.4" x2="303.1" y2="632.2" stroke="#333" stroke-width="0.9"/><line x1="244.8" y1="633.2" x2="303.1" y2="632.2" stroke="#333" stroke-width="0.9"/><line x1="244.8" y1="634.6" x2="303.1" y2="633.9" stroke="#333" stroke-width="0.9"/><line x1="244.8" y1="630.1" x2="303.1" y2="629.4" stroke="#444" stroke-width="0.9"/><line x1="244.8" y1="632.2" x2="303.1" y2="630.9" stroke="#222" stroke-width="0.9"/><line x1="244.8" y1="634.7" x2="303.1" y2="633.9" stroke="#333" stroke-width="0.9"/><line x1="244.8" y1="629.9" x2="303.1" y2="628.3" stroke="#111" stroke-width="0.9"/><line x1="244.8" y1="631.7" x2="303.1" y2="631.1" stroke="#111" stroke-width="0.9"/><line x1="244.8" y1="632.3" x2="303.1" y2="630.7" stroke="#222" stroke-width="0.9"/><line x1="244.8" y1="631.2" x2="303.1" y2="629.4" stroke="#222" stroke-width="0.9"/><line x1="244.8" y1="629.4" x2="303.1" y2="627.8" stroke="#444" stroke-width="0.9"/><line x1="244.8" y1="632.9" x2="303.1" y2="632.4" stroke="#444" stroke-width="0.9"/><line x1="244.8" y1="634.4" x2="303.1" y2="633.1" stroke="#333" stroke-width="0.9"/><line x1="244.8" y1="629.8" x2="303.1" y2="625.6" stroke="#111" stroke-width="0.9"/><line x1="244.8" y1="633.8" x2="303.1" y2="632.6" stroke="#555" stroke-width="0.9"/><line x1="244.8" y1="618.6" x2="303.1" y2="612.0" stroke="#666" stroke-width="0.9"/><line x1="244.8" y1="619.5" x2="303.1" y2="616.0" stroke="#666" stroke-width="0.9"/><line x1="244.8" y1="630.9" x2="303.1" y2="628.4" stroke="#aaa" stroke-width="0.9"/><line x1="244.8" y1="618.0" x2="303.1" y2="616.7" stroke="#666" stroke-width="0.9"/><line x1="244.8" y1="630.2" x2="303.1" y2="629.5" stroke="#888" stroke-width="0.9"/><line x1="244.8" y1="628.7" x2="303.1" y2="626.6" stroke="#666" stroke-width="0.9"/><line x1="244.8" y1="619.1" x2="303.1" y2="615.3" stroke="#777" stroke-width="0.9"/><line x1="244.8" y1="629.1" x2="303.1" y2="626.4" stroke="#aaa" stroke-width="0.9"/><line x1="244.8" y1="625.6" x2="303.1" y2="623.1" stroke="#888" stroke-width="0.9"/><line x1="244.8" y1="625.9" x2="303.1" y2="622.1" stroke="#888" stroke-width="0.9"/><line x1="244.8" y1="624.8" x2="303.1" y2="623.6" stroke="#aaa" stroke-width="0.9"/><line x1="244.8" y1="623.6" x2="303.1" y2="619.5" stroke="#888" stroke-width="0.9"/><line x1="244.8" y1="621.6" x2="303.1" y2="618.5" stroke="#555" stroke-width="0.9"/><line x1="244.8" y1="629.4" x2="303.1" y2="628.0" stroke="#999" stroke-width="0.9"/><line x1="244.8" y1="629.7" x2="303.1" y2="626.5" stroke="#aaa" stroke-width="0.9"/><line x1="244.8" y1="630.9" x2="303.1" y2="629.9" stroke="#999" stroke-width="0.9"/><line x1="244.8" y1="625.8" x2="303.1" y2="623.0" stroke="#555" stroke-width="0.9"/><line x1="244.8" y1="627.1" x2="303.1" y2="625.4" stroke="#555" stroke-width="0.9"/>
<line x1="371.10" y1="559.90" x2="371.10" y2="576.70" stroke="#333" stroke-width="1.3"/>
<line x1="371.10" y1="582.40" x2="371.10" y2="635.20" stroke="#333" stroke-width="1.3"/>
<line x1="368.70" y1="562.10" x2="371.10" y2="562.10" stroke="#333" stroke-width="1.1"/>
<text x="368.10" y="565.40" font-size="9.6" text-anchor="end" font-weight="normal" fill="#333" stroke="#333" stroke-width="0.3" textLength="14.40" lengthAdjust="spacingAndGlyphs">400</text>
<line x1="368.70" y1="571.10" x2="371.10" y2="571.10" stroke="#333" stroke-width="1.1"/>
<text x="368.10" y="574.40" font-size="9.6" text-anchor="end" font-weight="normal" fill="#333" stroke="#333" stroke-width="0.3" textLength="14.40" lengthAdjust="spacingAndGlyphs">200</text>
<line x1="368.70" y1="582.40" x2="371.10" y2="582.40" stroke="#333" stroke-width="1.1"/>
<text x="368.10" y="585.70" font-size="9.6" text-anchor="end" font-weight="normal" fill="#333" stroke="#333" stroke-width="0.3" textLength="9.60" lengthAdjust="spacingAndGlyphs">60</text>
<line x1="368.70" y1="600.20" x2="371.10" y2="600.20" stroke="#333" stroke-width="1.1"/>
<text x="368.10" y="603.50" font-size="9.6" text-anchor="end" font-weight="normal" fill="#333" stroke="#333" stroke-width="0.3" textLength="9.60" lengthAdjust="spacingAndGlyphs">40</text>
<line x1="368.70" y1="617.50" x2="371.10" y2="617.50" stroke="#333" stroke-width="1.1"/>
<text x="368.10" y="620.80" font-size="9.6" text-anchor="end" font-weight="normal" fill="#333" stroke="#333" stroke-width="0.3" textLength="9.60" lengthAdjust="spacingAndGlyphs">20</text>
<line x1="368.70" y1="635.20" x2="371.10" y2="635.20" stroke="#333" stroke-width="1.1"/>
<text x="368.10" y="638.50" font-size="9.6" text-anchor="end" font-weight="normal" fill="#333" stroke="#333" stroke-width="0.3" textLength="4.80" lengthAdjust="spacingAndGlyphs">0</text>
<line x1="371.10" y1="635.20" x2="485.40" y2="635.20" stroke="#333" stroke-width="1.3"/>
<line x1="399.80" y1="635.20" x2="399.80" y2="637.70" stroke="#222" stroke-width="1"/>
<line x1="457.50" y1="635.20" x2="457.50" y2="637.70" stroke="#222" stroke-width="1"/>
<text x="416.70" y="550.50" font-size="7.6" text-anchor="start" font-weight="bold" fill="#111" stroke="#111" stroke-width="0.18" textLength="23.50" lengthAdjust="spacingAndGlyphs">CD62L</text>
<text x="419.60" y="560.10" font-size="6.6" text-anchor="start" font-weight="bold" fill="#222" stroke="#222" stroke-width="0.18" textLength="25.40" lengthAdjust="spacingAndGlyphs">p<0.0001</text>
<text x="377.00" y="645.90" font-size="7.2" text-anchor="start" font-weight="bold" fill="#444" textLength="44.50" lengthAdjust="spacingAndGlyphs">Low ZAP-70 cells</text>
<text x="436.30" y="645.90" font-size="7.2" text-anchor="start" font-weight="bold" fill="#444" textLength="45.20" lengthAdjust="spacingAndGlyphs">High ZAP-70 cells</text>
<line x1="399.8" y1="566.0" x2="457.5" y2="560.0" stroke="#555" stroke-width="0.9"/><line x1="399.8" y1="571.5" x2="457.5" y2="569.2" stroke="#666" stroke-width="0.9"/><line x1="399.8" y1="573.7" x2="457.5" y2="571.5" stroke="#777" stroke-width="0.9"/><line x1="399.8" y1="575.5" x2="457.5" y2="575.8" stroke="#666" stroke-width="0.9"/><line x1="399.8" y1="591.0" x2="457.5" y2="590.8" stroke="#555" stroke-width="0.9"/><line x1="399.8" y1="597.0" x2="457.5" y2="587.3" stroke="#333" stroke-width="0.9"/><line x1="399.8" y1="599.7" x2="457.5" y2="593.7" stroke="#444" stroke-width="0.9"/><line x1="399.8" y1="605.7" x2="457.5" y2="597.5" stroke="#333" stroke-width="0.9"/><line x1="399.8" y1="603.0" x2="457.5" y2="601.3" stroke="#555" stroke-width="0.9"/><line x1="399.8" y1="620.2" x2="457.5" y2="610.3" stroke="#666" stroke-width="0.9"/><line x1="399.8" y1="632.3" x2="457.5" y2="631.4" stroke="#444" stroke-width="0.9"/><line x1="399.8" y1="622.8" x2="457.5" y2="622.1" stroke="#777" stroke-width="0.9"/><line x1="399.8" y1="628.8" x2="457.5" y2="623.6" stroke="#222" stroke-width="0.9"/><line x1="399.8" y1="629.5" x2="457.5" y2="624.2" stroke="#888" stroke-width="0.9"/><line x1="399.8" y1="617.8" x2="457.5" y2="616.0" stroke="#333" stroke-width="0.9"/><line x1="399.8" y1="630.6" x2="457.5" y2="630.8" stroke="#666" stroke-width="0.9"/><line x1="399.8" y1="622.8" x2="457.5" y2="618.2" stroke="#333" stroke-width="0.9"/><line x1="399.8" y1="619.1" x2="457.5" y2="611.9" stroke="#888" stroke-width="0.9"/><line x1="399.8" y1="620.0" x2="457.5" y2="610.5" stroke="#999" stroke-width="0.9"/><line x1="399.8" y1="622.1" x2="457.5" y2="614.8" stroke="#666" stroke-width="0.9"/><line x1="399.8" y1="631.7" x2="457.5" y2="631.8" stroke="#222" stroke-width="0.9"/><line x1="399.8" y1="624.2" x2="457.5" y2="616.5" stroke="#777" stroke-width="0.9"/><line x1="399.8" y1="626.0" x2="457.5" y2="616.3" stroke="#555" stroke-width="0.9"/><line x1="399.8" y1="625.5" x2="457.5" y2="622.9" stroke="#222" stroke-width="0.9"/><line x1="399.8" y1="623.3" x2="457.5" y2="621.2" stroke="#555" stroke-width="0.9"/><line x1="399.8" y1="623.9" x2="457.5" y2="619.2" stroke="#333" stroke-width="0.9"/><line x1="399.8" y1="625.8" x2="457.5" y2="616.3" stroke="#555" stroke-width="0.9"/><line x1="399.8" y1="631.5" x2="457.5" y2="629.2" stroke="#555" stroke-width="0.9"/><line x1="399.8" y1="627.8" x2="457.5" y2="625.1" stroke="#555" stroke-width="0.9"/><line x1="399.8" y1="631.3" x2="457.5" y2="626.9" stroke="#222" stroke-width="0.9"/><line x1="399.8" y1="630.6" x2="457.5" y2="622.7" stroke="#444" stroke-width="0.9"/><line x1="399.8" y1="632.5" x2="457.5" y2="631.7" stroke="#666" stroke-width="0.9"/><line x1="399.8" y1="627.9" x2="457.5" y2="618.1" stroke="#888" stroke-width="0.9"/><line x1="399.8" y1="629.2" x2="457.5" y2="626.3" stroke="#444" stroke-width="0.9"/><line x1="399.8" y1="627.1" x2="457.5" y2="625.1" stroke="#888" stroke-width="0.9"/><line x1="399.8" y1="631.8" x2="457.5" y2="632.1" stroke="#333" stroke-width="0.9"/><line x1="399.8" y1="618.1" x2="457.5" y2="606.6" stroke="#999" stroke-width="0.9"/><line x1="399.8" y1="626.7" x2="457.5" y2="618.9" stroke="#888" stroke-width="0.9"/><line x1="399.8" y1="626.3" x2="457.5" y2="625.7" stroke="#888" stroke-width="0.9"/><line x1="399.8" y1="617.1" x2="457.5" y2="605.6" stroke="#999" stroke-width="0.9"/><line x1="399.8" y1="626.0" x2="457.5" y2="616.2" stroke="#444" stroke-width="0.9"/><line x1="399.8" y1="632.5" x2="457.5" y2="631.0" stroke="#777" stroke-width="0.9"/><line x1="399.8" y1="630.7" x2="457.5" y2="627.5" stroke="#999" stroke-width="0.9"/><line x1="399.8" y1="628.6" x2="457.5" y2="631.5" stroke="#888" stroke-width="0.9"/><line x1="399.8" y1="623.7" x2="457.5" y2="618.4" stroke="#666" stroke-width="0.9"/><line x1="399.8" y1="610.8" x2="457.5" y2="606.1" stroke="#888" stroke-width="0.9"/><line x1="399.8" y1="619.2" x2="457.5" y2="612.1" stroke="#aaa" stroke-width="0.9"/><line x1="399.8" y1="602.5" x2="457.5" y2="592.2" stroke="#777" stroke-width="0.9"/><line x1="399.8" y1="612.2" x2="457.5" y2="601.6" stroke="#777" stroke-width="0.9"/><line x1="399.8" y1="603.5" x2="457.5" y2="588.2" stroke="#555" stroke-width="0.9"/><line x1="399.8" y1="600.6" x2="457.5" y2="592.0" stroke="#999" stroke-width="0.9"/><line x1="399.8" y1="613.3" x2="457.5" y2="600.7" stroke="#aaa" stroke-width="0.9"/><line x1="399.8" y1="604.4" x2="457.5" y2="599.4" stroke="#888" stroke-width="0.9"/><line x1="399.8" y1="608.5" x2="457.5" y2="601.9" stroke="#666" stroke-width="0.9"/><line x1="399.8" y1="600.8" x2="457.5" y2="593.0" stroke="#777" stroke-width="0.9"/><line x1="399.8" y1="613.2" x2="457.5" y2="604.6" stroke="#888" stroke-width="0.9"/><line x1="399.8" y1="607.1" x2="457.5" y2="601.4" stroke="#666" stroke-width="0.9"/><line x1="399.8" y1="596.8" x2="457.5" y2="586.0" stroke="#555" stroke-width="0.9"/>
<line x1="399.80" y1="606.80" x2="441.20" y2="582.10" stroke="#444" stroke-width="1"/>
</g></svg>
</body></html>
